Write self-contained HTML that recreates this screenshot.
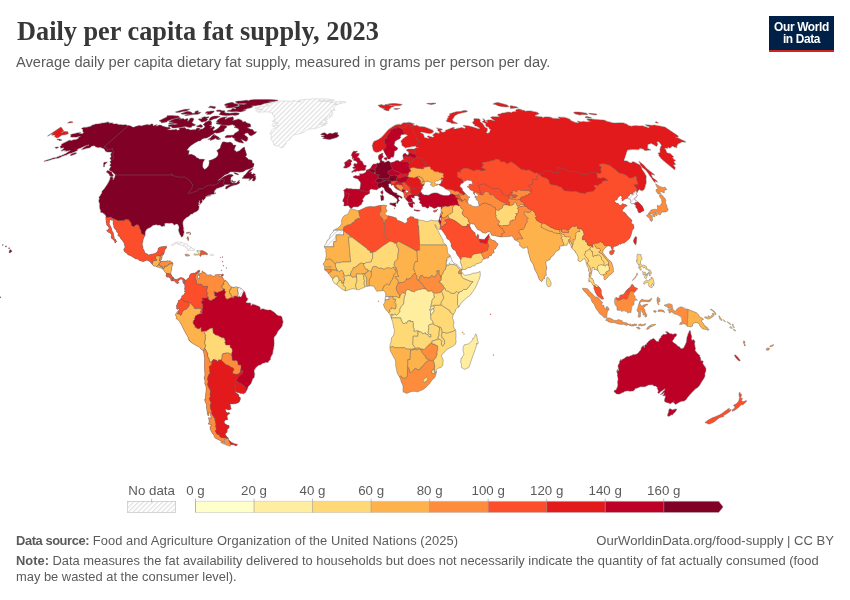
<!DOCTYPE html>
<html lang="en">
<head>
<meta charset="utf-8">
<title>Daily per capita fat supply, 2023</title>
<style>
html,body{margin:0;padding:0;background:#fff;}
body{width:850px;height:600px;position:relative;overflow:hidden;font-family:"Liberation Sans",sans-serif;color:#5b5b5b;}
.abs{position:absolute;white-space:nowrap;}
#title{left:16.5px;top:14px;font-family:"Liberation Serif",serif;font-weight:bold;font-size:27.6px;line-height:34px;color:#373737;transform-origin:0 50%;transform:scaleX(0.953);}
#subtitle{left:16px;top:52.6px;font-size:14.67px;line-height:18px;color:#5b5b5b;transform-origin:0 50%;}
#logo{left:769px;top:16px;width:65px;height:35.8px;background:#002147;border-bottom:2.8px solid #ce261e;box-sizing:border-box;color:#fff;font-weight:bold;font-size:11.9px;line-height:12px;text-align:center;padding-top:5.3px;letter-spacing:-0.35px;white-space:normal;}
.foot{font-size:12.9px;line-height:16px;color:#5b5b5b;transform-origin:0 50%;}
.foot b{font-weight:bold;}
#src{left:16px;top:533px;}
#url{right:16px;top:533px;font-size:13.07px;}
#note1{left:16px;top:553px;}
#note2{left:16px;top:569px;}
svg{position:absolute;left:0;top:0;}
.lg{font-family:"Liberation Sans",sans-serif;font-size:13.3px;fill:#5b5b5b;}
</style>
</head>
<body>
<div id="title" class="abs">Daily per capita fat supply, 2023</div>
<div id="subtitle" class="abs">Average daily per capita dietary fat supply, measured in grams per person per day.</div>
<div id="logo" class="abs">Our World<br>in Data</div>
<svg width="850" height="600" viewBox="0 0 850 600">
<defs>
<pattern id="hatch" width="3.4" height="3.4" patternUnits="userSpaceOnUse" patternTransform="rotate(45)"><rect width="3.4" height="3.4" fill="#fff"/><line x1="0.6" y1="0" x2="0.6" y2="3.4" stroke="#dedede" stroke-width="1.1"/></pattern>
<clipPath id="c_africa"><path d="M350.2,209.0L351.5,208.7L356.5,210.3L358.2,210.8L361.7,209.3L365.8,207.2L369.7,206.4L374.4,206.7L378.7,205.6L384.3,205.1L386.9,205.6L385.9,207.4L386.0,209.0L387.1,210.6L386.5,211.9L384.8,213.7L385.1,214.0L387.3,215.8L388.4,215.8L391.9,216.6L396.4,217.9L396.9,220.0L401.4,221.5L405.0,223.4L407.4,221.8L407.0,218.9L410.4,216.6L413.7,217.1L414.2,218.4L418.0,219.2L418.5,220.0L423.0,220.5L427.0,221.8L429.0,221.0L431.3,220.0L434.2,220.8L438.4,220.8L440.4,225.5L440.1,229.1L439.5,229.9L437.8,228.6L436.8,227.8L435.2,224.4L434.9,225.5L436.4,228.3L437.9,230.4L440.0,234.6L441.6,237.5L443.1,240.1L443.0,242.4L446.3,245.0L447.2,247.7L447.4,251.3L447.9,253.4L450.3,255.5L452.5,261.8L454.8,263.6L457.2,264.6L460.1,268.0L461.7,269.3L462.2,270.1L460.9,272.2L462.1,272.5L464.7,275.3L469.7,274.6L473.1,273.2L475.4,273.0L477.9,272.5L480.1,271.4L480.3,275.1L479.7,278.0L478.2,281.3L476.9,284.7L474.9,288.4L472.9,291.5L470.5,294.9L467.5,297.3L464.7,299.6L462.4,301.7L459.9,304.9L459.0,306.9L457.3,308.0L455.7,309.3L455.4,311.1L454.5,312.9L453.3,314.8L452.3,318.2L453.5,320.3L453.9,323.1L453.3,325.7L454.4,328.6L455.7,329.9L455.9,332.5L456.0,336.2L455.8,339.6L456.2,341.4L455.4,344.3L453.0,346.1L450.7,347.4L447.1,349.2L445.4,351.3L442.8,353.7L441.9,354.5L441.5,356.3L442.6,358.1L443.2,360.2L443.0,362.6L442.9,365.2L441.2,367.3L437.0,368.6L436.0,370.1L436.6,371.2L436.3,372.8L435.6,375.6L434.6,377.7L431.7,380.6L429.7,383.5L427.7,385.6L424.9,388.2L423.2,389.5L420.7,390.5L419.1,391.3L416.9,391.8L414.5,391.3L411.5,391.6L406.5,393.4L404.4,392.3L403.1,392.1L403.2,391.0L402.9,388.4L403.2,386.9L402.5,384.5L401.3,382.2L400.5,379.0L399.7,377.2L398.0,374.8L397.0,372.2L396.4,369.1L395.6,365.2L395.7,362.3L395.3,360.0L393.3,356.6L392.0,354.0L390.3,350.8L389.9,347.7L389.9,345.6L390.9,342.2L391.6,337.8L393.7,335.1L394.4,331.2L394.7,330.4L393.8,328.1L393.3,325.5L392.7,322.1L391.3,318.4L391.1,317.6L390.6,315.6L388.6,312.7L386.1,310.1L384.7,308.0L383.3,304.3L384.5,303.3L384.9,301.5L384.9,299.9L385.6,296.5L385.8,294.7L385.4,292.3L383.5,290.7L382.6,290.5L380.3,291.0L379.1,291.0L376.8,291.3L375.4,289.2L373.4,286.0L369.2,286.0L367.4,286.3L365.8,286.6L364.2,287.4L361.8,288.4L360.7,288.9L358.4,290.0L356.1,289.2L353.8,288.7L351.5,288.9L349.2,289.7L345.7,291.0L342.3,289.4L338.1,286.0L336.5,284.5L334.2,283.2L332.6,280.6L332.4,278.2L331.5,277.7L329.5,274.8L328.6,273.8L327.0,271.4L324.7,270.1L324.5,268.3L324.8,267.0L323.0,264.1L324.2,262.3L325.4,260.5L325.9,257.6L326.4,255.2L326.0,252.6L325.6,251.3L326.1,249.7L324.5,247.7L324.6,245.3L326.2,243.2L327.0,240.6L329.3,238.5L329.8,236.4L330.8,234.1L333.1,232.0L333.6,230.2L337.4,228.3L338.8,227.3L340.4,225.7L341.8,223.1L341.4,221.0L342.6,217.6L344.4,215.5L346.4,214.7L348.2,213.7L349.5,210.8Z"/></clipPath>
<clipPath id="c_namerica"><path d="M183.8,283.6L183.1,282.9L182.7,281.5L183.2,280.8L182.7,280.6L182.3,279.8L181.2,279.0L180.0,279.3L179.5,280.0L178.6,280.8L178.1,280.8L177.9,281.3L178.9,282.9L178.2,283.2L176.8,283.7L176.4,282.1L175.5,282.4L175.1,281.3L173.5,280.8L172.6,280.8L172.2,281.1L171.0,280.6L170.6,279.8L170.9,278.9L170.2,278.2L169.3,277.7L168.7,277.4L168.5,276.6L167.8,276.1L168.0,276.9L167.5,277.4L167.1,276.9L166.2,276.6L166.0,275.3L166.3,274.4L165.9,274.0L166.4,273.5L164.7,271.7L164.3,270.9L163.2,269.9L162.2,268.8L162.5,268.4L162.9,268.8L163.1,268.5L162.7,267.8L162.1,267.5L161.8,268.2L160.4,268.0L159.7,267.9L158.7,267.2L157.5,267.2L156.9,266.7L155.8,266.2L154.4,266.2L153.3,265.7L152.3,264.6L149.9,261.8L148.8,261.0L147.1,260.2L145.8,260.5L143.8,261.4L142.6,261.6L141.0,261.0L139.5,260.5L137.6,259.1L135.8,258.9L133.5,257.6L131.6,256.4L131.3,255.8L129.9,255.5L127.8,254.7L127.1,253.5L124.8,252.1L123.9,250.4L123.6,249.2L124.4,249.0L124.3,248.2L124.8,247.4L125.0,246.6L124.5,245.4L124.4,244.3L124.0,243.0L122.4,240.4L120.5,238.4L119.8,236.8L118.1,235.7L117.8,235.1L118.5,233.4L117.5,232.8L116.5,231.6L116.4,229.7L115.3,229.5L114.3,228.1L113.6,226.9L113.8,226.1L113.2,224.1L113.0,222.1L113.4,221.1L112.1,220.0L111.3,220.2L110.3,219.4L109.6,220.5L109.6,221.8L109.2,223.7L109.6,224.8L110.7,226.6L110.9,227.2L111.2,227.4L111.2,228.3L111.6,228.2L111.6,229.9L112.1,230.6L112.4,231.5L113.4,232.9L113.6,235.3L114.0,236.5L114.4,237.7L114.2,239.0L115.3,239.1L116.0,240.3L116.6,241.5L116.4,241.9L115.3,242.9L114.9,242.9L114.6,241.3L113.4,239.8L112.0,238.6L111.0,237.9L111.5,236.0L111.5,234.6L110.6,233.8L109.4,232.6L109.0,232.9L108.6,232.2L107.4,231.6L106.5,230.1L106.7,229.9L107.6,230.1L108.7,229.1L109.1,227.9L107.9,226.0L106.8,225.3L106.5,223.7L106.2,222.0L105.9,219.9L105.8,217.5L105.9,216.2L105.1,214.7L104.2,214.4L104.2,213.6L103.1,213.5L102.6,212.8L100.6,212.5L100.3,212.1L100.6,210.7L99.6,208.1L99.4,204.4L99.7,203.8L99.2,203.0L98.6,200.8L99.3,198.7L98.9,197.3L100.5,195.1L101.7,192.9L102.1,190.9L104.4,188.5L107.6,183.8L109.3,180.4L110.1,178.2L110.2,177.0L110.8,176.5L113.2,177.4L112.8,179.8L113.7,179.1L114.7,177.0L115.3,175.0L115.1,174.2L112.9,172.5L112.2,171.4L109.3,170.3L109.9,168.1L111.4,166.6L109.7,165.5L111.0,163.5L110.1,161.7L111.1,160.4L110.8,159.5L109.8,158.7L111.2,156.6L110.5,154.6L111.6,152.3L110.0,152.1L107.1,152.1L105.5,151.4L104.2,148.9L102.9,148.4L100.5,147.6L97.8,147.8L95.3,146.7L94.2,145.7L91.6,146.2L90.2,147.8L89.0,148.0L86.4,148.5L83.9,149.3L81.3,149.8L82.5,148.4L86.0,146.0L88.7,145.3L88.9,144.7L85.1,146.0L82.0,147.6L77.5,149.3L77.6,150.5L73.9,152.2L70.8,153.2L68.1,154.0L66.5,155.1L62.2,156.3L60.3,157.5L57.0,158.5L55.9,158.4L53.4,159.0L50.5,159.9L48.1,160.7L44.0,161.4L44.1,161.0L47.5,159.8L50.2,159.1L53.6,157.7L56.3,157.4L58.3,156.4L62.6,155.0L63.5,154.5L65.8,153.6L68.2,151.8L70.7,150.4L67.8,151.1L67.6,150.7L65.6,151.6L65.8,150.3L64.3,151.2L65.0,150.0L62.0,151.0L60.9,151.0L62.4,149.5L63.7,148.7L63.5,147.8L60.6,148.3L60.4,147.1L59.8,146.6L61.5,145.2L61.3,144.2L63.7,142.9L66.8,141.5L69.0,140.3L70.7,140.2L71.4,140.5L74.3,139.4L75.3,139.6L77.6,138.9L78.6,137.8L78.1,137.4L80.6,136.5L79.5,136.6L77.0,137.1L75.8,137.6L75.0,137.1L72.2,137.3L70.4,136.8L70.8,135.8L70.4,134.5L74.2,133.6L79.5,132.4L81.0,132.4L79.2,133.6L83.0,133.5L83.4,132.1L82.5,131.2L82.8,130.1L82.5,129.2L81.2,128.4L83.8,127.3L86.9,127.2L90.5,126.2L92.4,125.1L95.6,124.1L97.6,123.9L102.2,122.9L103.5,123.1L107.7,121.9L109.5,122.4L109.3,123.3L110.6,122.9L113.2,123.0L112.4,123.5L114.4,123.9L116.4,123.7L118.9,124.4L121.8,124.6L122.7,124.9L125.4,124.5L127.0,125.2L128.4,125.5L130.9,126.0L132.2,127.1L133.8,127.3L136.3,126.3L139.2,125.6L141.3,125.9L145.0,125.0L148.3,124.4L148.4,125.3L150.2,124.8L151.8,123.8L152.7,124.0L153.2,126.0L157.1,124.5L155.5,126.2L157.9,125.8L159.3,125.1L161.1,125.3L162.7,126.2L165.7,127.0L167.7,127.4L169.5,127.2L170.6,128.4L167.1,129.5L169.8,129.9L174.6,129.7L176.4,129.3L177.0,130.6L179.9,129.5L179.0,128.6L180.8,127.8L183.0,127.7L184.5,127.5L185.4,128.0L186.0,129.2L188.1,129.0L190.2,130.0L193.1,129.7L195.6,129.7L196.5,128.4L198.4,128.0L200.3,128.7L198.6,130.8L201.1,129.1L202.4,129.1L205.1,126.9L204.4,125.5L203.2,124.6L205.5,122.3L208.9,120.7L210.7,121.0L211.5,122.0L211.6,124.4L209.2,125.5L212.0,125.9L210.2,128.2L213.8,126.5L214.7,127.9L212.9,129.5L213.5,131.0L216.4,129.4L219.1,127.5L221.0,125.1L223.3,125.3L225.5,125.6L226.9,126.7L226.2,127.8L224.1,129.0L224.5,130.1L223.5,131.2L219.1,132.8L216.5,133.2L215.1,132.5L213.8,133.6L210.8,135.6L209.6,136.6L206.5,138.1L203.8,138.3L201.7,139.3L200.5,140.8L198.3,141.1L194.7,143.0L190.9,145.6L188.8,147.5L186.8,150.3L189.3,150.7L188.7,153.0L188.4,154.8L191.3,154.3L194.2,155.4L195.5,156.3L196.2,157.5L198.2,158.2L199.6,159.2L202.7,159.3L204.7,159.6L203.2,161.7L202.6,164.2L202.6,167.0L204.4,169.4L206.3,168.6L208.6,166.0L209.5,162.1L208.8,160.7L212.5,159.6L215.5,157.9L217.5,156.2L218.2,154.5L218.0,152.5L216.7,150.7L220.3,148.1L220.7,146.0L222.3,142.3L223.9,141.7L226.6,142.4L228.3,142.6L230.1,142.0L231.4,142.8L232.9,144.1L232.9,145.1L236.1,145.3L235.0,147.3L234.1,150.3L235.6,150.7L236.3,152.1L239.6,150.7L242.6,148.1L244.4,147.0L244.8,149.1L245.9,152.2L246.7,155.1L245.3,156.6L247.3,158.0L248.4,159.4L251.3,160.1L252.2,160.8L252.2,162.9L253.6,163.3L254.1,164.2L253.3,167.0L251.5,168.0L249.8,168.8L246.2,169.8L243.0,171.8L239.5,172.2L235.4,171.7L232.4,171.7L230.3,171.8L227.9,173.7L224.9,174.8L220.8,178.2L217.6,180.5L219.5,180.1L223.9,176.7L228.9,174.6L232.0,174.4L233.4,175.6L230.9,177.3L230.6,180.1L230.7,182.0L233.0,183.3L236.5,182.9L239.4,180.0L239.0,181.9L240.0,182.8L237.0,184.5L232.0,186.0L229.6,187.0L226.7,188.9L225.2,188.7L225.8,186.5L230.0,184.4L226.7,184.5L224.3,184.8L224.4,185.7L221.8,186.9L219.3,187.8L216.9,188.6L215.3,190.1L214.8,190.6L214.3,192.0L214.5,193.4L215.4,193.5L215.5,192.5L215.9,193.1L215.5,193.8L214.0,194.2L213.0,194.2L211.3,194.7L209.0,194.9L207.0,195.7L210.3,195.2L210.8,195.7L207.5,196.4L206.2,196.4L205.5,196.9L206.1,197.0L205.0,198.8L202.9,200.8L202.9,200.2L202.0,199.4L202.0,200.8L202.4,201.2L202.2,202.2L201.2,203.2L199.4,205.3L199.2,205.2L200.4,203.4L199.6,202.4L200.0,200.3L199.2,201.4L199.2,203.1L197.9,202.6L199.1,203.5L198.5,206.0L199.1,206.1L199.1,207.0L198.7,209.7L196.8,211.6L194.3,212.4L192.5,213.9L191.4,214.1L190.0,215.0L189.5,215.9L186.7,217.6L185.1,218.8L183.7,220.4L182.9,222.2L182.9,224.0L183.2,226.3L183.8,228.1L183.6,229.3L184.1,232.3L183.7,234.0L183.5,235.1L182.7,236.7L181.9,237.0L180.9,236.7L180.7,235.5L180.0,234.9L179.2,232.7L178.5,230.7L178.3,229.7L179.1,227.9L178.8,226.5L177.6,224.3L176.8,223.9L174.3,225.1L173.9,225.0L173.1,223.8L171.9,223.1L169.3,223.4L167.4,223.2L165.7,223.3L164.7,223.7L164.9,224.4L164.6,225.5L165.0,226.0L164.5,226.3L163.7,226.0L162.8,226.4L161.2,226.4L159.9,225.0L157.8,225.3L156.4,224.7L155.0,224.9L152.9,225.5L150.5,227.4L148.0,228.6L146.5,229.8L145.7,231.0L145.3,232.8L145.1,234.0L145.4,234.9L144.1,237.2L143.3,239.1L142.6,242.6L142.2,243.9L142.3,245.3L142.9,246.6L143.0,248.6L144.2,250.6L144.6,252.0L145.3,253.3L147.6,254.0L148.3,255.1L150.4,254.4L152.2,254.1L154.0,253.7L155.5,253.2L157.1,252.1L157.8,250.6L158.3,248.4L158.8,247.7L160.4,247.0L162.9,246.4L164.9,246.5L166.3,246.2L166.7,246.8L166.5,248.0L165.1,249.6L164.3,251.2L164.7,251.7L164.2,252.8L163.4,254.8L162.9,254.1L162.4,254.2L162.8,254.6L162.7,255.3L162.1,256.4L162.3,256.8L162.0,257.8L162.1,258.0L161.6,259.3L161.1,260.0L160.7,260.1L160.1,261.0L160.8,261.5L161.1,261.1L161.7,261.4L162.5,261.1L163.1,261.0L163.7,261.1L164.7,261.3L165.8,261.3L166.5,261.0L166.9,260.7L167.6,260.8L168.1,261.0L168.7,260.9L169.2,260.7L170.2,261.1L170.5,261.1L171.2,261.6L171.8,262.2L172.6,262.6L173.1,263.3L172.9,263.6L172.7,264.2L172.8,265.1L172.2,266.0L171.9,267.1L171.7,268.2L171.8,268.9L171.8,270.1L171.4,270.3L171.1,271.4L171.2,272.1L170.7,272.8L170.7,273.5L171.0,273.9L171.5,275.3L172.3,276.4L173.4,277.5L174.1,278.4L174.1,279.0L175.0,279.1L175.2,278.9L175.8,279.5L176.9,279.4L178.0,278.7L179.4,278.2L180.2,277.4L181.5,277.6L181.4,277.8L182.6,277.9L183.6,278.3L184.3,279.1L185.2,279.9L184.9,280.2L185.3,281.8L184.9,282.5L184.1,282.4Z"/></clipPath>
<clipPath id="c_hispaniola"><path d="M197.1,250.5L198.5,250.6L200.4,251.0L200.7,250.6L202.5,250.6L203.8,251.3L204.4,251.2L204.7,252.1L206.0,252.1L205.8,252.8L206.8,252.9L207.8,253.9L206.9,254.9L205.9,254.4L204.8,254.5L204.1,254.4L203.6,254.8L202.7,255.0L202.4,254.4L201.6,254.8L200.6,256.5L200.0,256.1L200.0,255.4L198.5,254.9L197.4,255.1L196.1,254.9L194.9,255.4L193.8,254.6L194.1,253.8L196.1,254.1L197.8,254.3L198.7,253.7L197.8,252.6L197.9,251.6L196.5,251.2Z"/></clipPath>
<clipPath id="c_samerica"><path d="M185.2,279.9L186.3,279.9L188.2,278.1L189.1,277.8L189.2,277.0L189.8,274.8L191.1,273.6L192.6,273.5L192.8,273.0L194.6,273.2L196.5,271.9L197.4,271.3L198.6,270.0L199.4,270.2L200.0,270.9L199.5,271.7L199.4,272.4L198.0,272.7L198.7,273.8L198.6,275.2L197.5,276.7L198.2,278.8L199.2,278.6L199.8,276.7L199.2,275.8L199.2,273.8L202.1,272.8L201.9,271.6L202.7,270.7L203.4,272.6L205.0,272.6L206.4,274.1L206.5,274.9L208.5,274.9L211.0,274.7L212.2,275.9L214.0,276.2L215.3,275.4L215.4,274.7L218.2,274.6L221.0,274.5L219.0,275.3L219.7,276.5L221.5,276.7L223.2,278.0L223.5,280.1L224.7,280.0L225.6,280.6L227.1,281.6L228.4,283.3L228.5,284.7L229.3,284.7L230.5,286.0L231.4,286.9L234.1,287.4L234.4,287.0L236.3,286.8L238.7,287.5L239.5,287.7L241.2,288.4L243.6,290.6L243.9,291.6L244.7,291.5L245.3,293.0L246.5,297.5L247.7,298.0L247.8,299.8L246.0,301.9L246.7,302.7L250.8,303.1L250.9,305.7L252.7,304.0L255.6,305.0L259.4,306.5L260.6,308.1L260.2,309.5L262.9,308.7L267.4,310.1L270.8,310.0L274.3,312.2L277.2,315.1L279.0,315.8L281.0,316.0L281.8,316.8L282.7,320.1L283.1,321.7L282.3,326.0L281.1,327.7L278.0,331.3L276.6,334.3L275.0,336.6L274.5,336.6L273.9,338.5L274.3,343.4L273.8,347.4L273.7,349.2L273.0,350.2L272.8,353.7L270.8,357.1L270.5,359.8L268.8,360.9L268.3,362.5L265.9,362.5L262.4,363.5L260.9,364.7L258.5,365.4L256.0,367.5L254.4,370.1L254.2,372.0L254.8,373.5L254.6,376.1L254.3,377.4L252.9,378.8L251.1,383.4L249.4,385.5L248.1,386.7L247.5,389.2L246.4,390.7L245.7,392.3L243.5,393.8L241.8,393.3L240.7,393.5L238.4,392.4L237.0,392.5L235.4,391.1L235.5,392.4L238.7,394.7L238.8,396.5L240.3,397.6L240.5,398.9L239.1,402.2L236.3,403.6L232.1,404.1L229.7,403.9L230.5,405.4L230.6,407.4L231.3,408.7L230.3,409.6L228.2,410.0L225.9,409.0L225.3,409.7L226.3,412.3L228.0,413.0L228.9,412.2L229.9,413.6L228.2,414.4L227.0,416.0L227.5,418.6L227.5,419.9L225.5,419.9L224.3,421.2L224.4,423.2L227.0,425.0L229.1,425.6L229.2,427.8L227.3,429.3L227.1,432.3L225.6,433.2L225.3,434.4L227.0,437.0L228.9,438.5L228.0,438.4L226.7,438.9L224.2,439.9L224.9,442.2L224.1,442.2L221.5,441.4L218.5,439.7L215.4,438.3L214.1,436.7L214.0,435.2L212.3,433.5L210.2,429.2L210.1,426.8L211.5,424.8L208.2,424.1L209.3,421.8L208.5,417.5L211.1,418.4L210.3,413.1L208.7,412.4L209.1,415.6L207.7,415.3L207.1,411.6L206.3,406.8L206.7,405.0L205.4,402.5L204.4,399.5L205.3,399.4L205.5,395.2L206.0,391.1L206.1,387.2L204.7,383.3L205.0,381.1L204.1,377.9L204.9,374.7L204.5,369.6L204.5,364.2L204.6,358.4L204.0,354.1L203.1,350.4L200.6,348.9L200.4,347.8L195.6,345.2L191.2,342.4L189.3,340.8L188.2,338.6L188.5,337.9L186.3,334.4L183.7,329.6L181.3,324.4L180.3,323.2L179.5,321.3L177.6,319.6L175.9,318.5L176.6,317.4L175.4,314.9L176.1,313.1L177.9,311.4L179.1,309.4L178.5,308.3L177.7,309.5L176.3,308.4L176.7,307.6L176.3,305.3L177.1,304.9L177.5,303.2L178.4,301.6L178.2,300.5L179.5,299.9L181.1,298.9L180.8,298.1L181.7,297.9L181.6,296.6L182.1,295.6L183.3,295.4L184.3,293.8L185.2,292.4L184.4,291.8L184.9,290.3L184.4,287.9L184.9,287.2L184.7,285.0L183.8,283.6L184.1,282.4L184.9,282.5L185.3,281.8L184.9,280.2Z"/></clipPath>
<clipPath id="c_tdf"><path d="M228.3,439.2L229.5,440.4L231.3,442.2L234.4,443.7L237.4,444.3L237.0,445.6L235.3,445.7L233.9,444.8L232.7,444.7L230.6,444.7L230.2,446.3L227.4,445.6L223.2,443.8L220.6,442.5L222.0,441.9L225.0,442.8L225.5,441.7L225.3,439.9L226.4,439.4Z"/></clipPath>
<clipPath id="c_eurasia"><path d="M438.4,220.8L439.0,220.0L439.5,218.7L439.8,216.8L439.9,216.0L440.5,214.0L441.2,212.1L440.9,210.0L441.0,208.7L441.2,206.9L439.9,206.9L437.9,206.4L436.5,207.7L434.0,208.5L432.2,207.2L429.2,206.1L428.8,207.7L427.3,208.2L425.0,206.7L422.6,206.7L421.9,205.9L421.7,204.3L419.4,202.8L420.3,200.9L418.8,199.4L418.7,198.1L419.7,197.0L418.1,196.5L418.1,196.0L416.8,195.7L414.6,195.7L413.7,197.3L414.9,197.8L412.5,198.1L411.6,196.8L411.1,198.1L412.7,200.2L412.0,200.9L414.5,202.8L414.6,204.1L413.3,203.5L412.7,204.6L413.1,207.2L411.6,207.4L409.8,206.4L408.3,203.8L408.7,202.5L411.9,203.0L412.1,202.5L408.6,202.1L407.3,200.9L406.1,199.6L405.6,198.9L404.2,197.3L403.9,194.4L403.8,193.2L402.7,192.1L401.8,191.6L399.8,190.6L396.4,189.0L394.6,187.2L393.8,185.2L392.5,184.4L391.8,185.7L391.0,183.9L390.0,183.4L388.4,184.1L388.7,185.4L388.8,187.2L391.1,188.8L392.3,191.1L393.9,192.6L397.1,193.2L396.5,194.2L399.0,195.5L401.2,196.5L402.3,197.8L401.9,198.6L399.1,196.8L398.3,197.8L398.4,199.1L399.5,200.7L398.3,201.4L397.6,203.5L396.7,203.3L396.8,201.4L397.6,200.2L396.2,198.1L394.9,197.6L394.4,196.5L393.1,196.0L391.7,195.0L389.6,194.2L388.7,193.4L386.3,191.9L385.0,190.6L384.5,189.0L383.8,187.7L381.5,186.7L379.9,188.0L378.6,188.2L376.8,189.8L374.3,189.5L372.6,189.3L371.1,189.0L369.5,190.1L369.5,191.9L369.7,193.2L367.6,194.4L364.9,195.5L364.5,196.5L362.4,199.4L363.4,201.2L361.9,202.5L361.5,204.3L358.9,206.1L358.2,206.7L355.4,206.7L353.5,206.7L351.5,208.2L350.9,208.5L349.4,206.9L349.2,206.1L347.9,205.4L347.1,205.4L345.7,205.9L343.8,205.9L344.1,203.5L344.1,202.2L342.7,201.2L343.2,199.6L344.1,197.6L344.6,195.0L344.3,193.2L344.3,191.6L343.5,190.3L345.7,189.0L346.5,188.2L348.4,188.8L351.1,188.8L353.6,189.3L355.1,189.0L356.7,189.3L359.2,189.3L359.9,189.0L360.5,185.9L360.7,183.6L360.5,182.1L358.9,180.6L358.5,179.5L357.3,178.8L354.7,178.0L353.5,177.5L353.3,176.5L355.7,175.5L357.5,176.0L359.2,175.7L359.8,175.7L359.8,173.4L360.6,173.9L363.2,173.7L365.0,172.7L366.2,171.7L366.2,170.2L368.0,169.6L369.7,168.9L370.9,167.6L371.8,166.1L372.4,164.9L373.7,164.1L376.5,163.9L377.0,163.1L378.8,163.4L379.7,162.7L380.3,162.2L379.8,160.2L379.0,159.7L378.5,158.5L378.4,156.0L379.3,154.8L381.6,153.6L382.9,153.3L382.7,154.5L382.6,156.0L383.7,156.5L382.5,157.7L381.6,158.7L381.5,159.9L382.1,160.4L382.3,161.2L384.1,161.4L384.0,162.4L386.5,161.9L387.2,161.2L388.9,160.9L389.8,162.2L390.8,162.7L394.4,161.7L395.8,160.7L398.3,160.4L399.2,161.4L400.9,161.4L401.4,160.2L403.6,159.4L403.2,158.0L402.8,155.5L403.7,153.8L405.5,153.3L406.9,155.0L408.6,154.8L408.8,152.8L408.6,151.6L406.8,150.9L406.6,149.7L408.9,149.0L412.8,149.0L414.8,149.0L414.9,148.3L416.6,147.8L418.7,148.0L416.3,147.3L415.3,146.1L414.0,146.6L411.3,146.8L409.0,147.3L405.4,148.0L403.9,146.8L401.9,145.4L401.8,143.7L400.9,141.6L401.4,140.2L402.8,138.8L406.3,136.3L407.5,135.8L407.1,134.9L404.9,134.2L401.6,134.4L400.2,136.3L400.7,137.4L399.6,138.8L397.4,139.7L394.9,141.4L394.5,143.3L394.1,144.7L394.7,146.1L397.2,147.5L397.8,148.7L396.3,150.4L394.4,151.1L394.1,155.0L393.3,157.2L391.0,157.0L390.1,158.9L387.8,158.9L387.0,156.7L385.3,154.1L383.5,150.4L382.3,149.0L382.3,150.2L379.8,151.6L378.7,151.9L376.1,152.4L373.6,151.1L372.8,148.5L372.1,145.4L373.6,141.6L378.3,139.5L381.5,137.2L384.5,134.0L388.2,129.7L390.6,127.9L394.9,125.3L398.3,124.2L401.0,124.4L403.1,122.7L406.2,122.7L409.1,122.2L414.6,123.9L412.6,124.4L414.8,125.7L416.3,125.1L419.5,126.4L424.2,126.8L431.5,129.5L433.1,130.4L433.7,131.9L432.1,133.1L429.6,133.8L421.3,131.9L420.2,132.4L423.4,134.0L424.6,137.4L427.0,138.1L428.6,138.7L428.5,137.7L427.1,136.5L428.1,135.8L432.8,137.2L434.0,136.5L432.4,134.9L435.6,132.6L437.3,132.9L439.0,133.5L439.5,131.9L437.6,130.6L438.0,129.3L436.3,127.9L441.3,128.7L442.7,129.9L440.6,130.1L441.2,131.5L442.7,132.2L445.3,131.7L445.1,130.4L448.2,129.3L453.2,127.3L454.6,127.5L453.6,128.8L455.7,129.0L456.6,128.4L459.7,128.1L461.8,127.3L464.3,128.6L465.6,127.3L463.1,125.9L463.6,125.2L468.9,125.9L471.6,126.6L479.1,129.0L479.6,127.9L477.3,126.8L476.7,126.2L474.6,125.9L474.7,125.1L472.6,123.3L472.2,122.7L473.9,120.7L473.8,118.8L474.6,118.4L479.2,118.8L480.4,120.1L480.0,121.8L481.6,122.5L483.1,124.0L484.8,127.0L487.5,128.4L487.6,129.9L486.3,133.1L488.3,133.3L488.6,132.6L490.1,131.9L489.9,130.8L490.6,129.7L489.0,128.6L488.6,127.0L486.7,126.8L485.6,125.7L485.5,123.5L482.1,121.8L484.0,120.3L482.6,118.8L483.2,118.6L485.0,119.9L485.9,122.0L487.8,122.2L485.9,120.7L488.0,119.9L491.4,119.9L495.2,121.1L492.4,119.3L490.5,117.2L492.8,116.6L496.8,116.7L499.9,116.5L497.5,115.3L498.2,114.1L499.9,114.1L502.0,113.1L505.6,112.7L505.5,112.2L509.5,112.1L511.2,112.5L513.4,111.5L516.3,111.5L515.4,110.5L515.9,109.7L518.4,108.9L521.7,109.5L520.4,110.1L524.2,110.3L525.7,111.3L526.7,110.9L531.1,110.9L535.8,111.9L538.0,112.6L539.1,113.7L538.2,114.3L535.4,115.3L534.8,115.9L537.2,116.3L540.1,116.7L541.0,116.4L543.5,117.8L543.5,117.2L545.7,116.8L551.2,117.2L552.7,118.2L559.8,118.5L558.0,117.0L561.7,117.2L564.2,117.2L568.3,118.4L570.7,119.7L570.8,120.5L574.9,122.2L578.6,123.1L577.4,121.0L581.2,121.8L583.3,121.3L587.2,121.9L587.7,121.4L590.7,121.6L586.8,119.7L587.8,118.7L604.2,120.1L607.5,121.4L614.1,123.1L620.1,122.7L623.7,122.9L626.5,123.9L628.7,125.5L631.7,126.2L633.4,125.7L635.9,125.5L639.7,125.9L642.5,125.7L648.5,127.7L649.5,127.0L646.0,125.6L645.2,124.6L651.5,125.3L654.6,125.1L661.2,126.2L665.1,127.1L678.5,136.1L677.8,137.2L675.2,137.0L678.5,138.1L682.3,140.1L684.1,140.7L685.6,141.7L685.9,142.3L682.0,141.9L679.2,143.5L678.0,143.9L677.3,145.5L676.6,147.1L677.1,148.0L672.4,146.3L670.0,148.3L667.9,147.3L667.7,148.5L664.5,148.0L665.9,149.7L666.5,152.1L667.7,153.1L670.4,153.6L673.9,157.0L672.4,157.2L673.7,159.2L675.7,160.3L673.8,161.7L675.8,164.4L673.3,164.9L675.4,167.6L674.7,169.9L672.3,168.1L668.0,164.5L661.4,158.9L658.7,155.5L658.8,154.1L657.8,153.1L660.1,152.4L660.0,149.5L660.4,147.1L661.5,145.2L658.7,141.7L656.7,141.9L658.1,144.0L656.6,146.6L651.5,143.6L647.9,144.4L647.7,148.4L651.1,149.9L647.4,150.4L644.9,150.7L643.1,149.0L639.9,148.6L638.8,149.8L632.8,149.5L627.4,150.1L625.9,154.8L623.9,160.7L627.2,160.9L629.5,162.5L631.9,163.0L632.0,161.8L634.3,161.9L639.5,164.7L641.4,166.8L642.0,169.3L644.2,172.3L646.4,176.3L646.0,180.0L646.5,181.8L645.7,184.8L644.8,187.8L644.5,189.3L642.6,190.8L641.3,190.8L639.3,189.6L637.6,191.5L637.8,192.3L636.9,192.2L636.5,193.0L636.4,193.9L637.5,195.8L636.8,196.4L636.6,196.8L636.2,197.6L635.1,198.1L634.4,198.7L635.0,199.9L636.0,200.5L637.8,201.7L641.1,204.8L642.5,206.4L643.8,209.4L643.7,210.9L641.9,211.4L640.7,212.4L638.8,212.7L637.9,211.3L637.5,209.3L635.3,206.6L636.7,206.2L634.2,203.9L632.9,203.4L632.4,204.1L631.4,203.4L630.6,203.0L630.6,201.8L631.0,201.5L630.6,201.1L630.4,199.7L630.1,199.2L628.7,199.0L627.3,198.3L624.7,199.0L623.7,200.2L621.8,200.9L622.3,199.7L621.4,198.7L622.2,197.0L620.4,195.6L619.0,196.5L617.5,198.3L617.0,200.0L615.0,200.2L614.4,201.3L616.4,203.1L618.3,203.5L618.9,204.7L621.0,205.5L622.5,203.6L624.9,204.6L626.3,204.7L627.3,206.1L624.6,206.8L624.2,208.2L622.6,209.5L622.2,211.3L625.2,212.8L627.0,215.3L629.3,217.7L631.5,219.7L632.1,221.7L631.0,222.4L632.0,223.8L633.5,224.6L633.9,226.7L633.9,228.8L632.8,229.0L631.9,231.9L631.0,235.3L629.6,238.4L627.0,240.8L624.3,243.0L621.8,243.3L620.7,244.5L619.7,243.6L618.7,244.9L615.8,246.2L613.4,246.6L613.1,249.4L611.9,249.5L611.0,247.6L611.3,246.6L608.2,245.8L607.2,246.2L604.5,248.4L603.0,250.9L602.8,252.7L605.0,255.5L607.6,258.9L609.9,260.5L611.6,262.6L613.2,267.4L613.4,272.0L611.6,273.7L609.1,275.4L607.5,277.6L604.8,280.0L603.8,278.4L604.3,276.6L602.5,275.1L600.5,274.7L599.5,273.4L598.1,270.7L595.9,269.5L594.0,269.5L594.1,267.5L592.1,267.5L592.2,270.4L591.3,274.2L590.7,276.5L591.0,278.4L592.5,278.4L593.6,280.8L594.1,283.1L595.5,284.6L596.9,284.9L598.2,286.3L598.7,286.5L600.1,288.1L601.2,289.8L601.4,291.6L601.2,292.8L601.4,293.7L601.7,295.2L602.5,295.9L603.5,298.2L603.4,299.1L601.8,299.3L599.6,297.4L596.8,295.3L596.5,294.0L595.1,292.2L594.7,290.0L593.8,288.6L594.0,286.7L593.4,285.6L592.4,284.6L592.0,283.3L590.7,281.8L589.5,280.6L589.2,282.2L588.7,280.7L588.8,279.1L589.3,276.6L589.0,274.6L589.5,272.6L588.6,271.1L588.5,268.2L587.4,266.9L586.4,263.7L585.6,260.5L584.3,258.3L583.0,259.6L580.6,261.5L579.3,261.2L577.8,260.6L578.2,257.4L577.4,254.9L575.2,251.9L575.3,251.0L574.0,250.6L572.1,248.5L571.2,247.2L570.9,245.8L570.3,244.6L569.2,243.0L567.1,243.0L567.4,244.0L566.9,245.5L565.9,244.9L565.6,245.4L564.9,245.1L564.0,244.9L563.8,245.9L562.3,245.8L559.6,246.3L560.0,248.3L559.0,249.9L555.9,251.6L553.8,254.7L552.3,256.4L550.2,258.0L550.3,259.3L549.2,259.9L547.3,260.8L546.2,261.0L545.8,263.0L546.5,266.4L546.8,268.5L546.0,271.0L546.3,275.4L545.2,275.6L544.2,277.6L545.0,278.4L542.9,279.2L542.2,281.0L541.3,281.7L539.0,279.3L537.8,275.6L536.7,273.0L535.9,271.7L534.5,269.2L533.7,266.0L533.1,264.3L530.7,260.7L529.3,255.7L528.2,252.3L527.9,249.2L527.2,246.7L524.1,248.3L522.4,248.0L519.1,244.8L520.1,243.9L519.4,242.8L516.5,240.6L514.7,240.0L513.9,238.1L511.8,236.1L507.8,236.6L504.1,236.6L501.0,237.0L496.7,236.2L494.2,235.6L491.6,235.3L490.3,232.1L489.1,231.6L487.5,232.1L485.4,233.3L482.5,232.5L480.1,230.5L477.8,229.7L476.0,227.3L474.0,223.8L472.8,224.2L471.3,223.3L470.6,224.3L469.2,224.2L469.9,225.4L469.7,226.0L470.7,227.9L471.8,230.2L473.0,230.8L473.5,231.7L475.1,232.8L475.4,233.9L475.2,234.8L475.6,235.6L476.3,236.3L476.7,237.2L477.1,237.9L476.8,236.0L477.2,234.6L477.8,234.3L478.6,235.1L478.8,236.6L478.5,238.2L479.0,239.2L479.4,239.1L481.2,239.3L483.1,239.4L484.5,239.5L485.8,237.7L487.3,236.1L488.6,234.4L489.2,233.6L489.1,235.4L489.6,237.4L490.8,239.2L492.2,240.1L493.9,240.5L495.2,240.9L496.4,242.5L497.1,243.3L497.9,243.7L498.0,244.2L497.3,245.8L497.0,246.5L496.1,247.4L495.4,249.1L494.4,249.0L494.0,249.6L493.7,250.9L494.2,252.7L494.0,253.0L492.9,253.0L491.6,254.0L491.5,255.3L491.0,255.8L489.6,255.8L488.7,256.5L488.8,257.5L487.8,258.2L486.5,258.0L485.1,258.9L484.0,259.0L482.4,259.7L482.0,260.9L482.1,261.8L479.8,262.9L476.3,264.1L474.3,265.9L473.3,266.1L472.6,265.9L471.3,267.0L469.9,267.5L468.0,267.6L467.4,267.8L467.0,268.5L466.4,268.7L466.0,269.3L464.9,269.3L464.2,269.6L462.6,269.5L461.9,268.0L461.9,266.5L461.5,265.8L461.0,263.8L460.3,262.8L460.7,262.6L460.4,261.4L460.7,260.9L460.5,259.8L460.2,258.7L459.4,257.9L459.2,256.9L458.0,255.9L456.6,253.7L455.9,251.6L454.2,249.8L453.1,249.4L451.5,246.9L451.1,245.1L451.1,243.5L449.6,240.6L448.5,239.6L447.3,239.1L446.4,237.6L446.5,237.0L445.8,235.6L445.1,235.0L444.1,233.1L442.5,231.0L441.3,229.2L440.1,229.2L440.4,227.8L440.4,226.9L440.6,225.8L440.5,225.5L438.6,221.0Z"/></clipPath>
<clipPath id="c_Ireland"><path d="M350.9,162.7L351.2,164.5L349.6,166.7L346.1,168.2L343.3,167.8L345.0,165.2L344.2,162.7L346.9,160.8L348.4,159.6L350.1,159.5L352.1,161.0Z"/></clipPath>
<clipPath id="c_Borneo"><path d="M634.7,291.7L633.5,294.1L635.3,296.5L634.9,297.7L637.5,300.1L634.8,300.5L634.0,302.2L634.1,304.6L631.9,306.4L631.7,309.0L630.7,313.0L630.4,312.1L627.7,313.2L626.9,311.6L625.3,311.5L624.1,310.6L621.4,311.6L620.6,310.3L619.0,310.5L617.1,310.2L616.9,306.7L615.8,305.9L614.7,303.7L614.4,301.4L614.6,299.0L615.9,297.3L617.7,298.2L619.4,297.7L619.8,295.4L620.8,295.0L623.5,294.4L625.1,292.3L626.2,290.7L627.0,289.7L628.9,288.3L630.6,286.5L631.7,284.4L632.6,284.4L633.8,285.7L634.0,286.9L635.6,287.6L637.5,288.4L637.4,289.4L635.9,289.5L636.3,290.8Z"/></clipPath>
<clipPath id="c_NewGuinea"><path d="M672.4,305.5L673.0,309.7L675.3,311.3L677.3,308.5L680.0,306.9L682.1,306.9L684.0,307.9L685.7,308.8L688.2,309.3L692.1,311.1L696.3,312.6L697.8,313.9L699.0,315.2L699.2,316.8L703.0,318.4L703.4,319.8L701.3,320.1L701.7,321.8L703.6,323.5L704.8,326.3L706.1,326.2L705.9,327.3L707.7,327.8L706.9,328.3L709.2,329.4L708.9,330.1L707.3,330.3L706.8,329.6L704.9,329.3L702.6,329.0L701.0,327.3L699.9,325.8L698.9,323.6L696.0,322.4L694.0,323.2L692.5,324.0L692.6,326.0L690.7,326.9L689.5,326.4L687.1,326.3L685.3,324.2L683.0,323.7L682.3,324.4L679.4,324.5L680.6,322.3L682.1,321.6L681.7,318.8L680.7,316.6L676.4,314.4L674.5,314.1L671.1,311.7L670.4,313.0L669.5,313.2L669.0,312.3L669.1,311.1L667.4,309.9L669.9,308.9L671.5,309.0L671.4,308.3L668.0,308.3L667.1,306.7L665.0,306.2L664.1,305.0L667.2,304.3L668.4,303.5L672.1,304.5Z"/></clipPath>
<clipPath id="c_Timor"><path d="M650.2,325.7L650.6,325.1L652.6,324.5L654.2,324.4L655.0,324.1L655.8,324.4L654.9,325.1L652.4,326.3L650.4,327.0L648.7,329.0L646.7,329.6L646.5,329.2L646.8,328.4L647.9,326.8Z"/></clipPath>
</defs>
<g id="map">
<g clip-path="url(#c_africa)">
<path d="M350.2,209.0L351.5,208.7L356.5,210.3L358.2,210.8L361.7,209.3L365.8,207.2L369.7,206.4L374.4,206.7L378.7,205.6L384.3,205.1L386.9,205.6L385.9,207.4L386.0,209.0L387.1,210.6L386.5,211.9L384.8,213.7L385.1,214.0L387.3,215.8L388.4,215.8L391.9,216.6L396.4,217.9L396.9,220.0L401.4,221.5L405.0,223.4L407.4,221.8L407.0,218.9L410.4,216.6L413.7,217.1L414.2,218.4L418.0,219.2L418.5,220.0L423.0,220.5L427.0,221.8L429.0,221.0L431.3,220.0L434.2,220.8L438.4,220.8L440.4,225.5L440.1,229.1L439.5,229.9L437.8,228.6L436.8,227.8L435.2,224.4L434.9,225.5L436.4,228.3L437.9,230.4L440.0,234.6L441.6,237.5L443.1,240.1L443.0,242.4L446.3,245.0L447.2,247.7L447.4,251.3L447.9,253.4L450.3,255.5L452.5,261.8L454.8,263.6L457.2,264.6L460.1,268.0L461.7,269.3L462.2,270.1L460.9,272.2L462.1,272.5L464.7,275.3L469.7,274.6L473.1,273.2L475.4,273.0L477.9,272.5L480.1,271.4L480.3,275.1L479.7,278.0L478.2,281.3L476.9,284.7L474.9,288.4L472.9,291.5L470.5,294.9L467.5,297.3L464.7,299.6L462.4,301.7L459.9,304.9L459.0,306.9L457.3,308.0L455.7,309.3L455.4,311.1L454.5,312.9L453.3,314.8L452.3,318.2L453.5,320.3L453.9,323.1L453.3,325.7L454.4,328.6L455.7,329.9L455.9,332.5L456.0,336.2L455.8,339.6L456.2,341.4L455.4,344.3L453.0,346.1L450.7,347.4L447.1,349.2L445.4,351.3L442.8,353.7L441.9,354.5L441.5,356.3L442.6,358.1L443.2,360.2L443.0,362.6L442.9,365.2L441.2,367.3L437.0,368.6L436.0,370.1L436.6,371.2L436.3,372.8L435.6,375.6L434.6,377.7L431.7,380.6L429.7,383.5L427.7,385.6L424.9,388.2L423.2,389.5L420.7,390.5L419.1,391.3L416.9,391.8L414.5,391.3L411.5,391.6L406.5,393.4L404.4,392.3L403.1,392.1L403.2,391.0L402.9,388.4L403.2,386.9L402.5,384.5L401.3,382.2L400.5,379.0L399.7,377.2L398.0,374.8L397.0,372.2L396.4,369.1L395.6,365.2L395.7,362.3L395.3,360.0L393.3,356.6L392.0,354.0L390.3,350.8L389.9,347.7L389.9,345.6L390.9,342.2L391.6,337.8L393.7,335.1L394.4,331.2L394.7,330.4L393.8,328.1L393.3,325.5L392.7,322.1L391.3,318.4L391.1,317.6L390.6,315.6L388.6,312.7L386.1,310.1L384.7,308.0L383.3,304.3L384.5,303.3L384.9,301.5L384.9,299.9L385.6,296.5L385.8,294.7L385.4,292.3L383.5,290.7L382.6,290.5L380.3,291.0L379.1,291.0L376.8,291.3L375.4,289.2L373.4,286.0L369.2,286.0L367.4,286.3L365.8,286.6L364.2,287.4L361.8,288.4L360.7,288.9L358.4,290.0L356.1,289.2L353.8,288.7L351.5,288.9L349.2,289.7L345.7,291.0L342.3,289.4L338.1,286.0L336.5,284.5L334.2,283.2L332.6,280.6L332.4,278.2L331.5,277.7L329.5,274.8L328.6,273.8L327.0,271.4L324.7,270.1L324.5,268.3L324.8,267.0L323.0,264.1L324.2,262.3L325.4,260.5L325.9,257.6L326.4,255.2L326.0,252.6L325.6,251.3L326.1,249.7L324.5,247.7L324.6,245.3L326.2,243.2L327.0,240.6L329.3,238.5L329.8,236.4L330.8,234.1L333.1,232.0L333.6,230.2L337.4,228.3L338.8,227.3L340.4,225.7L341.8,223.1L341.4,221.0L342.6,217.6L344.4,215.5L346.4,214.7L348.2,213.7L349.5,210.8Z" fill="#fed976"/>
<path d="M419.5,245.0L446.3,245.0L448.7,243.7L446.3,216.3L417.8,216.3L417.7,221.3L418.2,222.4L417.7,224.0L418.5,226.1Z" fill="#fed976" stroke="#6b6b6b" stroke-width="0.50" stroke-opacity="0.90"/>
<path d="M358.2,210.8L359.1,212.4L359.3,214.0L359.9,216.6L360.6,217.2L360.1,218.2L357.3,218.7L356.2,219.7L355.0,220.0L354.8,221.8L352.2,222.8L351.5,224.1L349.5,224.9L347.3,225.2L343.7,227.3L343.7,230.2L331.8,230.2L332.8,205.9L358.3,205.9Z" fill="#feb24c" stroke="#6b6b6b" stroke-width="0.50" stroke-opacity="0.90"/>
<path d="M343.7,230.2L343.6,234.9L336.1,234.9L336.2,241.4L333.9,241.6L333.5,243.0L333.8,246.8L322.3,246.8L322.9,230.2Z" fill="url(#hatch)" stroke="#6b6b6b" stroke-width="0.50" stroke-opacity="0.90"/>
<path d="M390.0,241.2L382.4,246.2L375.9,251.3L372.7,252.5L370.2,252.7L370.1,251.1L369.1,250.6L367.7,249.9L367.1,248.7L359.5,243.0L352.0,237.3L343.6,230.9L343.7,227.2L347.3,225.2L349.6,224.9L351.4,224.1L352.3,222.8L354.9,221.8L355.0,219.9L356.2,219.7L357.2,218.7L360.1,218.2L360.5,217.2L360.0,216.7L359.2,213.9L359.1,212.3L358.3,210.6L358.3,203.3L381.1,203.3L381.2,206.0L380.8,207.4L381.2,209.8L380.7,212.0L379.4,213.4L379.7,215.4L381.5,217.0L381.5,217.6L382.9,218.7L384.0,223.3L384.8,225.7L384.9,226.9L384.6,229.0L384.8,230.2L384.5,231.6L384.7,233.3L383.9,234.4L385.2,236.2L385.3,237.4L386.2,238.8L387.2,238.4L389.0,239.6Z" fill="#fc4e2a" stroke="#6b6b6b" stroke-width="0.50" stroke-opacity="0.90"/>
<path d="M384.0,223.3L382.9,218.7L381.5,217.6L381.5,217.0L379.7,215.4L379.4,213.4L380.7,212.0L381.2,209.8L380.8,207.4L381.2,206.0L381.1,203.3L388.8,203.3L389.3,215.8L388.2,215.9L388.1,218.0L387.1,218.7L386.4,219.6L384.9,220.5L385.2,221.6L385.0,222.7Z" fill="#fd8d3c" stroke="#6b6b6b" stroke-width="0.50" stroke-opacity="0.90"/>
<path d="M388.2,215.9L389.2,213.7L418.0,213.7L418.4,220.0L417.7,221.3L418.2,222.4L417.7,224.0L418.5,226.1L419.0,235.4L419.5,245.0L419.6,250.3L417.0,250.3L417.1,251.4L407.9,246.3L398.7,241.4L396.5,242.8L394.9,243.8L393.6,242.3L390.0,241.2L389.0,239.6L387.2,238.4L386.2,238.8L385.3,237.4L385.2,236.2L383.9,234.4L384.7,233.3L384.5,231.6L384.8,230.2L384.6,229.0L384.9,226.9L384.8,225.7L384.0,223.3L385.0,222.7L385.2,221.6L384.9,220.5L386.4,219.6L387.1,218.7L388.1,218.0Z" fill="#fc4e2a" stroke="#6b6b6b" stroke-width="0.50" stroke-opacity="0.90"/>
<path d="M322.3,246.8L333.8,246.8L333.5,243.0L333.9,241.6L336.2,241.4L336.1,234.9L343.6,234.9L343.7,230.9L352.0,237.3L348.5,237.3L349.5,248.6L350.5,259.9L350.9,260.2L350.4,262.0L341.2,262.0L340.9,262.6L339.9,262.5L338.7,263.0L337.1,262.3L336.4,262.3L336.0,263.8L335.2,264.3L333.7,262.5L332.3,260.6L330.9,259.9L329.7,259.1L328.6,259.1L327.4,259.7L326.3,259.4L325.4,260.5L322.0,260.5Z" fill="#feb24c" stroke="#6b6b6b" stroke-width="0.50" stroke-opacity="0.90"/>
<path d="M335.2,264.3L336.0,263.8L336.4,262.3L337.1,262.3L338.7,263.0L339.9,262.5L340.9,262.6L341.2,262.0L350.4,262.0L350.9,260.2L350.5,259.9L349.5,248.6L348.5,237.3L352.0,237.3L359.5,243.0L367.1,248.7L367.7,249.9L369.1,250.6L370.1,251.1L370.2,252.7L372.7,252.5L372.7,258.5L371.5,260.2L371.3,261.8L369.3,262.3L366.2,262.5L365.3,263.4L363.8,263.5L362.4,263.5L361.8,263.0L360.6,263.4L358.4,264.5L358.0,265.3L356.2,266.5L355.9,267.1L354.9,267.7L353.8,267.3L353.2,267.9L352.9,269.7L351.0,271.9L351.1,272.8L350.4,273.9L350.6,275.4L349.6,275.8L349.1,276.1L348.8,275.0L348.1,275.3L347.7,275.3L347.3,276.0L345.5,276.0L344.9,275.6L344.6,275.8L343.9,275.1L344.0,274.3L343.7,274.0L343.2,274.3L343.3,273.4L343.8,272.8L342.8,271.7L342.6,270.9L342.1,270.4L341.6,270.3L341.1,270.7L340.3,271.0L339.7,271.6L338.7,271.4L338.1,270.7L337.7,270.6L337.1,271.0L336.7,271.0L336.6,270.0L336.7,269.2L336.6,268.2L335.7,267.5L335.3,266.0Z" fill="#fed976" stroke="#6b6b6b" stroke-width="0.50" stroke-opacity="0.90"/>
<path d="M322.0,260.5L325.4,260.5L326.3,259.4L327.4,259.7L328.6,259.1L329.7,259.1L330.9,259.9L332.3,260.6L333.7,262.5L335.2,264.3L335.3,266.0L335.7,267.5L336.6,268.2L336.7,269.2L336.6,270.0L336.3,270.1L335.1,269.9L334.9,270.2L334.4,270.3L332.7,269.6L331.6,269.6L327.4,269.5L326.8,269.8L326.0,269.7L324.8,270.2L321.8,270.4Z" fill="#feb24c" stroke="#6b6b6b" stroke-width="0.50" stroke-opacity="0.90"/>
<path d="M324.4,268.2L326.5,268.2L327.1,267.8L327.5,267.8L328.4,267.2L329.3,267.8L330.3,267.8L331.3,267.2L330.9,266.5L330.1,266.9L329.4,266.9L328.5,266.2L327.8,266.3L327.3,266.9L324.8,267.0L323.0,267.0L322.9,268.2Z" fill="#fed976" stroke="#6b6b6b" stroke-width="0.50" stroke-opacity="0.90"/>
<path d="M324.8,270.2L326.0,269.7L326.8,269.8L327.4,269.5L331.6,269.6L331.6,270.5L331.3,270.8L331.5,271.7L331.1,272.0L330.6,272.0L330.0,272.4L329.3,272.4L328.3,273.7L327.1,274.0L324.0,274.0L324.0,270.4Z" fill="#fd8d3c" stroke="#6b6b6b" stroke-width="0.50" stroke-opacity="0.90"/>
<path d="M331.6,269.6L332.7,269.6L334.4,270.3L334.9,270.2L335.1,269.9L336.3,270.1L336.6,270.0L336.7,271.0L337.1,271.0L337.7,270.6L338.1,270.7L338.7,271.4L339.7,271.6L340.3,271.0L341.1,270.7L341.6,270.3L342.1,270.4L342.6,270.9L342.8,271.7L343.8,272.8L343.3,273.4L343.2,274.3L343.7,274.0L344.0,274.3L343.9,275.1L344.6,275.8L344.1,276.0L343.9,276.9L344.4,278.0L345.0,280.1L344.1,280.4L343.9,280.8L344.1,281.3L344.0,282.4L343.6,282.4L342.9,282.4L342.5,283.4L341.8,283.4L341.4,282.8L341.5,281.8L340.6,280.2L340.0,280.5L339.5,280.5L338.8,280.7L338.9,279.7L338.5,279.0L338.6,278.3L338.1,277.2L337.5,276.3L335.6,276.3L335.1,276.7L334.5,276.8L334.1,277.4L333.8,278.1L332.5,279.3L329.7,279.3L327.4,276.4L327.1,274.0L328.3,273.7L329.3,272.4L330.0,272.4L330.6,272.0L331.1,272.0L331.5,271.7L331.3,270.8L331.6,270.5Z" fill="#feb24c" stroke="#6b6b6b" stroke-width="0.50" stroke-opacity="0.90"/>
<path d="M332.5,279.3L333.8,278.1L334.1,277.4L334.5,276.8L335.1,276.7L335.6,276.3L337.5,276.3L338.1,277.2L338.6,278.3L338.5,279.0L338.9,279.7L338.8,280.7L339.5,280.5L338.4,281.8L337.3,283.2L337.2,283.9L336.7,284.8L335.4,286.8L330.8,284.2L330.8,279.3Z" fill="#ffeda0" stroke="#6b6b6b" stroke-width="0.50" stroke-opacity="0.90"/>
<path d="M336.7,284.8L337.2,283.9L337.3,283.2L338.4,281.8L339.5,280.5L340.0,280.5L340.6,280.2L341.5,281.8L341.4,282.8L341.8,283.4L342.5,283.4L342.9,282.4L343.6,282.4L343.5,283.2L343.7,284.5L343.2,285.6L343.9,286.3L344.6,286.5L345.6,287.6L345.6,288.6L345.4,288.9L345.2,291.1L345.2,293.4L335.4,288.1Z" fill="#fed976" stroke="#6b6b6b" stroke-width="0.50" stroke-opacity="0.90"/>
<path d="M345.2,291.1L345.4,288.9L345.6,288.6L345.6,287.6L344.6,286.5L343.9,286.3L343.2,285.6L343.7,284.5L343.5,283.2L343.6,282.4L344.0,282.4L344.1,281.3L343.9,280.8L344.1,280.4L345.0,280.1L344.4,278.0L343.9,276.9L344.1,276.0L344.6,275.8L344.9,275.6L345.5,276.0L347.3,276.0L347.7,275.3L348.1,275.3L348.8,275.0L349.1,276.1L349.6,275.8L350.6,275.4L351.6,276.0L352.0,276.9L353.1,277.4L353.9,276.7L354.9,276.6L356.5,277.3L357.1,281.0L356.1,283.2L355.5,286.2L356.5,288.4L356.4,289.5L356.4,292.1L345.2,293.4Z" fill="#fed976" stroke="#6b6b6b" stroke-width="0.50" stroke-opacity="0.90"/>
<path d="M356.4,289.5L356.5,288.4L355.5,286.2L356.1,283.2L357.1,281.0L356.5,277.3L356.2,275.3L356.3,273.9L360.2,273.7L361.3,273.9L362.0,273.5L363.0,273.7L362.9,274.5L363.8,275.9L363.9,277.8L364.1,279.8L364.6,280.8L364.1,283.1L364.3,284.5L364.9,286.1L365.4,287.0L365.8,289.4L356.4,292.1Z" fill="#fed976" stroke="#6b6b6b" stroke-width="0.50" stroke-opacity="0.90"/>
<path d="M356.5,277.3L354.9,276.6L353.9,276.7L353.1,277.4L352.0,276.9L351.6,276.0L350.6,275.4L350.4,273.9L351.1,272.8L351.0,271.9L352.9,269.7L353.2,267.9L353.8,267.3L354.9,267.7L355.9,267.1L356.2,266.5L358.0,265.3L358.4,264.5L360.6,263.4L361.8,263.0L362.4,263.5L363.8,263.5L363.7,264.8L364.0,266.0L365.3,267.7L365.3,268.9L368.0,269.5L367.9,271.3L367.4,272.1L366.3,272.3L365.8,273.5L365.1,273.8L363.0,273.7L362.0,273.5L361.3,273.9L360.2,273.7L356.3,273.9L356.2,275.3Z" fill="#feb24c" stroke="#6b6b6b" stroke-width="0.50" stroke-opacity="0.90"/>
<path d="M365.4,287.0L364.9,286.1L364.3,284.5L364.1,283.1L364.6,280.8L364.1,279.8L363.9,277.8L363.8,275.9L362.9,274.5L363.0,273.7L365.1,273.8L364.8,275.2L365.5,275.9L366.3,276.8L366.4,278.1L366.8,278.7L366.7,284.7L367.3,286.5L367.1,289.4L365.8,289.4Z" fill="#fed976" stroke="#6b6b6b" stroke-width="0.50" stroke-opacity="0.90"/>
<path d="M367.3,286.5L366.7,284.7L366.8,278.7L366.4,278.1L366.3,276.8L365.5,275.9L364.8,275.2L365.1,273.8L365.8,273.5L366.3,272.3L367.4,272.1L367.9,271.3L368.7,270.6L369.5,270.5L371.3,272.0L371.2,272.9L371.7,274.5L371.3,275.5L371.5,276.2L370.4,277.8L369.7,278.6L369.3,280.3L369.3,281.9L369.2,286.2L369.2,289.4L367.1,289.4Z" fill="#feb24c" stroke="#6b6b6b" stroke-width="0.50" stroke-opacity="0.90"/>
<path d="M369.2,286.2L369.3,281.9L369.3,280.3L369.7,278.6L370.4,277.8L371.5,276.2L371.3,275.5L371.7,274.5L371.2,272.9L371.3,272.0L371.4,269.7L372.1,268.7L372.4,267.2L373.0,266.6L375.4,266.3L377.8,267.3L378.6,268.2L379.8,268.3L380.9,267.7L383.6,269.0L384.8,268.9L386.1,267.8L387.5,267.9L388.2,267.5L389.4,267.7L391.2,268.4L392.9,267.0L393.5,267.1L395.1,270.0L395.5,269.9L396.4,270.9L396.2,271.4L396.1,272.3L394.1,274.3L393.6,276.0L393.3,277.3L392.8,277.9L392.3,279.7L391.1,280.8L390.7,282.1L390.2,283.2L390.0,284.3L388.5,285.2L387.2,284.1L386.3,284.1L384.9,285.7L384.2,285.7L383.2,288.2L382.6,290.0L382.6,293.4L369.2,293.4Z" fill="#feb24c" stroke="#6b6b6b" stroke-width="0.50" stroke-opacity="0.90"/>
<path d="M367.9,271.3L368.0,269.5L365.3,268.9L365.3,267.7L364.0,266.0L363.7,264.8L363.8,263.5L365.3,263.4L366.2,262.5L369.3,262.3L371.3,261.8L371.5,260.2L372.7,258.5L372.7,252.5L375.9,251.3L382.4,246.2L390.0,241.2L393.6,242.3L394.9,243.8L396.5,242.8L397.1,246.8L398.0,247.5L398.1,248.4L399.0,249.2L398.6,250.4L397.8,255.7L397.7,259.1L394.9,261.5L394.0,265.0L394.9,266.0L394.9,267.6L396.4,267.7L396.2,268.9L395.5,269.1L395.5,269.9L395.1,270.0L393.5,267.1L392.9,267.0L391.2,268.4L389.4,267.7L388.2,267.5L387.5,267.9L386.1,267.8L384.8,268.9L383.6,269.0L380.9,267.7L379.8,268.3L378.6,268.2L377.8,267.3L375.4,266.3L373.0,266.6L372.4,267.2L372.1,268.7L371.4,269.7L371.3,272.0L369.5,270.5L368.7,270.6Z" fill="#fed976" stroke="#6b6b6b" stroke-width="0.50" stroke-opacity="0.90"/>
<path d="M396.2,268.9L396.4,267.7L394.9,267.6L394.9,266.0L394.0,265.0L394.9,261.5L397.7,259.1L397.8,255.7L398.6,250.4L399.0,249.2L398.1,248.4L398.0,247.5L397.1,246.8L396.5,242.8L398.7,241.4L407.9,246.3L417.1,251.4L417.5,261.7L415.5,261.5L414.6,263.5L414.0,265.1L414.5,265.7L413.7,266.5L414.0,267.6L413.5,268.7L413.3,269.6L414.1,269.5L414.6,270.5L414.6,272.0L415.5,272.8L415.4,273.4L414.0,273.8L412.9,274.9L411.2,277.7L409.1,279.0L406.9,278.8L406.2,279.0L406.5,280.0L405.3,280.9L404.3,281.9L401.4,282.9L400.9,282.3L400.5,282.3L400.1,282.9L398.2,283.1L398.5,282.4L397.8,280.6L397.4,279.5L396.4,279.1L395.0,277.6L395.5,276.3L396.6,276.6L397.2,276.4L398.5,276.4L397.2,274.1L397.3,272.3L397.1,270.6Z" fill="#feb24c" stroke="#6b6b6b" stroke-width="0.50" stroke-opacity="0.90"/>
<path d="M382.6,290.0L383.2,288.2L384.2,285.7L384.9,285.7L386.3,284.1L387.2,284.1L388.5,285.2L390.0,284.3L390.2,283.2L390.7,282.1L391.1,280.8L392.3,279.7L392.8,277.9L393.3,277.3L393.6,276.0L394.1,274.3L396.1,272.3L396.2,271.4L396.4,270.9L395.5,269.9L395.5,269.1L396.2,268.9L397.1,270.6L397.3,272.3L397.2,274.1L398.5,276.4L397.2,276.4L396.6,276.6L395.5,276.3L395.0,277.6L396.4,279.1L397.4,279.5L397.8,280.6L398.5,282.4L398.2,283.1L397.0,285.8L396.5,286.2L396.3,288.3L396.5,289.4L396.4,290.1L397.5,291.5L397.7,292.4L398.5,293.8L399.6,294.6L399.7,295.8L399.9,296.6L399.8,298.0L397.9,297.4L396.1,296.7L393.2,296.6L392.9,296.4L391.5,296.8L390.1,296.4L389.0,296.6L385.3,296.5L382.6,296.5Z" fill="#feb24c" stroke="#6b6b6b" stroke-width="0.50" stroke-opacity="0.90"/>
<path d="M398.2,283.1L400.1,282.9L400.5,282.3L400.9,282.3L401.4,282.9L404.3,281.9L405.3,280.9L406.5,280.0L406.2,279.0L406.9,278.8L409.1,279.0L411.2,277.7L412.9,274.9L414.0,273.8L415.4,273.4L415.7,274.5L417.1,276.1L417.1,277.2L416.7,278.3L416.9,279.1L417.7,279.9L419.5,281.0L420.8,282.1L420.8,282.9L422.4,284.3L423.3,285.4L424.0,287.0L425.7,288.0L426.0,288.8L425.3,289.1L423.8,289.0L422.1,288.8L421.2,289.0L420.9,289.6L420.2,289.7L419.2,289.2L416.7,290.5L415.6,290.2L415.3,290.4L414.7,292.0L412.9,291.5L411.2,291.2L409.8,290.3L407.9,289.4L406.6,290.2L405.7,291.5L405.5,293.4L404.1,293.2L402.5,292.8L401.1,294.1L399.9,296.6L399.7,295.8L399.6,294.6L398.5,293.8L397.7,292.4L397.5,291.5L396.4,290.1L396.5,289.4L396.3,288.3L396.5,286.2L397.0,285.8Z" fill="#fd8d3c" stroke="#6b6b6b" stroke-width="0.50" stroke-opacity="0.90"/>
<path d="M385.3,296.5L389.0,296.6L389.0,299.7L385.7,299.7L384.2,299.7L384.2,296.5Z" fill="url(#hatch)" stroke="#6b6b6b" stroke-width="0.50" stroke-opacity="0.90"/>
<path d="M389.0,299.7L389.0,296.6L390.1,296.4L391.5,296.8L392.9,296.4L393.2,296.6L393.0,297.7L393.6,299.1L395.4,298.8L395.9,299.4L394.9,302.4L396.0,303.9L396.3,306.0L396.0,307.7L395.3,309.0L393.2,308.8L392.0,307.6L391.8,308.7L390.3,309.1L389.5,309.7L390.3,311.5L388.6,312.9L381.4,312.9L381.5,299.7L385.7,299.7Z" fill="#feb24c" stroke="#6b6b6b" stroke-width="0.50" stroke-opacity="0.90"/>
<path d="M388.6,312.9L390.3,311.5L389.5,309.7L390.3,309.1L391.8,308.7L392.0,307.6L393.2,308.8L395.3,309.0L396.0,307.7L396.3,306.0L396.0,303.9L394.9,302.4L395.9,299.4L395.4,298.8L393.6,299.1L393.0,297.7L393.2,296.6L396.1,296.7L397.9,297.4L399.8,298.0L399.9,296.6L401.1,294.1L402.5,292.8L404.1,293.2L405.5,293.4L405.4,294.9L404.7,296.3L404.3,298.0L404.0,300.3L404.1,301.7L403.7,302.7L403.7,303.6L403.4,304.4L401.9,305.7L400.9,307.0L399.8,309.6L399.9,311.7L399.3,312.6L398.0,313.8L396.6,315.5L395.7,315.0L395.6,314.3L394.3,314.3L393.6,315.2L392.9,315.0L392.1,314.1L391.4,314.5L390.4,315.7L388.3,316.9Z" fill="#fed976" stroke="#6b6b6b" stroke-width="0.50" stroke-opacity="0.90"/>
<path d="M391.4,314.5L392.1,314.1L392.9,315.0L393.6,315.2L394.3,314.3L395.6,314.3L395.7,315.0L396.6,315.5L398.0,313.8L399.3,312.6L399.9,311.7L399.8,309.6L400.9,307.0L401.9,305.7L403.4,304.4L403.7,303.6L403.7,302.7L404.1,301.7L404.0,300.3L404.3,298.0L404.7,296.3L405.4,294.9L405.5,293.4L405.7,291.5L406.6,290.2L407.9,289.4L409.8,290.3L411.2,291.2L412.9,291.5L414.7,292.0L415.3,290.4L415.6,290.2L416.7,290.5L419.2,289.2L420.2,289.7L420.9,289.6L421.2,289.0L422.1,288.8L423.8,289.0L425.3,289.1L426.0,288.8L427.5,291.0L428.5,291.3L429.1,290.9L430.2,291.0L431.5,290.5L432.0,291.6L434.1,293.3L434.0,296.4L434.9,296.8L434.2,297.7L433.3,298.4L432.4,299.7L431.9,300.9L431.8,303.0L431.3,304.0L431.2,306.0L430.6,306.7L430.5,308.3L430.2,308.5L429.9,309.9L430.5,311.1L430.6,314.3L431.0,316.7L430.7,318.0L431.2,319.5L432.5,321.0L433.7,324.3L432.8,324.0L429.7,324.5L429.1,324.8L428.4,326.4L428.9,327.6L428.4,330.7L428.0,333.3L428.6,333.8L430.2,334.8L430.9,334.3L431.0,337.1L429.2,337.1L428.3,335.7L427.5,334.5L425.8,334.2L425.3,332.8L423.9,333.6L422.0,333.3L421.3,332.1L419.8,331.9L418.8,331.9L418.7,331.1L417.9,331.0L416.8,330.9L415.4,331.3L414.4,331.2L413.8,331.4L414.0,328.3L413.3,327.4L413.1,325.8L413.5,324.2L413.0,323.2L413.0,321.5L410.2,321.6L410.4,320.6L409.2,320.6L409.1,321.1L407.7,321.2L407.1,322.7L406.7,323.4L405.5,323.0L404.7,323.4L403.2,323.6L402.3,322.2L401.8,321.4L401.1,319.8L400.6,317.9L393.8,317.8L393.0,318.1L392.3,318.1L391.4,318.4L389.5,318.4L389.5,317.6L391.1,317.6L391.7,317.3L391.7,316.2L392.1,315.5Z" fill="#ffeda0" stroke="#6b6b6b" stroke-width="0.50" stroke-opacity="0.90"/>
<path d="M391.4,318.4L392.3,318.1L393.0,318.1L393.8,317.8L400.6,317.9L401.1,319.8L401.8,321.4L402.3,322.2L403.2,323.6L404.7,323.4L405.5,323.0L406.7,323.4L407.1,322.7L407.7,321.2L409.1,321.1L409.2,320.6L410.4,320.6L410.2,321.6L413.0,321.5L413.0,323.2L413.5,324.2L413.1,325.8L413.3,327.4L414.0,328.3L413.8,331.4L414.4,331.2L415.4,331.3L416.8,330.9L417.9,331.0L418.1,331.9L417.8,333.1L418.2,334.3L417.8,335.3L418.0,336.2L413.2,336.2L412.9,344.5L414.4,346.6L415.8,348.3L411.6,349.3L406.1,349.0L404.6,347.7L395.3,347.8L395.0,348.0L393.7,346.8L392.2,346.7L390.8,347.2L389.7,347.7L385.8,347.7L386.0,318.4Z" fill="#fed976" stroke="#6b6b6b" stroke-width="0.50" stroke-opacity="0.90"/>
<path d="M392.1,315.5L391.7,316.2L391.7,317.3L391.1,317.6L389.5,317.6L389.5,315.0L390.4,315.7L391.4,314.5Z" fill="#fed976" stroke="#6b6b6b" stroke-width="0.50" stroke-opacity="0.90"/>
<path d="M389.7,347.7L390.8,347.2L392.2,346.7L393.7,346.8L395.0,348.0L395.3,347.8L404.6,347.7L406.1,349.0L411.6,349.3L415.8,348.3L417.7,347.7L419.2,347.8L420.1,348.4L420.1,348.6L418.8,349.2L418.1,349.2L416.6,350.2L415.8,349.2L412.2,350.1L410.5,350.2L410.2,359.5L407.9,359.6L407.7,367.2L407.3,376.8L405.2,378.2L404.0,378.4L402.6,377.9L401.7,377.7L401.3,376.6L400.5,375.8L399.3,377.1L396.3,378.2L385.2,378.2L385.8,347.7Z" fill="#feb24c" stroke="#6b6b6b" stroke-width="0.50" stroke-opacity="0.90"/>
<path d="M420.1,348.6L420.5,348.8L421.3,350.9L421.7,351.4L422.4,352.9L424.8,355.8L425.8,356.0L425.7,357.0L426.3,358.6L428.1,359.0L429.4,360.2L426.2,362.1L424.1,364.1L423.2,365.8L422.5,366.8L421.3,367.0L420.8,368.2L420.5,369.1L419.1,369.7L417.3,369.5L416.2,368.8L415.3,368.5L414.2,369.1L413.6,370.4L412.5,371.1L411.3,372.3L409.7,372.6L409.2,371.7L409.5,370.1L408.3,367.6L407.7,367.2L407.9,359.6L410.2,359.5L410.5,350.2L412.2,350.1L415.8,349.2L416.6,350.2L418.1,349.2L418.8,349.2Z" fill="#feb24c" stroke="#6b6b6b" stroke-width="0.50" stroke-opacity="0.90"/>
<path d="M420.5,348.8L421.3,350.9L421.7,351.4L422.4,352.9L424.8,355.8L425.8,356.0L425.7,357.0L426.3,358.6L428.1,359.0L429.4,360.2L431.4,360.7L432.2,360.3L433.4,360.6L435.9,357.7L436.6,355.8L437.0,355.5L437.3,354.0L437.0,353.2L437.2,351.3L437.7,349.5L437.8,346.1L436.7,345.3L435.6,345.1L435.2,344.5L434.1,343.9L432.2,344.0L432.1,343.0L430.4,343.3L429.0,344.4L428.7,345.3L427.9,345.5L425.8,347.7L424.5,349.4L423.7,349.4L423.0,349.1Z" fill="#fd8d3c" stroke="#6b6b6b" stroke-width="0.50" stroke-opacity="0.90"/>
<path d="M413.2,336.2L418.0,336.2L417.8,335.3L418.2,334.3L417.8,333.1L418.1,331.9L417.9,331.0L418.7,331.1L418.8,331.9L419.8,331.9L421.3,332.1L422.0,333.3L423.9,333.6L425.3,332.8L425.8,334.2L427.5,334.5L428.3,335.7L429.2,337.1L431.0,337.1L430.9,334.3L430.2,334.8L428.6,333.8L428.0,333.3L428.4,330.7L428.9,327.6L428.4,326.4L429.1,324.8L429.7,324.5L432.8,324.0L433.7,324.3L434.6,324.9L435.5,325.4L437.0,325.8L438.3,326.6L439.3,327.8L439.9,330.0L439.5,330.7L438.9,332.8L439.3,335.0L438.6,335.9L437.8,338.3L439.0,339.0L431.9,341.2L432.1,343.0L430.4,343.3L429.0,344.4L428.7,345.3L427.9,345.5L425.8,347.7L424.5,349.4L423.7,349.4L423.0,349.1L420.5,348.8L420.1,348.6L420.1,348.4L419.2,347.8L417.7,347.7L415.8,348.3L414.4,346.6L412.9,344.5Z" fill="#fed976" stroke="#6b6b6b" stroke-width="0.50" stroke-opacity="0.90"/>
<path d="M438.3,326.6L440.5,327.1L441.0,327.8L441.7,329.0L442.3,332.6L441.6,334.6L442.1,338.0L442.9,337.9L443.7,338.8L444.6,340.7L444.6,344.0L443.6,344.6L442.8,346.4L441.4,344.8L441.3,342.9L441.8,341.7L441.7,340.7L440.9,340.0L440.2,340.2L439.0,339.0L437.8,338.3L438.6,335.9L439.3,335.0L438.9,332.8L439.5,330.7L439.9,330.0L439.3,327.8Z" fill="#fed976" stroke="#6b6b6b" stroke-width="0.50" stroke-opacity="0.90"/>
<path d="M442.3,332.6L444.0,332.4L446.7,333.1L447.3,332.8L448.9,332.7L449.8,331.9L451.1,332.0L453.7,331.0L455.6,329.5L459.5,328.6L456.7,374.3L436.4,372.3L434.7,372.3L434.6,371.2L434.3,370.0L434.2,369.0L434.8,366.1L434.3,364.3L433.4,360.6L435.9,357.7L436.6,355.8L437.0,355.5L437.3,354.0L437.0,353.2L437.2,351.3L437.7,349.5L437.8,346.1L436.7,345.3L435.6,345.1L435.2,344.5L434.1,343.9L432.2,344.0L432.1,343.0L431.9,341.2L439.0,339.0L440.2,340.2L440.9,340.0L441.7,340.7L441.8,341.7L441.3,342.9L441.4,344.8L442.8,346.4L443.6,344.6L444.6,344.0L444.6,340.7L443.7,338.8L442.9,337.9L442.1,338.0L441.6,334.6Z" fill="#fed976" stroke="#6b6b6b" stroke-width="0.50" stroke-opacity="0.90"/>
<path d="M441.2,305.0L441.6,305.3L449.9,310.6L450.1,312.1L453.3,314.7L457.5,314.8L457.1,329.4L455.6,329.5L453.7,331.0L451.1,332.0L449.8,331.9L448.9,332.7L447.3,332.8L446.7,333.1L444.0,332.4L442.3,332.6L441.7,329.0L441.0,327.8L440.5,327.1L438.3,326.6L437.0,325.8L435.5,325.4L434.6,324.9L433.7,324.3L432.5,321.0L431.2,319.5L430.7,318.0L431.0,316.7L430.6,314.3L431.6,314.1L432.4,313.2L433.3,311.8L433.9,311.3L433.9,310.4L433.4,309.8L433.3,308.8L433.9,308.5L434.1,306.9L433.2,305.5L434.0,305.1L436.5,305.2Z" fill="#fed976" stroke="#6b6b6b" stroke-width="0.50" stroke-opacity="0.90"/>
<path d="M430.6,314.3L430.5,311.1L429.9,309.9L431.3,310.1L432.0,308.6L433.3,308.8L433.4,309.8L433.9,310.4L433.9,311.3L433.3,311.8L432.4,313.2L431.6,314.1Z" fill="#ffffcc" stroke="#6b6b6b" stroke-width="0.50" stroke-opacity="0.90"/>
<path d="M433.2,305.5L434.1,306.9L433.9,308.5L433.3,308.8L432.0,308.6L431.3,310.1L429.9,309.9L430.2,308.5L430.5,308.3L430.6,306.7L431.2,306.0L431.8,306.3Z" fill="#ffeda0" stroke="#6b6b6b" stroke-width="0.50" stroke-opacity="0.90"/>
<path d="M436.5,305.2L434.0,305.1L433.2,305.5L431.8,306.3L431.2,306.0L431.3,304.0L431.8,303.0L431.9,300.9L432.4,299.7L433.3,298.4L434.2,297.7L434.9,296.8L434.0,296.4L434.1,293.3L435.0,292.6L436.5,293.2L438.4,292.6L440.0,292.6L441.4,291.4L442.5,293.2L442.8,294.5L443.8,297.5L443.0,299.4L441.9,301.1L441.2,302.2L441.2,305.0Z" fill="#fed976" stroke="#6b6b6b" stroke-width="0.50" stroke-opacity="0.90"/>
<path d="M441.2,305.0L441.2,302.2L441.9,301.1L443.0,299.4L443.8,297.5L442.8,294.5L442.5,293.2L441.4,291.4L442.8,289.8L444.3,288.1L445.5,288.6L445.5,290.0L446.3,290.9L447.9,290.9L450.9,293.1L451.6,293.1L452.1,293.0L452.7,293.4L454.2,293.6L454.9,292.5L457.0,291.4L457.9,292.3L459.5,292.3L457.5,295.2L457.6,304.7L458.9,306.9L462.2,306.9L462.1,314.8L453.3,314.7L450.1,312.1L449.9,310.6L441.6,305.3Z" fill="#fed976" stroke="#6b6b6b" stroke-width="0.50" stroke-opacity="0.90"/>
<path d="M458.9,306.9L457.6,304.7L457.5,295.2L459.5,292.3L460.1,291.5L461.6,291.4L463.6,289.5L466.6,289.4L472.9,281.6L471.0,281.6L463.4,278.5L462.5,277.6L461.6,276.3L460.7,274.9L461.2,274.0L462.0,272.6L462.7,269.9L482.1,268.5L482.9,307.7L462.2,307.7Z" fill="#ffeda0" stroke="#6b6b6b" stroke-width="0.50" stroke-opacity="0.90"/>
<path d="M449.6,263.4L451.0,264.6L452.3,264.0L452.9,264.6L454.5,264.6L456.5,265.6L457.2,266.5L458.2,267.4L459.2,268.9L460.0,269.7L459.3,270.9L458.5,272.1L458.7,272.8L458.8,273.6L460.1,273.7L460.6,273.5L461.2,274.0L460.7,274.9L461.6,276.3L462.5,277.6L463.4,278.5L471.0,281.6L472.9,281.6L466.6,289.4L463.6,289.5L461.6,291.4L460.1,291.5L459.5,292.3L457.9,292.3L457.0,291.4L454.9,292.5L454.2,293.6L452.7,293.4L452.1,293.0L451.6,293.1L450.9,293.1L447.9,290.9L446.3,290.9L445.5,290.0L445.5,288.6L444.3,288.1L442.9,285.3L441.8,284.7L441.4,283.6L440.2,282.4L438.8,282.2L439.5,280.7L440.8,280.6L441.1,279.8L441.0,277.5L441.6,274.7L442.7,274.0L442.9,272.9L443.8,271.0L445.1,269.6L446.0,267.1L446.3,264.8L448.9,265.4Z" fill="#fed976" stroke="#6b6b6b" stroke-width="0.50" stroke-opacity="0.90"/>
<path d="M460.0,269.7L459.2,268.9L458.2,267.4L457.2,266.5L456.5,265.6L454.5,264.6L452.9,264.6L452.3,264.0L451.0,264.6L449.6,263.4L448.9,265.4L446.3,264.8L446.0,263.8L446.8,260.0L446.9,258.2L447.6,257.4L449.3,257.0L450.3,255.5L451.6,254.2L463.7,267.2L462.2,270.1L461.7,269.3L461.0,270.0Z" fill="url(#hatch)" stroke="#6b6b6b" stroke-width="0.50" stroke-opacity="0.90"/>
<path d="M461.7,269.3L461.0,270.0L460.0,269.7L459.3,270.9L458.5,272.1L458.7,272.8L458.8,273.6L460.1,273.7L460.6,273.5L461.2,274.0L462.0,272.6L463.0,272.5L462.9,269.9Z" fill="#fd8d3c" stroke="#6b6b6b" stroke-width="0.50" stroke-opacity="0.90"/>
<path d="M446.3,245.0L419.5,245.0L419.6,250.3L417.0,250.3L417.1,251.4L417.5,261.7L415.5,261.5L414.6,263.5L414.0,265.1L414.5,265.7L413.7,266.5L414.0,267.6L413.5,268.7L413.3,269.6L414.1,269.5L414.6,270.5L414.6,272.0L415.5,272.8L415.4,273.4L415.7,274.5L417.1,276.1L417.1,277.2L416.7,278.3L416.9,279.1L417.7,279.9L417.9,280.0L418.6,279.7L419.4,279.2L419.9,276.9L420.6,275.7L422.2,275.3L422.6,276.0L423.8,277.6L424.5,277.8L425.3,277.3L426.9,277.4L427.3,278.0L429.6,278.0L429.6,277.4L430.8,276.9L431.0,276.2L431.9,275.6L433.8,277.1L435.0,276.9L436.1,275.0L437.3,273.6L437.1,272.0L436.5,271.2L437.9,271.1L438.0,270.5L439.1,270.7L438.9,272.6L439.2,274.5L440.4,275.5L440.7,276.4L440.7,277.7L441.0,277.8L441.0,277.5L441.6,274.7L442.7,274.0L442.9,272.9L443.8,271.0L445.1,269.6L446.0,267.1L446.3,264.8L446.0,263.8L446.8,260.0L446.9,258.2L447.6,257.4L449.3,257.0L450.3,255.5L451.5,252.9L448.7,243.7Z" fill="#feb24c" stroke="#6b6b6b" stroke-width="0.50" stroke-opacity="0.90"/>
<path d="M417.9,280.0L418.6,279.7L419.4,279.2L419.9,276.9L420.6,275.7L422.2,275.3L422.6,276.0L423.8,277.6L424.5,277.8L425.3,277.3L426.9,277.4L427.3,278.0L429.6,278.0L429.6,277.4L430.8,276.9L431.0,276.2L431.9,275.6L433.8,277.1L435.0,276.9L436.1,275.0L437.3,273.6L437.1,272.0L436.5,271.2L437.9,271.1L438.0,270.5L439.1,270.7L438.9,272.6L439.2,274.5L440.4,275.5L440.7,276.4L440.7,277.7L441.0,277.8L441.1,279.8L440.8,280.6L439.5,280.7L438.8,282.2L440.2,282.4L441.4,283.6L441.8,284.7L442.9,285.3L444.3,288.1L442.8,289.8L441.4,291.4L440.0,292.6L438.4,292.6L436.5,293.2L435.0,292.6L434.1,293.3L432.0,291.6L431.5,290.5L430.2,291.0L429.1,290.9L428.5,291.3L427.5,291.0L426.0,288.8L425.7,288.0L424.0,287.0L423.3,285.4L422.4,284.3L420.8,282.9L420.8,282.1L419.5,281.0Z" fill="#fd8d3c" stroke="#6b6b6b" stroke-width="0.50" stroke-opacity="0.90"/>
<path d="M399.3,377.1L400.5,375.8L401.3,376.6L401.7,377.7L402.6,377.9L404.0,378.4L405.2,378.2L407.3,376.8L407.7,367.2L408.3,367.6L409.5,370.1L409.2,371.7L409.7,372.6L411.3,372.3L412.5,371.1L413.6,370.4L414.2,369.1L415.3,368.5L416.2,368.8L417.3,369.5L419.1,369.7L420.5,369.1L420.8,368.2L421.3,367.0L422.5,366.8L423.2,365.8L424.1,364.1L426.2,362.1L429.4,360.2L430.4,360.2L431.4,360.7L432.2,360.3L433.4,360.6L434.3,364.3L434.8,366.1L434.2,369.0L434.3,370.0L433.2,369.5L432.6,369.7L432.3,370.5L431.6,371.4L431.6,372.3L432.8,373.8L434.2,373.5L434.7,372.3L436.4,372.3L439.0,373.0L436.6,396.5L395.5,396.5L396.3,378.2Z" fill="#fd8d3c" stroke="#6b6b6b" stroke-width="0.50" stroke-opacity="0.90"/>
<path d="M427.4,378.1L428.1,378.9L427.3,380.2L426.9,381.0L425.6,381.5L425.1,382.3L424.3,382.5L422.8,380.5L424.1,378.9L425.4,377.8L426.5,377.3Z" fill="#fed976" stroke="#6b6b6b" stroke-width="0.50" stroke-opacity="0.90"/>
<path d="M434.7,372.3L434.2,373.5L432.8,373.8L431.6,372.3L431.6,371.4L432.3,370.5L432.6,369.7L433.2,369.5L434.3,370.0L434.6,371.2Z" fill="#fed976" stroke="#6b6b6b" stroke-width="0.50" stroke-opacity="0.90"/>
</g>
<path d="M350.2,209.0L351.5,208.7L356.5,210.3L358.2,210.8L361.7,209.3L365.8,207.2L369.7,206.4L374.4,206.7L378.7,205.6L384.3,205.1L386.9,205.6L385.9,207.4L386.0,209.0L387.1,210.6L386.5,211.9L384.8,213.7L385.1,214.0L387.3,215.8L388.4,215.8L391.9,216.6L396.4,217.9L396.9,220.0L401.4,221.5L405.0,223.4L407.4,221.8L407.0,218.9L410.4,216.6L413.7,217.1L414.2,218.4L418.0,219.2L418.5,220.0L423.0,220.5L427.0,221.8L429.0,221.0L431.3,220.0L434.2,220.8L438.4,220.8L440.4,225.5L440.1,229.1L439.5,229.9L437.8,228.6L436.8,227.8L435.2,224.4L434.9,225.5L436.4,228.3L437.9,230.4L440.0,234.6L441.6,237.5L443.1,240.1L443.0,242.4L446.3,245.0L447.2,247.7L447.4,251.3L447.9,253.4L450.3,255.5L452.5,261.8L454.8,263.6L457.2,264.6L460.1,268.0L461.7,269.3L462.2,270.1L460.9,272.2L462.1,272.5L464.7,275.3L469.7,274.6L473.1,273.2L475.4,273.0L477.9,272.5L480.1,271.4L480.3,275.1L479.7,278.0L478.2,281.3L476.9,284.7L474.9,288.4L472.9,291.5L470.5,294.9L467.5,297.3L464.7,299.6L462.4,301.7L459.9,304.9L459.0,306.9L457.3,308.0L455.7,309.3L455.4,311.1L454.5,312.9L453.3,314.8L452.3,318.2L453.5,320.3L453.9,323.1L453.3,325.7L454.4,328.6L455.7,329.9L455.9,332.5L456.0,336.2L455.8,339.6L456.2,341.4L455.4,344.3L453.0,346.1L450.7,347.4L447.1,349.2L445.4,351.3L442.8,353.7L441.9,354.5L441.5,356.3L442.6,358.1L443.2,360.2L443.0,362.6L442.9,365.2L441.2,367.3L437.0,368.6L436.0,370.1L436.6,371.2L436.3,372.8L435.6,375.6L434.6,377.7L431.7,380.6L429.7,383.5L427.7,385.6L424.9,388.2L423.2,389.5L420.7,390.5L419.1,391.3L416.9,391.8L414.5,391.3L411.5,391.6L406.5,393.4L404.4,392.3L403.1,392.1L403.2,391.0L402.9,388.4L403.2,386.9L402.5,384.5L401.3,382.2L400.5,379.0L399.7,377.2L398.0,374.8L397.0,372.2L396.4,369.1L395.6,365.2L395.7,362.3L395.3,360.0L393.3,356.6L392.0,354.0L390.3,350.8L389.9,347.7L389.9,345.6L390.9,342.2L391.6,337.8L393.7,335.1L394.4,331.2L394.7,330.4L393.8,328.1L393.3,325.5L392.7,322.1L391.3,318.4L391.1,317.6L390.6,315.6L388.6,312.7L386.1,310.1L384.7,308.0L383.3,304.3L384.5,303.3L384.9,301.5L384.9,299.9L385.6,296.5L385.8,294.7L385.4,292.3L383.5,290.7L382.6,290.5L380.3,291.0L379.1,291.0L376.8,291.3L375.4,289.2L373.4,286.0L369.2,286.0L367.4,286.3L365.8,286.6L364.2,287.4L361.8,288.4L360.7,288.9L358.4,290.0L356.1,289.2L353.8,288.7L351.5,288.9L349.2,289.7L345.7,291.0L342.3,289.4L338.1,286.0L336.5,284.5L334.2,283.2L332.6,280.6L332.4,278.2L331.5,277.7L329.5,274.8L328.6,273.8L327.0,271.4L324.7,270.1L324.5,268.3L324.8,267.0L323.0,264.1L324.2,262.3L325.4,260.5L325.9,257.6L326.4,255.2L326.0,252.6L325.6,251.3L326.1,249.7L324.5,247.7L324.6,245.3L326.2,243.2L327.0,240.6L329.3,238.5L329.8,236.4L330.8,234.1L333.1,232.0L333.6,230.2L337.4,228.3L338.8,227.3L340.4,225.7L341.8,223.1L341.4,221.0L342.6,217.6L344.4,215.5L346.4,214.7L348.2,213.7L349.5,210.8Z" fill="none" stroke="#6b6b6b" stroke-width="0.50" stroke-opacity="0.90"/>
<path d="M476.4,335.1L477.2,338.0L477.7,341.2L478.3,342.7L477.5,344.3L476.7,343.0L476.2,346.6L475.3,349.2L474.2,352.4L472.8,356.0L471.1,361.0L469.9,364.7L468.8,367.5L466.9,368.3L464.8,369.4L463.5,368.6L461.8,367.8L461.4,366.5L461.4,364.1L460.6,362.0L461.1,358.1L462.3,357.9L462.3,356.8L463.6,355.0L463.9,353.2L463.3,352.1L463.0,350.3L463.1,347.9L464.2,344.8L466.8,344.3L468.6,343.8L470.3,342.5L472.0,340.6L472.8,339.3L472.6,338.3L473.5,338.5L474.7,336.7L475.0,335.1L475.8,333.8Z" fill="#ffeda0" stroke="#6b6b6b" stroke-width="0.50" stroke-opacity="0.90"/>
<g clip-path="url(#c_namerica)">
<path d="M183.8,283.6L183.1,282.9L182.7,281.5L183.2,280.8L182.7,280.6L182.3,279.8L181.2,279.0L180.0,279.3L179.5,280.0L178.6,280.8L178.1,280.8L177.9,281.3L178.9,282.9L178.2,283.2L176.8,283.7L176.4,282.1L175.5,282.4L175.1,281.3L173.5,280.8L172.6,280.8L172.2,281.1L171.0,280.6L170.6,279.8L170.9,278.9L170.2,278.2L169.3,277.7L168.7,277.4L168.5,276.6L167.8,276.1L168.0,276.9L167.5,277.4L167.1,276.9L166.2,276.6L166.0,275.3L166.3,274.4L165.9,274.0L166.4,273.5L164.7,271.7L164.3,270.9L163.2,269.9L162.2,268.8L162.5,268.4L162.9,268.8L163.1,268.5L162.7,267.8L162.1,267.5L161.8,268.2L160.4,268.0L159.7,267.9L158.7,267.2L157.5,267.2L156.9,266.7L155.8,266.2L154.4,266.2L153.3,265.7L152.3,264.6L149.9,261.8L148.8,261.0L147.1,260.2L145.8,260.5L143.8,261.4L142.6,261.6L141.0,261.0L139.5,260.5L137.6,259.1L135.8,258.9L133.5,257.6L131.6,256.4L131.3,255.8L129.9,255.5L127.8,254.7L127.1,253.5L124.8,252.1L123.9,250.4L123.6,249.2L124.4,249.0L124.3,248.2L124.8,247.4L125.0,246.6L124.5,245.4L124.4,244.3L124.0,243.0L122.4,240.4L120.5,238.4L119.8,236.8L118.1,235.7L117.8,235.1L118.5,233.4L117.5,232.8L116.5,231.6L116.4,229.7L115.3,229.5L114.3,228.1L113.6,226.9L113.8,226.1L113.2,224.1L113.0,222.1L113.4,221.1L112.1,220.0L111.3,220.2L110.3,219.4L109.6,220.5L109.6,221.8L109.2,223.7L109.6,224.8L110.7,226.6L110.9,227.2L111.2,227.4L111.2,228.3L111.6,228.2L111.6,229.9L112.1,230.6L112.4,231.5L113.4,232.9L113.6,235.3L114.0,236.5L114.4,237.7L114.2,239.0L115.3,239.1L116.0,240.3L116.6,241.5L116.4,241.9L115.3,242.9L114.9,242.9L114.6,241.3L113.4,239.8L112.0,238.6L111.0,237.9L111.5,236.0L111.5,234.6L110.6,233.8L109.4,232.6L109.0,232.9L108.6,232.2L107.4,231.6L106.5,230.1L106.7,229.9L107.6,230.1L108.7,229.1L109.1,227.9L107.9,226.0L106.8,225.3L106.5,223.7L106.2,222.0L105.9,219.9L105.8,217.5L105.9,216.2L105.1,214.7L104.2,214.4L104.2,213.6L103.1,213.5L102.6,212.8L100.6,212.5L100.3,212.1L100.6,210.7L99.6,208.1L99.4,204.4L99.7,203.8L99.2,203.0L98.6,200.8L99.3,198.7L98.9,197.3L100.5,195.1L101.7,192.9L102.1,190.9L104.4,188.5L107.6,183.8L109.3,180.4L110.1,178.2L110.2,177.0L110.8,176.5L113.2,177.4L112.8,179.8L113.7,179.1L114.7,177.0L115.3,175.0L115.1,174.2L112.9,172.5L112.2,171.4L109.3,170.3L109.9,168.1L111.4,166.6L109.7,165.5L111.0,163.5L110.1,161.7L111.1,160.4L110.8,159.5L109.8,158.7L111.2,156.6L110.5,154.6L111.6,152.3L110.0,152.1L107.1,152.1L105.5,151.4L104.2,148.9L102.9,148.4L100.5,147.6L97.8,147.8L95.3,146.7L94.2,145.7L91.6,146.2L90.2,147.8L89.0,148.0L86.4,148.5L83.9,149.3L81.3,149.8L82.5,148.4L86.0,146.0L88.7,145.3L88.9,144.7L85.1,146.0L82.0,147.6L77.5,149.3L77.6,150.5L73.9,152.2L70.8,153.2L68.1,154.0L66.5,155.1L62.2,156.3L60.3,157.5L57.0,158.5L55.9,158.4L53.4,159.0L50.5,159.9L48.1,160.7L44.0,161.4L44.1,161.0L47.5,159.8L50.2,159.1L53.6,157.7L56.3,157.4L58.3,156.4L62.6,155.0L63.5,154.5L65.8,153.6L68.2,151.8L70.7,150.4L67.8,151.1L67.6,150.7L65.6,151.6L65.8,150.3L64.3,151.2L65.0,150.0L62.0,151.0L60.9,151.0L62.4,149.5L63.7,148.7L63.5,147.8L60.6,148.3L60.4,147.1L59.8,146.6L61.5,145.2L61.3,144.2L63.7,142.9L66.8,141.5L69.0,140.3L70.7,140.2L71.4,140.5L74.3,139.4L75.3,139.6L77.6,138.9L78.6,137.8L78.1,137.4L80.6,136.5L79.5,136.6L77.0,137.1L75.8,137.6L75.0,137.1L72.2,137.3L70.4,136.8L70.8,135.8L70.4,134.5L74.2,133.6L79.5,132.4L81.0,132.4L79.2,133.6L83.0,133.5L83.4,132.1L82.5,131.2L82.8,130.1L82.5,129.2L81.2,128.4L83.8,127.3L86.9,127.2L90.5,126.2L92.4,125.1L95.6,124.1L97.6,123.9L102.2,122.9L103.5,123.1L107.7,121.9L109.5,122.4L109.3,123.3L110.6,122.9L113.2,123.0L112.4,123.5L114.4,123.9L116.4,123.7L118.9,124.4L121.8,124.6L122.7,124.9L125.4,124.5L127.0,125.2L128.4,125.5L130.9,126.0L132.2,127.1L133.8,127.3L136.3,126.3L139.2,125.6L141.3,125.9L145.0,125.0L148.3,124.4L148.4,125.3L150.2,124.8L151.8,123.8L152.7,124.0L153.2,126.0L157.1,124.5L155.5,126.2L157.9,125.8L159.3,125.1L161.1,125.3L162.7,126.2L165.7,127.0L167.7,127.4L169.5,127.2L170.6,128.4L167.1,129.5L169.8,129.9L174.6,129.7L176.4,129.3L177.0,130.6L179.9,129.5L179.0,128.6L180.8,127.8L183.0,127.7L184.5,127.5L185.4,128.0L186.0,129.2L188.1,129.0L190.2,130.0L193.1,129.7L195.6,129.7L196.5,128.4L198.4,128.0L200.3,128.7L198.6,130.8L201.1,129.1L202.4,129.1L205.1,126.9L204.4,125.5L203.2,124.6L205.5,122.3L208.9,120.7L210.7,121.0L211.5,122.0L211.6,124.4L209.2,125.5L212.0,125.9L210.2,128.2L213.8,126.5L214.7,127.9L212.9,129.5L213.5,131.0L216.4,129.4L219.1,127.5L221.0,125.1L223.3,125.3L225.5,125.6L226.9,126.7L226.2,127.8L224.1,129.0L224.5,130.1L223.5,131.2L219.1,132.8L216.5,133.2L215.1,132.5L213.8,133.6L210.8,135.6L209.6,136.6L206.5,138.1L203.8,138.3L201.7,139.3L200.5,140.8L198.3,141.1L194.7,143.0L190.9,145.6L188.8,147.5L186.8,150.3L189.3,150.7L188.7,153.0L188.4,154.8L191.3,154.3L194.2,155.4L195.5,156.3L196.2,157.5L198.2,158.2L199.6,159.2L202.7,159.3L204.7,159.6L203.2,161.7L202.6,164.2L202.6,167.0L204.4,169.4L206.3,168.6L208.6,166.0L209.5,162.1L208.8,160.7L212.5,159.6L215.5,157.9L217.5,156.2L218.2,154.5L218.0,152.5L216.7,150.7L220.3,148.1L220.7,146.0L222.3,142.3L223.9,141.7L226.6,142.4L228.3,142.6L230.1,142.0L231.4,142.8L232.9,144.1L232.9,145.1L236.1,145.3L235.0,147.3L234.1,150.3L235.6,150.7L236.3,152.1L239.6,150.7L242.6,148.1L244.4,147.0L244.8,149.1L245.9,152.2L246.7,155.1L245.3,156.6L247.3,158.0L248.4,159.4L251.3,160.1L252.2,160.8L252.2,162.9L253.6,163.3L254.1,164.2L253.3,167.0L251.5,168.0L249.8,168.8L246.2,169.8L243.0,171.8L239.5,172.2L235.4,171.7L232.4,171.7L230.3,171.8L227.9,173.7L224.9,174.8L220.8,178.2L217.6,180.5L219.5,180.1L223.9,176.7L228.9,174.6L232.0,174.4L233.4,175.6L230.9,177.3L230.6,180.1L230.7,182.0L233.0,183.3L236.5,182.9L239.4,180.0L239.0,181.9L240.0,182.8L237.0,184.5L232.0,186.0L229.6,187.0L226.7,188.9L225.2,188.7L225.8,186.5L230.0,184.4L226.7,184.5L224.3,184.8L224.4,185.7L221.8,186.9L219.3,187.8L216.9,188.6L215.3,190.1L214.8,190.6L214.3,192.0L214.5,193.4L215.4,193.5L215.5,192.5L215.9,193.1L215.5,193.8L214.0,194.2L213.0,194.2L211.3,194.7L209.0,194.9L207.0,195.7L210.3,195.2L210.8,195.7L207.5,196.4L206.2,196.4L205.5,196.9L206.1,197.0L205.0,198.8L202.9,200.8L202.9,200.2L202.0,199.4L202.0,200.8L202.4,201.2L202.2,202.2L201.2,203.2L199.4,205.3L199.2,205.2L200.4,203.4L199.6,202.4L200.0,200.3L199.2,201.4L199.2,203.1L197.9,202.6L199.1,203.5L198.5,206.0L199.1,206.1L199.1,207.0L198.7,209.7L196.8,211.6L194.3,212.4L192.5,213.9L191.4,214.1L190.0,215.0L189.5,215.9L186.7,217.6L185.1,218.8L183.7,220.4L182.9,222.2L182.9,224.0L183.2,226.3L183.8,228.1L183.6,229.3L184.1,232.3L183.7,234.0L183.5,235.1L182.7,236.7L181.9,237.0L180.9,236.7L180.7,235.5L180.0,234.9L179.2,232.7L178.5,230.7L178.3,229.7L179.1,227.9L178.8,226.5L177.6,224.3L176.8,223.9L174.3,225.1L173.9,225.0L173.1,223.8L171.9,223.1L169.3,223.4L167.4,223.2L165.7,223.3L164.7,223.7L164.9,224.4L164.6,225.5L165.0,226.0L164.5,226.3L163.7,226.0L162.8,226.4L161.2,226.4L159.9,225.0L157.8,225.3L156.4,224.7L155.0,224.9L152.9,225.5L150.5,227.4L148.0,228.6L146.5,229.8L145.7,231.0L145.3,232.8L145.1,234.0L145.4,234.9L144.1,237.2L143.3,239.1L142.6,242.6L142.2,243.9L142.3,245.3L142.9,246.6L143.0,248.6L144.2,250.6L144.6,252.0L145.3,253.3L147.6,254.0L148.3,255.1L150.4,254.4L152.2,254.1L154.0,253.7L155.5,253.2L157.1,252.1L157.8,250.6L158.3,248.4L158.8,247.7L160.4,247.0L162.9,246.4L164.9,246.5L166.3,246.2L166.7,246.8L166.5,248.0L165.1,249.6L164.3,251.2L164.7,251.7L164.2,252.8L163.4,254.8L162.9,254.1L162.4,254.2L162.8,254.6L162.7,255.3L162.1,256.4L162.3,256.8L162.0,257.8L162.1,258.0L161.6,259.3L161.1,260.0L160.7,260.1L160.1,261.0L160.8,261.5L161.1,261.1L161.7,261.4L162.5,261.1L163.1,261.0L163.7,261.1L164.7,261.3L165.8,261.3L166.5,261.0L166.9,260.7L167.6,260.8L168.1,261.0L168.7,260.9L169.2,260.7L170.2,261.1L170.5,261.1L171.2,261.6L171.8,262.2L172.6,262.6L173.1,263.3L172.9,263.6L172.7,264.2L172.8,265.1L172.2,266.0L171.9,267.1L171.7,268.2L171.8,268.9L171.8,270.1L171.4,270.3L171.1,271.4L171.2,272.1L170.7,272.8L170.7,273.5L171.0,273.9L171.5,275.3L172.3,276.4L173.4,277.5L174.1,278.4L174.1,279.0L175.0,279.1L175.2,278.9L175.8,279.5L176.9,279.4L178.0,278.7L179.4,278.2L180.2,277.4L181.5,277.6L181.4,277.8L182.6,277.9L183.6,278.3L184.3,279.1L185.2,279.9L184.9,280.2L185.3,281.8L184.9,282.5L184.1,282.4Z" fill="#800026"/>
<path d="M115.3,175.0L171.1,175.0L171.6,174.0L172.3,174.0L172.0,175.4L173.7,175.9L175.6,176.3L177.2,177.1L179.0,176.8L181.2,177.5L181.8,177.4L184.0,176.7L185.5,177.6L189.5,180.3L189.5,181.0L189.8,181.2L190.1,181.6L190.6,181.3L190.5,181.9L190.7,182.3L191.3,182.3L191.4,182.6L191.0,183.1L192.7,184.3L192.2,186.6L191.7,188.8L190.5,190.4L189.0,191.8L188.2,192.7L188.2,193.3L188.7,193.7L189.3,193.7L192.2,192.4L194.5,191.9L197.7,190.7L197.9,190.4L198.0,189.6L197.8,189.1L198.9,188.7L202.9,188.7L203.9,187.7L207.1,185.6L208.2,185.2L215.2,185.1L215.6,184.5L216.3,184.4L217.3,184.0L218.4,182.8L219.8,180.8L222.0,178.9L222.4,179.6L223.9,179.1L224.6,179.9L223.4,183.4L224.3,184.8L259.6,185.2L297.0,96.9L176.9,96.9L128.4,125.5L128.4,125.5L104.0,147.0L105.7,147.1L106.8,147.8L107.1,148.8L107.2,150.4L110.3,149.1L112.9,148.3L112.7,149.5L113.0,150.5L113.6,151.6L113.2,153.3L112.6,156.1L114.5,157.7L111.1,160.4L92.7,172.4L109.3,177.5Z" fill="#800026" stroke="#6b6b6b" stroke-width="0.50" stroke-opacity="0.90"/>
<path d="M105.8,217.5L108.4,217.3L111.3,217.0L110.9,217.6L113.8,218.8L118.2,220.7L122.6,220.6L124.3,220.6L124.7,219.6L128.5,219.6L129.0,220.5L129.9,221.3L130.8,222.5L131.2,223.8L131.3,225.3L132.3,226.1L133.9,226.8L135.9,224.8L137.7,224.7L139.0,225.8L139.6,227.5L140.0,229.1L141.0,230.6L141.1,232.4L141.4,233.6L143.0,234.4L144.5,235.0L145.4,234.9L150.2,234.6L171.8,239.8L167.6,254.2L162.4,254.2L162.0,254.2L160.9,255.8L160.6,255.5L160.3,255.6L160.3,256.0L160.3,256.0L158.1,256.0L156.0,256.0L155.8,257.4L154.8,257.4L155.6,258.3L156.3,258.9L156.5,259.5L156.8,259.6L156.7,260.5L153.8,260.5L152.4,262.7L152.7,263.2L152.4,263.8L152.2,264.5L150.1,268.5L91.1,250.3L99.5,217.6Z" fill="#fc4e2a" stroke="#6b6b6b" stroke-width="0.50" stroke-opacity="0.90"/>
<path d="M152.2,264.5L152.4,263.8L152.7,263.2L152.4,262.7L153.8,260.5L156.7,260.5L156.8,259.6L156.5,259.5L156.3,258.9L155.6,258.3L154.8,257.4L155.8,257.4L156.0,256.0L158.1,256.0L160.3,256.0L160.3,256.0L160.0,258.0L159.5,261.0L160.1,261.0L160.9,261.0L161.6,261.1L161.7,261.4L159.4,263.1L159.2,263.7L159.3,264.2L158.8,264.8L158.8,264.8L158.2,265.0L158.3,265.3L157.9,265.6L157.0,266.2L156.9,266.6L155.8,268.5L151.3,267.2Z" fill="#feb24c" stroke="#6b6b6b" stroke-width="0.50" stroke-opacity="0.90"/>
<path d="M160.3,256.0L160.3,255.6L160.6,255.5L160.9,255.8L162.0,254.2L162.4,254.2L164.2,254.2L163.4,261.2L160.1,261.0L159.5,261.0L160.0,258.0L160.3,256.0Z" fill="#fd8d3c" stroke="#6b6b6b" stroke-width="0.50" stroke-opacity="0.90"/>
<path d="M156.9,266.6L156.9,266.6L157.0,266.2L157.9,265.6L158.3,265.3L158.2,265.0L158.8,264.8L158.8,264.8L159.4,265.0L159.9,265.6L160.5,266.0L160.6,266.3L161.6,266.0L162.0,266.2L162.3,266.5L162.1,267.6L161.7,269.1L156.9,268.5Z" fill="#feb24c" stroke="#6b6b6b" stroke-width="0.50" stroke-opacity="0.90"/>
<path d="M161.7,261.4L159.4,263.1L159.2,263.7L159.3,264.2L158.8,264.8L158.8,264.8L159.4,265.0L159.9,265.6L160.5,266.0L160.6,266.3L161.6,266.0L162.0,266.2L162.3,266.5L162.1,267.6L162.5,268.0L162.9,268.8L163.1,268.6L163.8,268.5L164.1,267.9L164.5,267.9L164.5,266.6L165.1,266.5L165.6,266.5L166.1,265.8L166.7,266.4L167.0,266.0L167.5,265.7L168.3,265.0L168.4,264.5L168.6,264.5L169.0,263.9L169.2,263.8L169.6,264.2L170.0,264.3L170.6,264.0L171.1,264.0L172.0,263.6L172.3,263.3L173.1,263.3L173.6,262.0L172.7,259.4L161.9,259.9Z" fill="#fd8d3c" stroke="#6b6b6b" stroke-width="0.50" stroke-opacity="0.90"/>
<path d="M163.1,268.6L163.8,268.5L164.1,267.9L164.5,267.9L164.5,266.6L165.1,266.5L165.6,266.5L166.1,265.8L166.7,266.4L167.0,266.0L167.5,265.7L168.3,265.0L168.4,264.5L168.6,264.5L169.0,263.9L169.2,263.8L169.6,264.2L170.0,264.3L170.6,264.0L171.1,264.0L172.0,263.6L172.3,263.3L173.1,263.3L174.6,263.3L173.7,274.0L171.0,273.9L170.5,274.5L169.8,274.3L169.4,273.8L168.8,273.6L168.2,273.9L166.7,273.2L166.4,273.5L164.4,275.1L161.5,269.1Z" fill="#feb24c" stroke="#6b6b6b" stroke-width="0.50" stroke-opacity="0.90"/>
<path d="M166.4,273.5L166.7,273.2L168.2,273.9L168.8,273.6L169.4,273.8L169.8,274.3L170.5,274.5L171.0,273.9L173.7,274.0L174.6,277.4L173.4,277.5L172.5,277.7L172.4,278.8L172.9,279.2L172.5,279.5L172.6,280.0L172.4,280.5L172.2,281.0L172.0,282.9L164.4,276.4Z" fill="#fc4e2a" stroke="#6b6b6b" stroke-width="0.50" stroke-opacity="0.90"/>
<path d="M172.2,281.0L172.4,280.5L172.6,280.0L172.5,279.5L172.9,279.2L172.4,278.8L172.5,277.7L173.4,277.5L177.1,275.1L186.2,276.4L186.2,280.3L184.9,280.2L185.3,281.8L184.9,282.5L184.1,282.4L183.8,283.6L183.4,285.5L171.9,285.5Z" fill="#fc4e2a" stroke="#6b6b6b" stroke-width="0.50" stroke-opacity="0.90"/>
</g>
<path d="M183.8,283.6L183.1,282.9L182.7,281.5L183.2,280.8L182.7,280.6L182.3,279.8L181.2,279.0L180.0,279.3L179.5,280.0L178.6,280.8L178.1,280.8L177.9,281.3L178.9,282.9L178.2,283.2L176.8,283.7L176.4,282.1L175.5,282.4L175.1,281.3L173.5,280.8L172.6,280.8L172.2,281.1L171.0,280.6L170.6,279.8L170.9,278.9L170.2,278.2L169.3,277.7L168.7,277.4L168.5,276.6L167.8,276.1L168.0,276.9L167.5,277.4L167.1,276.9L166.2,276.6L166.0,275.3L166.3,274.4L165.9,274.0L166.4,273.5L164.7,271.7L164.3,270.9L163.2,269.9L162.2,268.8L162.5,268.4L162.9,268.8L163.1,268.5L162.7,267.8L162.1,267.5L161.8,268.2L160.4,268.0L159.7,267.9L158.7,267.2L157.5,267.2L156.9,266.7L155.8,266.2L154.4,266.2L153.3,265.7L152.3,264.6L149.9,261.8L148.8,261.0L147.1,260.2L145.8,260.5L143.8,261.4L142.6,261.6L141.0,261.0L139.5,260.5L137.6,259.1L135.8,258.9L133.5,257.6L131.6,256.4L131.3,255.8L129.9,255.5L127.8,254.7L127.1,253.5L124.8,252.1L123.9,250.4L123.6,249.2L124.4,249.0L124.3,248.2L124.8,247.4L125.0,246.6L124.5,245.4L124.4,244.3L124.0,243.0L122.4,240.4L120.5,238.4L119.8,236.8L118.1,235.7L117.8,235.1L118.5,233.4L117.5,232.8L116.5,231.6L116.4,229.7L115.3,229.5L114.3,228.1L113.6,226.9L113.8,226.1L113.2,224.1L113.0,222.1L113.4,221.1L112.1,220.0L111.3,220.2L110.3,219.4L109.6,220.5L109.6,221.8L109.2,223.7L109.6,224.8L110.7,226.6L110.9,227.2L111.2,227.4L111.2,228.3L111.6,228.2L111.6,229.9L112.1,230.6L112.4,231.5L113.4,232.9L113.6,235.3L114.0,236.5L114.4,237.7L114.2,239.0L115.3,239.1L116.0,240.3L116.6,241.5L116.4,241.9L115.3,242.9L114.9,242.9L114.6,241.3L113.4,239.8L112.0,238.6L111.0,237.9L111.5,236.0L111.5,234.6L110.6,233.8L109.4,232.6L109.0,232.9L108.6,232.2L107.4,231.6L106.5,230.1L106.7,229.9L107.6,230.1L108.7,229.1L109.1,227.9L107.9,226.0L106.8,225.3L106.5,223.7L106.2,222.0L105.9,219.9L105.8,217.5L105.9,216.2L105.1,214.7L104.2,214.4L104.2,213.6L103.1,213.5L102.6,212.8L100.6,212.5L100.3,212.1L100.6,210.7L99.6,208.1L99.4,204.4L99.7,203.8L99.2,203.0L98.6,200.8L99.3,198.7L98.9,197.3L100.5,195.1L101.7,192.9L102.1,190.9L104.4,188.5L107.6,183.8L109.3,180.4L110.1,178.2L110.2,177.0L110.8,176.5L113.2,177.4L112.8,179.8L113.7,179.1L114.7,177.0L115.3,175.0L115.1,174.2L112.9,172.5L112.2,171.4L109.3,170.3L109.9,168.1L111.4,166.6L109.7,165.5L111.0,163.5L110.1,161.7L111.1,160.4L110.8,159.5L109.8,158.7L111.2,156.6L110.5,154.6L111.6,152.3L110.0,152.1L107.1,152.1L105.5,151.4L104.2,148.9L102.9,148.4L100.5,147.6L97.8,147.8L95.3,146.7L94.2,145.7L91.6,146.2L90.2,147.8L89.0,148.0L86.4,148.5L83.9,149.3L81.3,149.8L82.5,148.4L86.0,146.0L88.7,145.3L88.9,144.7L85.1,146.0L82.0,147.6L77.5,149.3L77.6,150.5L73.9,152.2L70.8,153.2L68.1,154.0L66.5,155.1L62.2,156.3L60.3,157.5L57.0,158.5L55.9,158.4L53.4,159.0L50.5,159.9L48.1,160.7L44.0,161.4L44.1,161.0L47.5,159.8L50.2,159.1L53.6,157.7L56.3,157.4L58.3,156.4L62.6,155.0L63.5,154.5L65.8,153.6L68.2,151.8L70.7,150.4L67.8,151.1L67.6,150.7L65.6,151.6L65.8,150.3L64.3,151.2L65.0,150.0L62.0,151.0L60.9,151.0L62.4,149.5L63.7,148.7L63.5,147.8L60.6,148.3L60.4,147.1L59.8,146.6L61.5,145.2L61.3,144.2L63.7,142.9L66.8,141.5L69.0,140.3L70.7,140.2L71.4,140.5L74.3,139.4L75.3,139.6L77.6,138.9L78.6,137.8L78.1,137.4L80.6,136.5L79.5,136.6L77.0,137.1L75.8,137.6L75.0,137.1L72.2,137.3L70.4,136.8L70.8,135.8L70.4,134.5L74.2,133.6L79.5,132.4L81.0,132.4L79.2,133.6L83.0,133.5L83.4,132.1L82.5,131.2L82.8,130.1L82.5,129.2L81.2,128.4L83.8,127.3L86.9,127.2L90.5,126.2L92.4,125.1L95.6,124.1L97.6,123.9L102.2,122.9L103.5,123.1L107.7,121.9L109.5,122.4L109.3,123.3L110.6,122.9L113.2,123.0L112.4,123.5L114.4,123.9L116.4,123.7L118.9,124.4L121.8,124.6L122.7,124.9L125.4,124.5L127.0,125.2L128.4,125.5L130.9,126.0L132.2,127.1L133.8,127.3L136.3,126.3L139.2,125.6L141.3,125.9L145.0,125.0L148.3,124.4L148.4,125.3L150.2,124.8L151.8,123.8L152.7,124.0L153.2,126.0L157.1,124.5L155.5,126.2L157.9,125.8L159.3,125.1L161.1,125.3L162.7,126.2L165.7,127.0L167.7,127.4L169.5,127.2L170.6,128.4L167.1,129.5L169.8,129.9L174.6,129.7L176.4,129.3L177.0,130.6L179.9,129.5L179.0,128.6L180.8,127.8L183.0,127.7L184.5,127.5L185.4,128.0L186.0,129.2L188.1,129.0L190.2,130.0L193.1,129.7L195.6,129.7L196.5,128.4L198.4,128.0L200.3,128.7L198.6,130.8L201.1,129.1L202.4,129.1L205.1,126.9L204.4,125.5L203.2,124.6L205.5,122.3L208.9,120.7L210.7,121.0L211.5,122.0L211.6,124.4L209.2,125.5L212.0,125.9L210.2,128.2L213.8,126.5L214.7,127.9L212.9,129.5L213.5,131.0L216.4,129.4L219.1,127.5L221.0,125.1L223.3,125.3L225.5,125.6L226.9,126.7L226.2,127.8L224.1,129.0L224.5,130.1L223.5,131.2L219.1,132.8L216.5,133.2L215.1,132.5L213.8,133.6L210.8,135.6L209.6,136.6L206.5,138.1L203.8,138.3L201.7,139.3L200.5,140.8L198.3,141.1L194.7,143.0L190.9,145.6L188.8,147.5L186.8,150.3L189.3,150.7L188.7,153.0L188.4,154.8L191.3,154.3L194.2,155.4L195.5,156.3L196.2,157.5L198.2,158.2L199.6,159.2L202.7,159.3L204.7,159.6L203.2,161.7L202.6,164.2L202.6,167.0L204.4,169.4L206.3,168.6L208.6,166.0L209.5,162.1L208.8,160.7L212.5,159.6L215.5,157.9L217.5,156.2L218.2,154.5L218.0,152.5L216.7,150.7L220.3,148.1L220.7,146.0L222.3,142.3L223.9,141.7L226.6,142.4L228.3,142.6L230.1,142.0L231.4,142.8L232.9,144.1L232.9,145.1L236.1,145.3L235.0,147.3L234.1,150.3L235.6,150.7L236.3,152.1L239.6,150.7L242.6,148.1L244.4,147.0L244.8,149.1L245.9,152.2L246.7,155.1L245.3,156.6L247.3,158.0L248.4,159.4L251.3,160.1L252.2,160.8L252.2,162.9L253.6,163.3L254.1,164.2L253.3,167.0L251.5,168.0L249.8,168.8L246.2,169.8L243.0,171.8L239.5,172.2L235.4,171.7L232.4,171.7L230.3,171.8L227.9,173.7L224.9,174.8L220.8,178.2L217.6,180.5L219.5,180.1L223.9,176.7L228.9,174.6L232.0,174.4L233.4,175.6L230.9,177.3L230.6,180.1L230.7,182.0L233.0,183.3L236.5,182.9L239.4,180.0L239.0,181.9L240.0,182.8L237.0,184.5L232.0,186.0L229.6,187.0L226.7,188.9L225.2,188.7L225.8,186.5L230.0,184.4L226.7,184.5L224.3,184.8L224.4,185.7L221.8,186.9L219.3,187.8L216.9,188.6L215.3,190.1L214.8,190.6L214.3,192.0L214.5,193.4L215.4,193.5L215.5,192.5L215.9,193.1L215.5,193.8L214.0,194.2L213.0,194.2L211.3,194.7L209.0,194.9L207.0,195.7L210.3,195.2L210.8,195.7L207.5,196.4L206.2,196.4L205.5,196.9L206.1,197.0L205.0,198.8L202.9,200.8L202.9,200.2L202.0,199.4L202.0,200.8L202.4,201.2L202.2,202.2L201.2,203.2L199.4,205.3L199.2,205.2L200.4,203.4L199.6,202.4L200.0,200.3L199.2,201.4L199.2,203.1L197.9,202.6L199.1,203.5L198.5,206.0L199.1,206.1L199.1,207.0L198.7,209.7L196.8,211.6L194.3,212.4L192.5,213.9L191.4,214.1L190.0,215.0L189.5,215.9L186.7,217.6L185.1,218.8L183.7,220.4L182.9,222.2L182.9,224.0L183.2,226.3L183.8,228.1L183.6,229.3L184.1,232.3L183.7,234.0L183.5,235.1L182.7,236.7L181.9,237.0L180.9,236.7L180.7,235.5L180.0,234.9L179.2,232.7L178.5,230.7L178.3,229.7L179.1,227.9L178.8,226.5L177.6,224.3L176.8,223.9L174.3,225.1L173.9,225.0L173.1,223.8L171.9,223.1L169.3,223.4L167.4,223.2L165.7,223.3L164.7,223.7L164.9,224.4L164.6,225.5L165.0,226.0L164.5,226.3L163.7,226.0L162.8,226.4L161.2,226.4L159.9,225.0L157.8,225.3L156.4,224.7L155.0,224.9L152.9,225.5L150.5,227.4L148.0,228.6L146.5,229.8L145.7,231.0L145.3,232.8L145.1,234.0L145.4,234.9L144.1,237.2L143.3,239.1L142.6,242.6L142.2,243.9L142.3,245.3L142.9,246.6L143.0,248.6L144.2,250.6L144.6,252.0L145.3,253.3L147.6,254.0L148.3,255.1L150.4,254.4L152.2,254.1L154.0,253.7L155.5,253.2L157.1,252.1L157.8,250.6L158.3,248.4L158.8,247.7L160.4,247.0L162.9,246.4L164.9,246.5L166.3,246.2L166.7,246.8L166.5,248.0L165.1,249.6L164.3,251.2L164.7,251.7L164.2,252.8L163.4,254.8L162.9,254.1L162.4,254.2L162.8,254.6L162.7,255.3L162.1,256.4L162.3,256.8L162.0,257.8L162.1,258.0L161.6,259.3L161.1,260.0L160.7,260.1L160.1,261.0L160.8,261.5L161.1,261.1L161.7,261.4L162.5,261.1L163.1,261.0L163.7,261.1L164.7,261.3L165.8,261.3L166.5,261.0L166.9,260.7L167.6,260.8L168.1,261.0L168.7,260.9L169.2,260.7L170.2,261.1L170.5,261.1L171.2,261.6L171.8,262.2L172.6,262.6L173.1,263.3L172.9,263.6L172.7,264.2L172.8,265.1L172.2,266.0L171.9,267.1L171.7,268.2L171.8,268.9L171.8,270.1L171.4,270.3L171.1,271.4L171.2,272.1L170.7,272.8L170.7,273.5L171.0,273.9L171.5,275.3L172.3,276.4L173.4,277.5L174.1,278.4L174.1,279.0L175.0,279.1L175.2,278.9L175.8,279.5L176.9,279.4L178.0,278.7L179.4,278.2L180.2,277.4L181.5,277.6L181.4,277.8L182.6,277.9L183.6,278.3L184.3,279.1L185.2,279.9L184.9,280.2L185.3,281.8L184.9,282.5L184.1,282.4Z" fill="none" stroke="#6b6b6b" stroke-width="0.50" stroke-opacity="0.90"/>
<path d="M225.1,118.1L225.2,119.4L228.1,117.7L232.9,116.8L233.8,119.0L232.5,120.4L236.2,119.8L238.3,118.9L241.1,120.0L242.6,121.0L242.1,122.0L245.5,121.5L246.3,122.8L249.7,123.7L250.6,124.6L250.9,126.6L247.2,127.7L250.3,129.1L252.8,129.6L254.1,131.7L256.7,131.8L255.4,133.4L251.0,136.0L249.3,135.1L247.8,132.9L245.4,133.2L244.4,134.5L245.5,135.8L247.4,136.9L247.8,137.5L247.7,139.8L246.3,141.5L244.4,140.8L240.9,138.9L242.3,141.0L243.5,142.4L243.3,143.2L238.9,142.3L235.8,140.9L234.3,139.7L235.3,139.1L233.3,137.9L231.4,136.8L231.0,137.5L225.7,137.8L224.7,137.0L226.9,135.3L230.2,135.3L234.0,135.0L233.9,134.2L235.2,133.1L238.7,130.9L238.9,129.9L238.7,129.1L236.8,128.0L233.9,127.3L235.3,126.7L234.5,125.3L233.1,125.2L232.4,124.5L231.0,125.1L227.8,125.4L222.1,124.9L219.1,124.3L216.7,124.0L216.0,123.2L218.5,122.2L216.2,122.2L217.5,120.0L220.4,118.1L222.9,117.3L227.4,116.7Z" fill="#800026" stroke="#6b6b6b" stroke-width="0.50" stroke-opacity="0.90"/>
<path d="M181.0,118.2L179.1,119.2L183.4,118.5L184.4,119.6L187.4,118.5L188.1,119.2L187.2,121.3L189.0,120.4L190.1,118.2L191.9,117.9L193.1,118.2L194.0,119.1L192.9,121.2L191.9,122.7L193.6,123.8L195.6,124.8L194.6,125.8L191.7,125.9L192.0,126.8L190.7,127.6L188.0,127.2L185.6,126.6L183.6,126.8L179.7,127.5L175.1,127.9L171.9,128.0L172.0,127.0L170.3,126.4L168.6,126.7L168.4,124.9L169.7,124.7L172.7,124.3L174.9,124.4L177.5,124.0L174.8,123.5L171.1,123.7L168.8,123.7L168.8,122.9L173.6,122.0L171.0,122.0L168.8,121.5L172.0,119.9L174.1,119.0L179.8,117.8Z" fill="#800026" stroke="#6b6b6b" stroke-width="0.50" stroke-opacity="0.90"/>
<path d="M172.7,115.4L174.4,115.8L178.3,115.9L179.1,116.5L179.8,117.4L177.1,118.0L171.5,119.4L167.7,120.9L166.6,121.9L161.2,122.9L161.4,121.9L159.0,120.8L160.8,119.9L163.8,118.4L166.9,117.0L167.0,115.7Z" fill="#800026" stroke="#6b6b6b" stroke-width="0.50" stroke-opacity="0.90"/>
<path d="M269.8,99.6L273.3,99.7L276.0,99.9L278.1,100.3L277.7,100.7L273.7,101.4L270.0,101.7L268.4,102.1L271.5,102.1L267.2,103.1L264.4,103.6L260.6,105.0L257.4,105.3L256.1,105.7L251.5,105.9L253.3,106.1L252.0,106.4L252.3,107.3L250.2,108.0L247.4,108.5L246.0,109.3L243.3,109.9L243.1,110.3L245.7,110.2L245.3,110.7L240.1,111.9L236.6,111.4L231.9,111.7L229.8,111.4L227.1,111.3L227.9,110.4L231.2,109.9L232.0,108.5L233.1,108.4L236.1,109.2L235.5,108.0L233.5,107.6L235.5,106.9L238.6,106.4L239.7,105.8L238.5,105.1L238.9,104.2L242.7,104.3L243.6,104.5L246.6,103.8L243.6,103.6L238.5,103.7L236.7,103.2L236.4,102.5L235.3,102.0L235.8,101.5L238.3,101.1L239.9,101.1L243.0,100.8L245.7,100.3L247.3,100.3L248.3,100.8L250.4,99.9L252.4,99.7L255.1,99.5L259.3,99.5L259.9,99.6L264.1,99.4L266.9,99.5Z" fill="#800026" stroke="#6b6b6b" stroke-width="0.50" stroke-opacity="0.90"/>
<path d="M238.9,114.5L237.4,114.9L234.7,115.5L233.0,115.1L228.1,115.5L224.9,115.5L222.6,115.3L219.1,114.6L219.7,113.5L220.6,112.5L220.1,111.6L217.2,111.4L216.1,110.8L217.7,110.0L220.6,110.1L221.6,110.7L224.5,110.7L225.1,111.4L224.0,112.1L225.3,112.6L225.7,113.1L227.7,113.1L229.8,113.3L232.7,112.9L236.0,112.7L238.3,112.9L239.3,113.6Z" fill="#800026" stroke="#6b6b6b" stroke-width="0.50" stroke-opacity="0.90"/>
<path d="M214.8,134.5L214.4,135.5L215.5,135.2L216.2,135.8L217.5,136.6L219.1,137.3L218.5,138.4L220.0,138.2L220.7,139.0L218.7,139.7L216.3,139.2L216.0,138.1L213.4,139.4L210.1,140.6L210.4,139.2L207.8,139.4L210.1,138.3L211.6,136.5L213.7,134.4Z" fill="#800026" stroke="#6b6b6b" stroke-width="0.50" stroke-opacity="0.90"/>
<path d="M204.6,116.7L206.0,117.1L209.1,116.8L208.9,117.4L206.4,118.4L208.0,119.3L205.9,121.3L202.4,122.1L201.1,121.9L200.7,121.1L198.3,119.4L199.0,118.8L202.0,119.0L201.7,117.7Z" fill="#800026" stroke="#6b6b6b" stroke-width="0.50" stroke-opacity="0.90"/>
<path d="M213.7,118.9L210.6,120.5L208.8,120.4L209.6,118.5L210.6,117.5L212.3,116.6L214.4,116.1L217.6,116.1L220.2,116.6L216.1,118.5Z" fill="#800026" stroke="#6b6b6b" stroke-width="0.50" stroke-opacity="0.90"/>
<path d="M197.9,111.9L197.7,112.6L199.4,112.3L200.9,112.3L200.0,113.3L197.9,114.3L192.3,114.6L187.3,115.5L184.8,115.5L185.4,114.9L189.8,114.0L182.5,114.2L180.8,113.8L185.5,111.9L187.8,111.3L191.1,112.0L192.3,113.2L194.8,113.3L195.1,111.4L197.4,110.7L198.7,110.9Z" fill="#800026" stroke="#6b6b6b" stroke-width="0.50" stroke-opacity="0.90"/>
<path d="M214.0,110.8L214.1,111.7L212.9,112.8L210.5,114.3L207.8,114.5L206.5,114.2L207.8,113.0L205.1,113.2L206.9,111.6L208.5,111.6L211.6,111.0L213.6,111.1Z" fill="#800026" stroke="#6b6b6b" stroke-width="0.50" stroke-opacity="0.90"/>
<path d="M237.6,105.2L238.7,105.8L236.0,106.4L231.7,107.8L229.0,107.9L226.2,107.7L225.5,106.9L226.4,106.2L228.1,105.7L225.5,105.8L224.6,105.2L224.7,104.4L226.7,103.6L228.4,103.1L230.0,103.0L229.9,102.6L233.3,102.5L233.9,103.4L235.9,103.8L237.8,104.1Z" fill="#800026" stroke="#6b6b6b" stroke-width="0.50" stroke-opacity="0.90"/>
<path d="M189.8,109.0L187.5,110.5L185.3,111.2L183.7,111.3L179.7,112.2L176.8,112.5L175.4,112.0L180.1,110.6L185.1,109.3L187.4,109.3Z" fill="#800026" stroke="#6b6b6b" stroke-width="0.50" stroke-opacity="0.90"/>
<path d="M210.0,105.9L215.6,106.8L215.0,108.5L213.0,108.3L211.2,107.7L208.2,107.6L210.4,107.0L209.2,106.6Z" fill="#800026" stroke="#6b6b6b" stroke-width="0.50" stroke-opacity="0.90"/>
<path d="M201.7,125.1L202.3,125.5L202.4,126.0L202.7,126.8L201.1,127.6L199.4,126.9L197.8,127.1L196.4,126.2L198.4,125.5L200.4,124.5Z" fill="#800026" stroke="#6b6b6b" stroke-width="0.50" stroke-opacity="0.90"/>
<path d="M251.2,170.7L249.1,172.9L250.7,172.0L251.9,172.6L250.9,173.5L252.5,174.2L253.6,173.5L255.4,174.3L254.2,176.2L255.7,175.7L255.6,177.1L255.8,178.7L254.4,180.9L253.4,181.0L252.2,180.5L253.2,178.4L252.7,178.1L249.8,180.3L248.6,180.2L250.3,179.0L248.6,178.4L246.3,178.6L242.4,178.5L242.3,177.7L243.9,176.9L243.2,176.2L245.4,174.6L248.7,170.6L250.4,169.2L252.5,168.3L253.3,168.4L252.7,169.1Z" fill="#800026" stroke="#6b6b6b" stroke-width="0.50" stroke-opacity="0.90"/>
<path d="M107.4,170.5L109.1,171.0L110.0,171.4L111.7,171.7L111.8,172.5L112.0,173.7L113.3,174.8L113.2,176.2L111.9,176.5L109.4,175.4L109.4,174.5L108.2,173.6L108.3,172.9L106.6,172.4L106.8,171.1Z" fill="#800026" stroke="#6b6b6b" stroke-width="0.50" stroke-opacity="0.90"/>
<path d="M104.7,162.0L105.3,162.3L107.4,162.1L104.4,164.9L104.5,166.9L103.7,166.9L103.5,165.8L103.7,164.6L103.4,163.9L103.9,162.8Z" fill="#800026" stroke="#6b6b6b" stroke-width="0.50" stroke-opacity="0.90"/>
<path d="M233.7,172.7L234.5,172.5L236.9,173.2L238.6,174.2L238.5,174.7L237.5,174.7L235.1,173.9L233.7,172.7Z" fill="#800026" stroke="#6b6b6b" stroke-width="0.50" stroke-opacity="0.90"/>
<path d="M232.3,179.9L232.6,181.2L234.0,181.5L235.9,181.5L234.6,182.5L233.8,182.7L231.5,181.6L231.3,180.7Z" fill="#800026" stroke="#6b6b6b" stroke-width="0.50" stroke-opacity="0.90"/>
<path d="M75.3,152.7L76.4,152.8L76.4,153.6L73.6,154.7L70.7,155.7L70.4,155.0L71.3,153.9L74.0,153.0Z" fill="#800026" stroke="#6b6b6b" stroke-width="0.50" stroke-opacity="0.90"/>
<path d="M58.2,138.9L58.7,139.3L60.1,139.1L60.7,139.7L62.1,140.0L61.6,140.2L59.6,140.7L58.9,140.2L58.8,139.8L57.1,139.9L56.9,139.7Z" fill="#800026" stroke="#6b6b6b" stroke-width="0.50" stroke-opacity="0.90"/>
<path d="M57.4,146.9L58.6,147.1L57.7,148.0L56.1,148.4L55.4,147.9L55.1,147.3Z" fill="#800026" stroke="#6b6b6b" stroke-width="0.50" stroke-opacity="0.90"/>
<path d="M10.0,252.7L9.6,253.1L9.1,252.7L9.3,252.0L9.2,251.0L9.8,250.3L9.8,249.8L10.0,249.6L11.3,250.3L11.5,250.6L11.9,251.5L10.8,252.3Z" fill="#800026" stroke="#6b6b6b" stroke-width="0.50" stroke-opacity="0.90"/>
<path d="M8.5,247.9L9.4,247.8L10.0,248.2L8.9,248.8Z" fill="#800026" stroke="#6b6b6b" stroke-width="0.50" stroke-opacity="0.90"/>
<path d="M5.4,246.2L6.1,245.8L6.6,246.9L5.5,246.9Z" fill="#800026" stroke="#6b6b6b" stroke-width="0.50" stroke-opacity="0.90"/>
<path d="M2.2,244.9L3.1,244.4L3.3,245.0L2.5,245.4Z" fill="#800026" stroke="#6b6b6b" stroke-width="0.50" stroke-opacity="0.90"/>
<path d="M298.8,100.3L304.0,99.4L308.8,99.4L310.8,98.9L315.7,98.8L326.4,98.9L334.4,100.1L331.7,100.7L326.4,100.8L318.9,101.0L319.5,101.3L324.5,101.1L328.4,101.6L331.3,101.1L332.3,101.7L330.4,102.7L334.2,102.1L341.1,101.4L345.2,101.7L345.9,102.4L339.9,103.6L339.0,104.0L334.3,104.3L337.6,104.4L335.6,105.7L334.2,106.9L333.7,109.0L335.2,110.3L332.8,110.4L330.2,111.0L332.7,112.1L332.7,113.8L331.0,114.0L332.6,115.7L329.1,115.9L330.7,116.7L330.1,117.5L327.7,117.8L325.5,117.8L327.2,119.2L327.0,120.1L324.0,119.3L323.1,119.8L325.1,120.4L327.0,121.7L327.2,123.4L324.2,123.8L323.1,123.0L321.4,121.7L321.6,123.2L319.4,124.3L323.7,124.5L326.0,124.6L321.1,126.5L316.2,128.2L311.0,129.0L309.2,129.0L307.2,129.8L304.1,132.2L299.9,133.8L298.7,133.9L296.2,134.5L293.6,135.0L291.6,136.4L291.1,138.0L289.7,139.6L286.1,141.4L286.3,143.3L284.8,145.2L283.2,147.5L280.5,147.7L278.5,145.8L274.8,145.7L273.5,144.4L273.2,142.1L271.2,139.2L270.9,137.7L271.5,135.6L270.0,133.5L271.4,131.9L270.6,131.1L273.5,128.4L276.4,127.6L277.5,126.7L278.6,125.0L276.3,125.8L275.3,126.1L273.6,126.4L271.9,125.7L272.5,124.2L273.8,123.1L275.3,123.0L278.4,123.6L276.2,122.2L275.2,121.5L273.4,121.8L272.3,121.3L275.2,119.3L274.6,118.5L274.2,117.1L273.6,114.9L272.1,114.1L272.7,113.2L269.4,112.1L266.3,111.9L262.1,112.0L258.3,112.2L257.0,111.5L255.5,110.3L260.0,109.6L263.1,109.5L257.1,109.0L254.5,108.2L255.4,107.5L261.8,106.6L267.9,105.7L269.0,105.1L265.7,104.4L267.6,103.7L273.5,102.6L275.7,102.4L275.8,101.7L279.5,101.2L283.9,101.0L288.2,101.0L289.3,101.5L293.6,100.6L296.5,101.2L298.4,101.3L300.9,101.8L298.2,101.0Z" fill="url(#hatch)" stroke="#cfcfcf" stroke-width="0.6"/>
<path d="M338.0,132.7L337.4,134.2L339.2,135.7L336.7,137.5L331.4,139.1L329.8,139.5L327.5,139.2L322.7,138.4L324.6,137.4L321.0,136.3L324.2,135.9L324.2,135.2L320.6,134.7L322.1,133.2L324.8,132.8L327.2,134.4L330.0,133.1L332.1,133.8L335.1,132.6Z" fill="#800026" stroke="#6b6b6b" stroke-width="0.50" stroke-opacity="0.90"/>
<path d="M177.6,241.9L179.6,242.1L181.3,242.1L183.3,243.0L184.1,244.0L186.2,243.7L187.0,244.3L188.7,245.9L190.0,247.1L190.7,247.1L192.0,247.6L191.8,248.3L193.4,248.5L195.0,249.5L194.7,250.1L193.1,250.5L191.6,250.6L190.0,250.4L186.8,250.6L188.4,249.2L187.6,248.5L186.2,248.3L185.5,247.6L185.1,246.1L183.8,246.2L181.8,245.5L181.2,244.9L178.3,244.5L177.6,244.0L178.5,243.4L176.3,243.2L174.5,244.6L173.6,244.7L173.2,245.3L172.0,245.6L171.1,245.3L172.4,244.5L173.0,243.6L174.1,243.0L175.3,242.5L177.0,242.2Z" fill="url(#hatch)" stroke="#cfcfcf" stroke-width="0.6"/>
<path d="M186.8,254.2L188.3,254.4L189.4,255.1L189.7,255.8L188.1,255.8L187.4,256.3L186.1,255.9L184.9,254.9L185.3,254.3L186.3,254.1Z" fill="#fd8d3c" stroke="#6b6b6b" stroke-width="0.50" stroke-opacity="0.90"/>
<path d="M212.4,254.2L213.6,254.4L213.9,254.9L213.3,255.5L211.6,255.5L210.2,255.6L210.2,254.5L210.6,254.1Z" fill="url(#hatch)" stroke="#cfcfcf" stroke-width="0.6"/>
<path d="M221.5,274.4L222.8,274.1L223.3,274.1L223.1,276.1L221.1,276.4L220.7,276.1L221.4,275.4Z" fill="#e31a1c" stroke="#6b6b6b" stroke-width="0.50" stroke-opacity="0.90"/>
<path d="M187.6,236.7L188.2,236.8L188.7,238.9L188.5,240.4L187.9,240.6L187.6,239.1L186.8,238.3Z" fill="#fc4e2a" stroke="#6b6b6b" stroke-width="0.50" stroke-opacity="0.90"/>
<path d="M186.5,232.5L187.6,232.3L189.0,232.4L189.0,233.1L186.5,233.5Z" fill="#fc4e2a" stroke="#6b6b6b" stroke-width="0.50" stroke-opacity="0.90"/>
<path d="M189.2,231.9L190.8,233.1L190.1,234.9L189.8,234.6L190.0,233.2L189.2,232.2Z" fill="#fc4e2a" stroke="#6b6b6b" stroke-width="0.50" stroke-opacity="0.90"/>
<g clip-path="url(#c_hispaniola)">
<path d="M197.1,250.5L198.5,250.6L200.4,251.0L200.7,250.6L202.5,250.6L203.8,251.3L204.4,251.2L204.7,252.1L206.0,252.1L205.8,252.8L206.8,252.9L207.8,253.9L206.9,254.9L205.9,254.4L204.8,254.5L204.1,254.4L203.6,254.8L202.7,255.0L202.4,254.4L201.6,254.8L200.6,256.5L200.0,256.1L200.0,255.4L198.5,254.9L197.4,255.1L196.1,254.9L194.9,255.4L193.8,254.6L194.1,253.8L196.1,254.1L197.8,254.3L198.7,253.7L197.8,252.6L197.9,251.6L196.5,251.2Z" fill="#ffeda0"/>
<path d="M200.4,251.0L200.5,252.4L200.2,253.4L199.6,253.9L200.1,254.7L200.0,255.4L200.2,258.1L208.3,256.8L209.0,249.0L200.7,249.0Z" fill="#fc4e2a" stroke="#6b6b6b" stroke-width="0.50" stroke-opacity="0.90"/>
</g>
<path d="M197.1,250.5L198.5,250.6L200.4,251.0L200.7,250.6L202.5,250.6L203.8,251.3L204.4,251.2L204.7,252.1L206.0,252.1L205.8,252.8L206.8,252.9L207.8,253.9L206.9,254.9L205.9,254.4L204.8,254.5L204.1,254.4L203.6,254.8L202.7,255.0L202.4,254.4L201.6,254.8L200.6,256.5L200.0,256.1L200.0,255.4L198.5,254.9L197.4,255.1L196.1,254.9L194.9,255.4L193.8,254.6L194.1,253.8L196.1,254.1L197.8,254.3L198.7,253.7L197.8,252.6L197.9,251.6L196.5,251.2Z" fill="none" stroke="#6b6b6b" stroke-width="0.50" stroke-opacity="0.90"/>
<g clip-path="url(#c_samerica)">
<path d="M185.2,279.9L186.3,279.9L188.2,278.1L189.1,277.8L189.2,277.0L189.8,274.8L191.1,273.6L192.6,273.5L192.8,273.0L194.6,273.2L196.5,271.9L197.4,271.3L198.6,270.0L199.4,270.2L200.0,270.9L199.5,271.7L199.4,272.4L198.0,272.7L198.7,273.8L198.6,275.2L197.5,276.7L198.2,278.8L199.2,278.6L199.8,276.7L199.2,275.8L199.2,273.8L202.1,272.8L201.9,271.6L202.7,270.7L203.4,272.6L205.0,272.6L206.4,274.1L206.5,274.9L208.5,274.9L211.0,274.7L212.2,275.9L214.0,276.2L215.3,275.4L215.4,274.7L218.2,274.6L221.0,274.5L219.0,275.3L219.7,276.5L221.5,276.7L223.2,278.0L223.5,280.1L224.7,280.0L225.6,280.6L227.1,281.6L228.4,283.3L228.5,284.7L229.3,284.7L230.5,286.0L231.4,286.9L234.1,287.4L234.4,287.0L236.3,286.8L238.7,287.5L239.5,287.7L241.2,288.4L243.6,290.6L243.9,291.6L244.7,291.5L245.3,293.0L246.5,297.5L247.7,298.0L247.8,299.8L246.0,301.9L246.7,302.7L250.8,303.1L250.9,305.7L252.7,304.0L255.6,305.0L259.4,306.5L260.6,308.1L260.2,309.5L262.9,308.7L267.4,310.1L270.8,310.0L274.3,312.2L277.2,315.1L279.0,315.8L281.0,316.0L281.8,316.8L282.7,320.1L283.1,321.7L282.3,326.0L281.1,327.7L278.0,331.3L276.6,334.3L275.0,336.6L274.5,336.6L273.9,338.5L274.3,343.4L273.8,347.4L273.7,349.2L273.0,350.2L272.8,353.7L270.8,357.1L270.5,359.8L268.8,360.9L268.3,362.5L265.9,362.5L262.4,363.5L260.9,364.7L258.5,365.4L256.0,367.5L254.4,370.1L254.2,372.0L254.8,373.5L254.6,376.1L254.3,377.4L252.9,378.8L251.1,383.4L249.4,385.5L248.1,386.7L247.5,389.2L246.4,390.7L245.7,392.3L243.5,393.8L241.8,393.3L240.7,393.5L238.4,392.4L237.0,392.5L235.4,391.1L235.5,392.4L238.7,394.7L238.8,396.5L240.3,397.6L240.5,398.9L239.1,402.2L236.3,403.6L232.1,404.1L229.7,403.9L230.5,405.4L230.6,407.4L231.3,408.7L230.3,409.6L228.2,410.0L225.9,409.0L225.3,409.7L226.3,412.3L228.0,413.0L228.9,412.2L229.9,413.6L228.2,414.4L227.0,416.0L227.5,418.6L227.5,419.9L225.5,419.9L224.3,421.2L224.4,423.2L227.0,425.0L229.1,425.6L229.2,427.8L227.3,429.3L227.1,432.3L225.6,433.2L225.3,434.4L227.0,437.0L228.9,438.5L228.0,438.4L226.7,438.9L224.2,439.9L224.9,442.2L224.1,442.2L221.5,441.4L218.5,439.7L215.4,438.3L214.1,436.7L214.0,435.2L212.3,433.5L210.2,429.2L210.1,426.8L211.5,424.8L208.2,424.1L209.3,421.8L208.5,417.5L211.1,418.4L210.3,413.1L208.7,412.4L209.1,415.6L207.7,415.3L207.1,411.6L206.3,406.8L206.7,405.0L205.4,402.5L204.4,399.5L205.3,399.4L205.5,395.2L206.0,391.1L206.1,387.2L204.7,383.3L205.0,381.1L204.1,377.9L204.9,374.7L204.5,369.6L204.5,364.2L204.6,358.4L204.0,354.1L203.1,350.4L200.6,348.9L200.4,347.8L195.6,345.2L191.2,342.4L189.3,340.8L188.2,338.6L188.5,337.9L186.3,334.4L183.7,329.6L181.3,324.4L180.3,323.2L179.5,321.3L177.6,319.6L175.9,318.5L176.6,317.4L175.4,314.9L176.1,313.1L177.9,311.4L179.1,309.4L178.5,308.3L177.7,309.5L176.3,308.4L176.7,307.6L176.3,305.3L177.1,304.9L177.5,303.2L178.4,301.6L178.2,300.5L179.5,299.9L181.1,298.9L180.8,298.1L181.7,297.9L181.6,296.6L182.1,295.6L183.3,295.4L184.3,293.8L185.2,292.4L184.4,291.8L184.9,290.3L184.4,287.9L184.9,287.2L184.7,285.0L183.8,283.6L184.1,282.4L184.9,282.5L185.3,281.8L184.9,280.2Z" fill="#bd0026"/>
<path d="M199.5,271.7L198.0,272.2L197.3,273.5L196.4,274.2L195.6,275.2L195.3,277.1L194.6,278.6L195.7,278.8L196.0,280.0L196.4,280.5L196.6,281.6L196.3,282.6L196.3,283.1L196.9,283.3L197.4,284.2L200.4,284.0L201.7,284.3L203.2,286.6L204.2,286.3L205.8,286.4L207.1,286.1L207.9,286.6L207.5,288.0L207.0,288.9L206.7,290.7L207.1,292.5L207.8,293.3L207.8,293.8L206.6,295.1L207.5,295.7L208.1,296.6L208.7,299.2L208.7,299.2L208.3,299.5L207.9,298.0L207.2,297.2L206.5,298.1L202.0,298.0L202.0,299.7L203.3,299.9L203.2,300.9L202.8,300.6L201.5,301.1L201.5,303.0L202.5,303.9L202.9,305.4L202.8,306.6L201.9,313.7L201.9,313.7L200.7,312.3L200.1,312.3L201.5,309.6L199.7,308.4L198.3,308.6L197.5,308.2L196.2,308.8L194.5,308.5L193.1,305.8L192.0,305.1L191.3,303.9L189.7,302.7L189.1,302.9L189.1,302.9L188.1,302.3L187.0,301.4L186.3,301.8L184.4,301.5L183.8,300.3L183.4,300.4L181.1,298.9L178.5,297.3L181.2,284.2L183.8,283.6L184.1,282.4L184.9,282.5L185.3,281.8L184.9,280.2L185.2,279.9L186.2,276.4L193.6,268.5L202.8,267.2Z" fill="#fc4e2a" stroke="#6b6b6b" stroke-width="0.50" stroke-opacity="0.90"/>
<path d="M208.7,299.2L208.1,296.6L207.5,295.7L206.6,295.1L207.8,293.8L207.8,293.3L207.1,292.5L206.7,290.7L207.0,288.9L207.5,288.0L207.9,286.6L207.1,286.1L205.8,286.4L204.2,286.3L203.2,286.6L201.7,284.3L200.4,284.0L197.4,284.2L196.9,283.3L196.3,283.1L196.3,282.6L196.6,281.6L196.4,280.5L196.0,280.0L195.7,278.8L194.6,278.6L195.3,277.1L195.6,275.2L196.4,274.2L197.3,273.5L198.0,272.2L199.5,271.7L202.8,267.2L225.5,271.2L228.5,280.3L225.6,280.6L223.7,282.2L223.5,283.1L224.2,284.1L223.7,284.6L222.2,285.0L222.2,286.2L221.6,286.9L223.1,288.9L223.1,288.9L223.4,289.7L222.5,290.6L219.9,291.6L218.3,292.0L217.6,292.7L215.7,292.0L214.0,291.7L213.6,291.9L214.6,292.6L214.5,294.3L214.8,296.0L216.7,296.2L216.8,296.8L215.2,297.5L214.9,298.6L214.0,299.0L212.2,299.6L211.8,300.4L210.0,300.6L208.7,299.2Z" fill="#fd8d3c" stroke="#6b6b6b" stroke-width="0.50" stroke-opacity="0.90"/>
<path d="M223.1,288.9L221.6,286.9L222.2,286.2L222.2,285.0L223.7,284.6L224.2,284.1L223.5,283.1L223.7,282.2L225.6,280.6L229.7,279.0L232.9,285.5L231.4,286.9L231.0,289.3L229.6,289.9L229.7,290.5L229.2,291.9L230.2,293.8L230.9,293.8L231.2,295.3L232.6,297.5L232.6,297.5L232.0,297.6L230.7,297.4L230.0,298.1L229.0,298.6L228.2,298.7L228.0,299.2L226.8,299.1L225.4,297.8L225.3,296.6L224.7,295.3L225.1,293.1L225.8,292.2L225.3,291.0L224.5,290.6L224.8,289.4L224.3,288.8L223.1,288.9Z" fill="#feb24c" stroke="#6b6b6b" stroke-width="0.50" stroke-opacity="0.90"/>
<path d="M232.6,297.5L231.2,295.3L230.9,293.8L230.2,293.8L229.2,291.9L229.7,290.5L229.6,289.9L231.0,289.3L231.4,286.9L234.1,284.2L239.8,285.5L238.7,287.5L237.5,289.7L237.6,291.5L238.5,293.0L238.1,294.2L237.9,295.4L237.3,296.5L237.3,296.5L235.9,295.9L234.8,296.2L233.9,295.9L233.7,296.7L234.0,297.2L233.9,297.7L232.6,297.5Z" fill="#feb24c" stroke="#6b6b6b" stroke-width="0.50" stroke-opacity="0.90"/>
<path d="M237.3,296.5L237.9,295.4L238.1,294.2L238.5,293.0L237.6,291.5L237.5,289.7L238.7,287.5L241.0,284.2L246.7,289.4L243.9,291.6L242.5,294.0L241.8,296.0L240.9,297.0L239.8,297.1L239.5,296.4L239.0,296.3L238.2,297.0L237.3,296.5Z" fill="url(#hatch)" stroke="#6b6b6b" stroke-width="0.50" stroke-opacity="0.90"/>
<path d="M181.1,298.9L183.4,300.4L183.8,300.3L184.4,301.5L186.3,301.8L187.0,301.4L188.1,302.3L189.1,302.9L189.1,302.9L189.4,304.9L188.8,306.6L186.3,309.3L183.5,310.3L182.2,312.6L181.8,314.4L180.5,315.5L179.5,314.1L178.6,313.9L177.6,314.1L177.5,313.1L178.2,312.5L177.9,311.4L174.0,311.4L173.9,297.3L178.5,297.3Z" fill="#fc4e2a" stroke="#6b6b6b" stroke-width="0.50" stroke-opacity="0.90"/>
<path d="M189.1,302.9L189.7,302.7L191.3,303.9L192.0,305.1L193.1,305.8L194.5,308.5L196.2,308.8L197.5,308.2L198.3,308.6L199.7,308.4L201.5,309.6L200.1,312.3L200.7,312.3L201.9,313.7L201.9,313.7L199.9,313.6L199.5,314.0L197.7,314.5L195.1,316.3L195.0,317.5L194.4,318.4L194.7,319.8L193.3,320.6L193.4,321.7L192.8,322.1L193.8,324.5L195.2,326.1L194.8,327.2L196.3,327.4L197.2,328.7L199.3,328.8L201.1,327.3L201.1,331.3L202.2,331.5L203.5,331.1L203.5,331.1L205.7,335.3L205.3,336.2L205.3,338.0L205.4,340.2L204.6,341.5L205.1,342.5L204.7,343.4L205.8,345.6L204.7,348.4L204.7,348.4L204.2,349.7L203.1,350.4L199.6,352.1L169.6,318.2L174.0,311.4L177.9,311.4L178.2,312.5L177.5,313.1L177.6,314.1L178.6,313.9L179.5,314.1L180.5,315.5L181.8,314.4L182.2,312.6L183.5,310.3L186.3,309.3L188.8,306.6L189.4,304.9L189.1,302.9Z" fill="#feb24c" stroke="#6b6b6b" stroke-width="0.50" stroke-opacity="0.90"/>
<path d="M203.5,331.1L205.2,331.3L206.4,331.3L206.8,330.5L208.8,329.4L209.9,328.4L212.9,328.0L212.8,329.9L213.1,331.0L213.0,332.7L215.6,335.0L218.2,335.5L219.2,336.5L220.8,337.0L221.8,337.7L223.2,337.7L224.6,338.5L224.8,340.0L225.3,340.8L225.4,341.9L224.7,341.9L225.8,345.0L230.2,345.1L230.0,346.6L230.3,347.6L231.6,348.3L232.3,350.0L232.1,352.0L231.5,353.2L231.9,354.7L231.2,355.2L231.2,355.2L231.1,354.4L228.9,353.1L226.8,353.0L222.9,353.8L222.0,356.1L222.1,357.5L221.5,360.6L221.5,360.6L221.1,360.0L218.5,359.9L217.8,362.0L216.3,360.2L213.3,359.5L211.7,361.9L211.7,361.9L210.1,362.2L208.8,358.6L207.3,355.7L207.8,353.2L206.4,352.1L206.0,350.2L204.7,348.4L204.7,348.4L205.8,345.6L204.7,343.4L205.1,342.5L204.6,341.5L205.4,340.2L205.3,338.0L205.3,336.2L205.7,335.3L203.5,331.1Z" fill="#fed976" stroke="#6b6b6b" stroke-width="0.50" stroke-opacity="0.90"/>
<path d="M221.5,360.6L222.1,357.5L222.0,356.1L222.9,353.8L226.8,353.0L228.9,353.1L231.1,354.4L231.2,355.2L231.2,355.2L232.0,356.6L232.2,360.2L234.6,360.7L235.5,360.2L237.1,360.9L237.6,361.7L238.0,364.1L238.4,365.1L239.2,365.2L240.0,364.8L240.9,365.2L241.0,366.7L240.9,368.2L240.6,369.7L240.6,369.7L240.5,372.0L238.7,374.0L237.0,374.5L234.4,374.1L232.1,373.3L233.8,369.4L233.3,368.2L230.9,367.2L228.0,365.3L226.1,364.9L221.5,360.6Z" fill="#fd8d3c" stroke="#6b6b6b" stroke-width="0.50" stroke-opacity="0.90"/>
<path d="M203.1,350.4L204.2,349.7L204.7,348.4L204.7,348.4L206.0,350.2L206.4,352.1L207.8,353.2L207.3,355.7L208.8,358.6L210.1,362.2L211.7,361.9L211.7,361.9L212.0,362.5L211.5,365.3L209.2,366.5L209.9,370.9L209.6,371.7L210.4,372.8L209.1,374.4L208.0,376.8L207.6,379.2L208.3,381.7L207.5,384.4L209.5,388.9L210.1,389.4L210.7,391.8L210.0,394.4L210.6,396.5L209.4,398.2L210.0,400.6L211.4,403.2L210.4,404.1L210.4,406.4L210.7,409.1L212.1,412.2L211.4,412.8L212.9,415.7L214.2,416.7L213.9,417.8L215.0,418.3L215.6,419.3L214.8,419.8L215.6,421.3L216.0,424.7L215.7,426.8L216.4,428.1L216.4,429.7L215.3,430.9L216.6,433.5L217.6,434.4L218.9,434.3L219.7,436.2L221.1,437.6L226.0,438.0L228.0,438.4L229.9,440.1L234.2,450.0L215.3,450.0L190.2,380.9L199.6,352.1Z" fill="#fd8d3c" stroke="#6b6b6b" stroke-width="0.50" stroke-opacity="0.90"/>
<path d="M211.7,361.9L213.3,359.5L216.3,360.2L217.8,362.0L218.5,359.9L221.1,360.0L221.5,360.6L221.5,360.6L226.1,364.9L228.0,365.3L230.9,367.2L233.3,368.2L233.8,369.4L232.1,373.3L234.4,374.1L237.0,374.5L238.7,374.0L240.5,372.0L240.6,369.7L240.6,369.7L242.9,370.7L243.1,372.8L241.4,374.2L240.1,375.3L237.9,377.8L235.5,381.4L235.5,381.4L235.3,383.5L235.1,386.2L235.6,388.8L235.2,389.4L235.4,391.1L235.6,392.1L244.4,399.1L247.4,445.1L230.3,442.6L228.7,438.6L228.0,438.4L226.0,438.0L221.1,437.6L219.7,436.2L218.9,434.3L217.6,434.4L216.6,433.5L215.3,430.9L216.4,429.7L216.4,428.1L215.7,426.8L216.0,424.7L215.6,421.3L214.8,419.8L215.6,419.3L215.0,418.3L213.9,417.8L214.2,416.7L212.9,415.7L211.4,412.8L212.1,412.2L210.7,409.1L210.4,406.4L210.4,404.1L211.4,403.2L210.0,400.6L209.4,398.2L210.6,396.5L210.0,394.4L210.7,391.8L210.1,389.4L209.5,388.9L207.5,384.4L208.3,381.7L207.6,379.2L208.0,376.8L209.1,374.4L210.4,372.8L209.6,371.7L209.9,370.9L209.2,366.5L211.5,365.3L212.0,362.5L211.7,361.9Z" fill="#e31a1c" stroke="#6b6b6b" stroke-width="0.50" stroke-opacity="0.90"/>
<path d="M235.4,391.1L235.2,389.4L235.6,388.8L235.1,386.2L235.3,383.5L235.5,381.4L235.5,381.4L236.8,381.1L239.4,383.1L240.2,383.1L242.7,384.7L244.7,386.2L246.2,388.0L245.5,389.2L246.4,390.7L249.9,393.9L242.0,397.8L235.6,392.1Z" fill="#e31a1c" stroke="#6b6b6b" stroke-width="0.50" stroke-opacity="0.90"/>
</g>
<path d="M185.2,279.9L186.3,279.9L188.2,278.1L189.1,277.8L189.2,277.0L189.8,274.8L191.1,273.6L192.6,273.5L192.8,273.0L194.6,273.2L196.5,271.9L197.4,271.3L198.6,270.0L199.4,270.2L200.0,270.9L199.5,271.7L199.4,272.4L198.0,272.7L198.7,273.8L198.6,275.2L197.5,276.7L198.2,278.8L199.2,278.6L199.8,276.7L199.2,275.8L199.2,273.8L202.1,272.8L201.9,271.6L202.7,270.7L203.4,272.6L205.0,272.6L206.4,274.1L206.5,274.9L208.5,274.9L211.0,274.7L212.2,275.9L214.0,276.2L215.3,275.4L215.4,274.7L218.2,274.6L221.0,274.5L219.0,275.3L219.7,276.5L221.5,276.7L223.2,278.0L223.5,280.1L224.7,280.0L225.6,280.6L227.1,281.6L228.4,283.3L228.5,284.7L229.3,284.7L230.5,286.0L231.4,286.9L234.1,287.4L234.4,287.0L236.3,286.8L238.7,287.5L239.5,287.7L241.2,288.4L243.6,290.6L243.9,291.6L244.7,291.5L245.3,293.0L246.5,297.5L247.7,298.0L247.8,299.8L246.0,301.9L246.7,302.7L250.8,303.1L250.9,305.7L252.7,304.0L255.6,305.0L259.4,306.5L260.6,308.1L260.2,309.5L262.9,308.7L267.4,310.1L270.8,310.0L274.3,312.2L277.2,315.1L279.0,315.8L281.0,316.0L281.8,316.8L282.7,320.1L283.1,321.7L282.3,326.0L281.1,327.7L278.0,331.3L276.6,334.3L275.0,336.6L274.5,336.6L273.9,338.5L274.3,343.4L273.8,347.4L273.7,349.2L273.0,350.2L272.8,353.7L270.8,357.1L270.5,359.8L268.8,360.9L268.3,362.5L265.9,362.5L262.4,363.5L260.9,364.7L258.5,365.4L256.0,367.5L254.4,370.1L254.2,372.0L254.8,373.5L254.6,376.1L254.3,377.4L252.9,378.8L251.1,383.4L249.4,385.5L248.1,386.7L247.5,389.2L246.4,390.7L245.7,392.3L243.5,393.8L241.8,393.3L240.7,393.5L238.4,392.4L237.0,392.5L235.4,391.1L235.5,392.4L238.7,394.7L238.8,396.5L240.3,397.6L240.5,398.9L239.1,402.2L236.3,403.6L232.1,404.1L229.7,403.9L230.5,405.4L230.6,407.4L231.3,408.7L230.3,409.6L228.2,410.0L225.9,409.0L225.3,409.7L226.3,412.3L228.0,413.0L228.9,412.2L229.9,413.6L228.2,414.4L227.0,416.0L227.5,418.6L227.5,419.9L225.5,419.9L224.3,421.2L224.4,423.2L227.0,425.0L229.1,425.6L229.2,427.8L227.3,429.3L227.1,432.3L225.6,433.2L225.3,434.4L227.0,437.0L228.9,438.5L228.0,438.4L226.7,438.9L224.2,439.9L224.9,442.2L224.1,442.2L221.5,441.4L218.5,439.7L215.4,438.3L214.1,436.7L214.0,435.2L212.3,433.5L210.2,429.2L210.1,426.8L211.5,424.8L208.2,424.1L209.3,421.8L208.5,417.5L211.1,418.4L210.3,413.1L208.7,412.4L209.1,415.6L207.7,415.3L207.1,411.6L206.3,406.8L206.7,405.0L205.4,402.5L204.4,399.5L205.3,399.4L205.5,395.2L206.0,391.1L206.1,387.2L204.7,383.3L205.0,381.1L204.1,377.9L204.9,374.7L204.5,369.6L204.5,364.2L204.6,358.4L204.0,354.1L203.1,350.4L200.6,348.9L200.4,347.8L195.6,345.2L191.2,342.4L189.3,340.8L188.2,338.6L188.5,337.9L186.3,334.4L183.7,329.6L181.3,324.4L180.3,323.2L179.5,321.3L177.6,319.6L175.9,318.5L176.6,317.4L175.4,314.9L176.1,313.1L177.9,311.4L179.1,309.4L178.5,308.3L177.7,309.5L176.3,308.4L176.7,307.6L176.3,305.3L177.1,304.9L177.5,303.2L178.4,301.6L178.2,300.5L179.5,299.9L181.1,298.9L180.8,298.1L181.7,297.9L181.6,296.6L182.1,295.6L183.3,295.4L184.3,293.8L185.2,292.4L184.4,291.8L184.9,290.3L184.4,287.9L184.9,287.2L184.7,285.0L183.8,283.6L184.1,282.4L184.9,282.5L185.3,281.8L184.9,280.2Z" fill="none" stroke="#6b6b6b" stroke-width="0.50" stroke-opacity="0.90"/>
<g clip-path="url(#c_tdf)">
<path d="M228.3,439.2L229.5,440.4L231.3,442.2L234.4,443.7L237.4,444.3L237.0,445.6L235.3,445.7L233.9,444.8L232.7,444.7L230.6,444.7L230.2,446.3L227.4,445.6L223.2,443.8L220.6,442.5L222.0,441.9L225.0,442.8L225.5,441.7L225.3,439.9L226.4,439.4Z" fill="#fd8d3c"/>
<path d="M227.6,437.6L231.9,447.5L240.7,447.5L236.7,437.6Z" fill="#e31a1c" stroke="#6b6b6b" stroke-width="0.50" stroke-opacity="0.90"/>
</g>
<path d="M228.3,439.2L229.5,440.4L231.3,442.2L234.4,443.7L237.4,444.3L237.0,445.6L235.3,445.7L233.9,444.8L232.7,444.7L230.6,444.7L230.2,446.3L227.4,445.6L223.2,443.8L220.6,442.5L222.0,441.9L225.0,442.8L225.5,441.7L225.3,439.9L226.4,439.4Z" fill="none" stroke="#6b6b6b" stroke-width="0.50" stroke-opacity="0.90"/>
<g clip-path="url(#c_eurasia)">
<path d="M438.4,220.8L439.0,220.0L439.5,218.7L439.8,216.8L439.9,216.0L440.5,214.0L441.2,212.1L440.9,210.0L441.0,208.7L441.2,206.9L439.9,206.9L437.9,206.4L436.5,207.7L434.0,208.5L432.2,207.2L429.2,206.1L428.8,207.7L427.3,208.2L425.0,206.7L422.6,206.7L421.9,205.9L421.7,204.3L419.4,202.8L420.3,200.9L418.8,199.4L418.7,198.1L419.7,197.0L418.1,196.5L418.1,196.0L416.8,195.7L414.6,195.7L413.7,197.3L414.9,197.8L412.5,198.1L411.6,196.8L411.1,198.1L412.7,200.2L412.0,200.9L414.5,202.8L414.6,204.1L413.3,203.5L412.7,204.6L413.1,207.2L411.6,207.4L409.8,206.4L408.3,203.8L408.7,202.5L411.9,203.0L412.1,202.5L408.6,202.1L407.3,200.9L406.1,199.6L405.6,198.9L404.2,197.3L403.9,194.4L403.8,193.2L402.7,192.1L401.8,191.6L399.8,190.6L396.4,189.0L394.6,187.2L393.8,185.2L392.5,184.4L391.8,185.7L391.0,183.9L390.0,183.4L388.4,184.1L388.7,185.4L388.8,187.2L391.1,188.8L392.3,191.1L393.9,192.6L397.1,193.2L396.5,194.2L399.0,195.5L401.2,196.5L402.3,197.8L401.9,198.6L399.1,196.8L398.3,197.8L398.4,199.1L399.5,200.7L398.3,201.4L397.6,203.5L396.7,203.3L396.8,201.4L397.6,200.2L396.2,198.1L394.9,197.6L394.4,196.5L393.1,196.0L391.7,195.0L389.6,194.2L388.7,193.4L386.3,191.9L385.0,190.6L384.5,189.0L383.8,187.7L381.5,186.7L379.9,188.0L378.6,188.2L376.8,189.8L374.3,189.5L372.6,189.3L371.1,189.0L369.5,190.1L369.5,191.9L369.7,193.2L367.6,194.4L364.9,195.5L364.5,196.5L362.4,199.4L363.4,201.2L361.9,202.5L361.5,204.3L358.9,206.1L358.2,206.7L355.4,206.7L353.5,206.7L351.5,208.2L350.9,208.5L349.4,206.9L349.2,206.1L347.9,205.4L347.1,205.4L345.7,205.9L343.8,205.9L344.1,203.5L344.1,202.2L342.7,201.2L343.2,199.6L344.1,197.6L344.6,195.0L344.3,193.2L344.3,191.6L343.5,190.3L345.7,189.0L346.5,188.2L348.4,188.8L351.1,188.8L353.6,189.3L355.1,189.0L356.7,189.3L359.2,189.3L359.9,189.0L360.5,185.9L360.7,183.6L360.5,182.1L358.9,180.6L358.5,179.5L357.3,178.8L354.7,178.0L353.5,177.5L353.3,176.5L355.7,175.5L357.5,176.0L359.2,175.7L359.8,175.7L359.8,173.4L360.6,173.9L363.2,173.7L365.0,172.7L366.2,171.7L366.2,170.2L368.0,169.6L369.7,168.9L370.9,167.6L371.8,166.1L372.4,164.9L373.7,164.1L376.5,163.9L377.0,163.1L378.8,163.4L379.7,162.7L380.3,162.2L379.8,160.2L379.0,159.7L378.5,158.5L378.4,156.0L379.3,154.8L381.6,153.6L382.9,153.3L382.7,154.5L382.6,156.0L383.7,156.5L382.5,157.7L381.6,158.7L381.5,159.9L382.1,160.4L382.3,161.2L384.1,161.4L384.0,162.4L386.5,161.9L387.2,161.2L388.9,160.9L389.8,162.2L390.8,162.7L394.4,161.7L395.8,160.7L398.3,160.4L399.2,161.4L400.9,161.4L401.4,160.2L403.6,159.4L403.2,158.0L402.8,155.5L403.7,153.8L405.5,153.3L406.9,155.0L408.6,154.8L408.8,152.8L408.6,151.6L406.8,150.9L406.6,149.7L408.9,149.0L412.8,149.0L414.8,149.0L414.9,148.3L416.6,147.8L418.7,148.0L416.3,147.3L415.3,146.1L414.0,146.6L411.3,146.8L409.0,147.3L405.4,148.0L403.9,146.8L401.9,145.4L401.8,143.7L400.9,141.6L401.4,140.2L402.8,138.8L406.3,136.3L407.5,135.8L407.1,134.9L404.9,134.2L401.6,134.4L400.2,136.3L400.7,137.4L399.6,138.8L397.4,139.7L394.9,141.4L394.5,143.3L394.1,144.7L394.7,146.1L397.2,147.5L397.8,148.7L396.3,150.4L394.4,151.1L394.1,155.0L393.3,157.2L391.0,157.0L390.1,158.9L387.8,158.9L387.0,156.7L385.3,154.1L383.5,150.4L382.3,149.0L382.3,150.2L379.8,151.6L378.7,151.9L376.1,152.4L373.6,151.1L372.8,148.5L372.1,145.4L373.6,141.6L378.3,139.5L381.5,137.2L384.5,134.0L388.2,129.7L390.6,127.9L394.9,125.3L398.3,124.2L401.0,124.4L403.1,122.7L406.2,122.7L409.1,122.2L414.6,123.9L412.6,124.4L414.8,125.7L416.3,125.1L419.5,126.4L424.2,126.8L431.5,129.5L433.1,130.4L433.7,131.9L432.1,133.1L429.6,133.8L421.3,131.9L420.2,132.4L423.4,134.0L424.6,137.4L427.0,138.1L428.6,138.7L428.5,137.7L427.1,136.5L428.1,135.8L432.8,137.2L434.0,136.5L432.4,134.9L435.6,132.6L437.3,132.9L439.0,133.5L439.5,131.9L437.6,130.6L438.0,129.3L436.3,127.9L441.3,128.7L442.7,129.9L440.6,130.1L441.2,131.5L442.7,132.2L445.3,131.7L445.1,130.4L448.2,129.3L453.2,127.3L454.6,127.5L453.6,128.8L455.7,129.0L456.6,128.4L459.7,128.1L461.8,127.3L464.3,128.6L465.6,127.3L463.1,125.9L463.6,125.2L468.9,125.9L471.6,126.6L479.1,129.0L479.6,127.9L477.3,126.8L476.7,126.2L474.6,125.9L474.7,125.1L472.6,123.3L472.2,122.7L473.9,120.7L473.8,118.8L474.6,118.4L479.2,118.8L480.4,120.1L480.0,121.8L481.6,122.5L483.1,124.0L484.8,127.0L487.5,128.4L487.6,129.9L486.3,133.1L488.3,133.3L488.6,132.6L490.1,131.9L489.9,130.8L490.6,129.7L489.0,128.6L488.6,127.0L486.7,126.8L485.6,125.7L485.5,123.5L482.1,121.8L484.0,120.3L482.6,118.8L483.2,118.6L485.0,119.9L485.9,122.0L487.8,122.2L485.9,120.7L488.0,119.9L491.4,119.9L495.2,121.1L492.4,119.3L490.5,117.2L492.8,116.6L496.8,116.7L499.9,116.5L497.5,115.3L498.2,114.1L499.9,114.1L502.0,113.1L505.6,112.7L505.5,112.2L509.5,112.1L511.2,112.5L513.4,111.5L516.3,111.5L515.4,110.5L515.9,109.7L518.4,108.9L521.7,109.5L520.4,110.1L524.2,110.3L525.7,111.3L526.7,110.9L531.1,110.9L535.8,111.9L538.0,112.6L539.1,113.7L538.2,114.3L535.4,115.3L534.8,115.9L537.2,116.3L540.1,116.7L541.0,116.4L543.5,117.8L543.5,117.2L545.7,116.8L551.2,117.2L552.7,118.2L559.8,118.5L558.0,117.0L561.7,117.2L564.2,117.2L568.3,118.4L570.7,119.7L570.8,120.5L574.9,122.2L578.6,123.1L577.4,121.0L581.2,121.8L583.3,121.3L587.2,121.9L587.7,121.4L590.7,121.6L586.8,119.7L587.8,118.7L604.2,120.1L607.5,121.4L614.1,123.1L620.1,122.7L623.7,122.9L626.5,123.9L628.7,125.5L631.7,126.2L633.4,125.7L635.9,125.5L639.7,125.9L642.5,125.7L648.5,127.7L649.5,127.0L646.0,125.6L645.2,124.6L651.5,125.3L654.6,125.1L661.2,126.2L665.1,127.1L678.5,136.1L677.8,137.2L675.2,137.0L678.5,138.1L682.3,140.1L684.1,140.7L685.6,141.7L685.9,142.3L682.0,141.9L679.2,143.5L678.0,143.9L677.3,145.5L676.6,147.1L677.1,148.0L672.4,146.3L670.0,148.3L667.9,147.3L667.7,148.5L664.5,148.0L665.9,149.7L666.5,152.1L667.7,153.1L670.4,153.6L673.9,157.0L672.4,157.2L673.7,159.2L675.7,160.3L673.8,161.7L675.8,164.4L673.3,164.9L675.4,167.6L674.7,169.9L672.3,168.1L668.0,164.5L661.4,158.9L658.7,155.5L658.8,154.1L657.8,153.1L660.1,152.4L660.0,149.5L660.4,147.1L661.5,145.2L658.7,141.7L656.7,141.9L658.1,144.0L656.6,146.6L651.5,143.6L647.9,144.4L647.7,148.4L651.1,149.9L647.4,150.4L644.9,150.7L643.1,149.0L639.9,148.6L638.8,149.8L632.8,149.5L627.4,150.1L625.9,154.8L623.9,160.7L627.2,160.9L629.5,162.5L631.9,163.0L632.0,161.8L634.3,161.9L639.5,164.7L641.4,166.8L642.0,169.3L644.2,172.3L646.4,176.3L646.0,180.0L646.5,181.8L645.7,184.8L644.8,187.8L644.5,189.3L642.6,190.8L641.3,190.8L639.3,189.6L637.6,191.5L637.8,192.3L636.9,192.2L636.5,193.0L636.4,193.9L637.5,195.8L636.8,196.4L636.6,196.8L636.2,197.6L635.1,198.1L634.4,198.7L635.0,199.9L636.0,200.5L637.8,201.7L641.1,204.8L642.5,206.4L643.8,209.4L643.7,210.9L641.9,211.4L640.7,212.4L638.8,212.7L637.9,211.3L637.5,209.3L635.3,206.6L636.7,206.2L634.2,203.9L632.9,203.4L632.4,204.1L631.4,203.4L630.6,203.0L630.6,201.8L631.0,201.5L630.6,201.1L630.4,199.7L630.1,199.2L628.7,199.0L627.3,198.3L624.7,199.0L623.7,200.2L621.8,200.9L622.3,199.7L621.4,198.7L622.2,197.0L620.4,195.6L619.0,196.5L617.5,198.3L617.0,200.0L615.0,200.2L614.4,201.3L616.4,203.1L618.3,203.5L618.9,204.7L621.0,205.5L622.5,203.6L624.9,204.6L626.3,204.7L627.3,206.1L624.6,206.8L624.2,208.2L622.6,209.5L622.2,211.3L625.2,212.8L627.0,215.3L629.3,217.7L631.5,219.7L632.1,221.7L631.0,222.4L632.0,223.8L633.5,224.6L633.9,226.7L633.9,228.8L632.8,229.0L631.9,231.9L631.0,235.3L629.6,238.4L627.0,240.8L624.3,243.0L621.8,243.3L620.7,244.5L619.7,243.6L618.7,244.9L615.8,246.2L613.4,246.6L613.1,249.4L611.9,249.5L611.0,247.6L611.3,246.6L608.2,245.8L607.2,246.2L604.5,248.4L603.0,250.9L602.8,252.7L605.0,255.5L607.6,258.9L609.9,260.5L611.6,262.6L613.2,267.4L613.4,272.0L611.6,273.7L609.1,275.4L607.5,277.6L604.8,280.0L603.8,278.4L604.3,276.6L602.5,275.1L600.5,274.7L599.5,273.4L598.1,270.7L595.9,269.5L594.0,269.5L594.1,267.5L592.1,267.5L592.2,270.4L591.3,274.2L590.7,276.5L591.0,278.4L592.5,278.4L593.6,280.8L594.1,283.1L595.5,284.6L596.9,284.9L598.2,286.3L598.7,286.5L600.1,288.1L601.2,289.8L601.4,291.6L601.2,292.8L601.4,293.7L601.7,295.2L602.5,295.9L603.5,298.2L603.4,299.1L601.8,299.3L599.6,297.4L596.8,295.3L596.5,294.0L595.1,292.2L594.7,290.0L593.8,288.6L594.0,286.7L593.4,285.6L592.4,284.6L592.0,283.3L590.7,281.8L589.5,280.6L589.2,282.2L588.7,280.7L588.8,279.1L589.3,276.6L589.0,274.6L589.5,272.6L588.6,271.1L588.5,268.2L587.4,266.9L586.4,263.7L585.6,260.5L584.3,258.3L583.0,259.6L580.6,261.5L579.3,261.2L577.8,260.6L578.2,257.4L577.4,254.9L575.2,251.9L575.3,251.0L574.0,250.6L572.1,248.5L571.2,247.2L570.9,245.8L570.3,244.6L569.2,243.0L567.1,243.0L567.4,244.0L566.9,245.5L565.9,244.9L565.6,245.4L564.9,245.1L564.0,244.9L563.8,245.9L562.3,245.8L559.6,246.3L560.0,248.3L559.0,249.9L555.9,251.6L553.8,254.7L552.3,256.4L550.2,258.0L550.3,259.3L549.2,259.9L547.3,260.8L546.2,261.0L545.8,263.0L546.5,266.4L546.8,268.5L546.0,271.0L546.3,275.4L545.2,275.6L544.2,277.6L545.0,278.4L542.9,279.2L542.2,281.0L541.3,281.7L539.0,279.3L537.8,275.6L536.7,273.0L535.9,271.7L534.5,269.2L533.7,266.0L533.1,264.3L530.7,260.7L529.3,255.7L528.2,252.3L527.9,249.2L527.2,246.7L524.1,248.3L522.4,248.0L519.1,244.8L520.1,243.9L519.4,242.8L516.5,240.6L514.7,240.0L513.9,238.1L511.8,236.1L507.8,236.6L504.1,236.6L501.0,237.0L496.7,236.2L494.2,235.6L491.6,235.3L490.3,232.1L489.1,231.6L487.5,232.1L485.4,233.3L482.5,232.5L480.1,230.5L477.8,229.7L476.0,227.3L474.0,223.8L472.8,224.2L471.3,223.3L470.6,224.3L469.2,224.2L469.9,225.4L469.7,226.0L470.7,227.9L471.8,230.2L473.0,230.8L473.5,231.7L475.1,232.8L475.4,233.9L475.2,234.8L475.6,235.6L476.3,236.3L476.7,237.2L477.1,237.9L476.8,236.0L477.2,234.6L477.8,234.3L478.6,235.1L478.8,236.6L478.5,238.2L479.0,239.2L479.4,239.1L481.2,239.3L483.1,239.4L484.5,239.5L485.8,237.7L487.3,236.1L488.6,234.4L489.2,233.6L489.1,235.4L489.6,237.4L490.8,239.2L492.2,240.1L493.9,240.5L495.2,240.9L496.4,242.5L497.1,243.3L497.9,243.7L498.0,244.2L497.3,245.8L497.0,246.5L496.1,247.4L495.4,249.1L494.4,249.0L494.0,249.6L493.7,250.9L494.2,252.7L494.0,253.0L492.9,253.0L491.6,254.0L491.5,255.3L491.0,255.8L489.6,255.8L488.7,256.5L488.8,257.5L487.8,258.2L486.5,258.0L485.1,258.9L484.0,259.0L482.4,259.7L482.0,260.9L482.1,261.8L479.8,262.9L476.3,264.1L474.3,265.9L473.3,266.1L472.6,265.9L471.3,267.0L469.9,267.5L468.0,267.6L467.4,267.8L467.0,268.5L466.4,268.7L466.0,269.3L464.9,269.3L464.2,269.6L462.6,269.5L461.9,268.0L461.9,266.5L461.5,265.8L461.0,263.8L460.3,262.8L460.7,262.6L460.4,261.4L460.7,260.9L460.5,259.8L460.2,258.7L459.4,257.9L459.2,256.9L458.0,255.9L456.6,253.7L455.9,251.6L454.2,249.8L453.1,249.4L451.5,246.9L451.1,245.1L451.1,243.5L449.6,240.6L448.5,239.6L447.3,239.1L446.4,237.6L446.5,237.0L445.8,235.6L445.1,235.0L444.1,233.1L442.5,231.0L441.3,229.2L440.1,229.2L440.4,227.8L440.4,226.9L440.6,225.8L440.5,225.5L438.6,221.0Z" fill="#e31a1c"/>
<path d="M344.3,193.2L345.6,192.5L346.1,193.4L347.4,193.4L347.7,193.1L349.0,193.2L349.5,194.5L348.5,195.2L348.4,197.2L348.1,197.6L347.9,198.8L347.0,199.0L347.8,200.6L347.2,202.3L347.9,203.1L347.6,203.8L346.8,204.8L346.9,205.6L347.0,207.2L340.3,207.2L340.9,192.9Z" fill="#bd0026"/>
<path d="M344.3,193.2L340.9,192.9L341.2,186.4L358.9,186.4L359.2,189.3L359.9,190.2L361.6,190.6L363.7,191.4L364.5,190.8L366.8,192.0L369.3,191.7L369.5,191.8L369.9,191.9L372.5,195.5L366.2,204.6L358.7,208.5L350.8,209.8L347.0,207.2L346.9,205.6L346.8,204.8L347.6,203.8L347.9,203.1L347.2,202.3L347.8,200.6L347.0,199.0L347.9,198.8L348.1,197.6L348.4,197.2L348.5,195.2L349.5,194.5L349.0,193.2L347.7,193.1L347.4,193.4L346.1,193.4L345.6,192.5L344.3,193.2Z" fill="#bd0026"/>
<path d="M359.2,189.3L358.9,186.4L350.8,178.8L350.9,173.7L359.0,171.2L366.0,169.1L368.0,169.5L368.3,170.4L369.2,170.5L370.2,171.5L371.6,172.6L372.6,172.4L374.4,173.6L374.4,173.6L374.9,173.8L375.4,173.8L375.4,173.8L376.4,174.4L379.3,174.9L378.4,176.7L378.2,178.5L378.2,178.5L377.6,178.9L376.7,178.7L376.8,179.3L375.4,180.7L375.4,181.9L376.3,181.5L377.1,182.6L377.1,182.6L377.0,183.3L377.7,184.3L377.0,185.1L377.6,187.1L378.7,187.4L378.5,188.5L378.6,188.4L378.9,190.3L373.5,191.6L369.9,191.9L369.5,191.8L369.3,191.7L366.8,192.0L364.5,190.8L363.7,191.4L361.6,190.6L359.9,190.2L359.2,189.3Z" fill="#bd0026"/>
<path d="M368.0,169.5L368.5,168.4L369.7,169.0L371.0,169.2L372.8,168.7L374.1,169.8L375.3,170.4L375.3,170.4L375.1,172.1L375.1,172.1L374.6,172.2L374.4,173.6L374.4,173.6L372.6,172.4L371.6,172.6L370.2,171.5L369.2,170.5L368.3,170.4L368.0,169.5Z" fill="#800026"/>
<path d="M369.7,169.0L368.9,168.4L370.8,164.9L372.7,162.9L376.6,162.9L376.5,163.7L376.9,164.5L376.5,166.8L376.0,167.8L374.9,167.8L375.3,170.4L375.3,170.4L374.1,169.8L372.8,168.7L371.0,169.2L369.7,169.0Z" fill="#bd0026"/>
<path d="M375.1,172.1L375.5,172.7L375.4,173.8L375.4,173.8L374.9,173.8L374.4,173.6L374.4,173.6L374.6,172.2L375.1,172.1Z" fill="#fc4e2a"/>
<path d="M375.3,170.4L374.9,167.8L376.0,167.8L376.5,166.8L376.9,164.5L376.5,163.7L376.6,162.7L378.5,161.7L379.0,159.9L379.6,160.2L382.1,160.4L383.3,160.5L386.2,160.9L389.0,160.4L390.7,161.9L390.7,162.5L390.5,163.0L391.0,164.3L390.6,164.9L391.4,165.8L392.0,167.2L391.9,168.0L392.8,169.6L392.8,169.6L392.0,169.9L391.4,169.6L391.0,170.1L389.6,170.6L388.9,171.2L387.5,171.7L387.9,172.5L388.1,173.6L389.2,174.2L390.4,175.3L390.4,175.3L389.8,176.4L389.1,176.8L389.5,178.4L389.3,178.8L388.7,178.3L387.7,178.3L386.3,178.7L384.5,178.6L384.2,179.3L383.1,178.6L382.5,178.7L382.5,178.7L380.3,177.9L379.9,178.5L378.2,178.5L378.2,178.5L378.4,176.7L379.3,174.9L376.4,174.4L375.4,173.8L375.4,173.8L375.5,172.7L375.1,172.1L375.1,172.1L375.3,170.4Z" fill="#800026"/>
<path d="M379.6,160.2L377.4,159.9L377.1,153.8L383.3,152.6L383.9,156.2L382.8,159.9L382.1,160.4L379.6,160.2Z" fill="#bd0026"/>
<path d="M378.2,178.5L379.9,178.5L380.3,177.9L382.5,178.7L382.5,178.7L382.6,179.1L382.4,179.8L383.3,180.2L384.3,180.3L384.3,180.3L384.2,181.4L383.3,181.8L381.8,181.5L381.4,182.5L380.4,182.6L380.1,182.2L379.0,183.1L378.0,183.2L377.1,182.6L377.1,182.6L376.3,181.5L375.4,181.9L375.4,180.7L376.8,179.3L376.7,178.7L377.6,178.9L378.2,178.5Z" fill="#800026"/>
<path d="M382.5,178.7L383.1,178.6L384.2,179.3L384.5,178.6L386.3,178.7L387.7,178.3L388.7,178.3L389.3,178.8L389.5,178.4L389.1,176.8L389.8,176.4L390.4,175.3L390.4,175.3L392.0,176.1L393.0,175.1L393.7,174.8L395.4,175.6L396.3,175.5L397.3,176.0L397.3,176.0L397.2,176.3L397.4,177.2L397.4,177.2L397.4,178.2L396.2,178.2L396.7,178.8L396.1,180.4L396.1,180.4L395.8,180.9L394.0,180.9L393.0,181.5L391.3,181.3L391.3,181.3L388.3,180.6L387.8,179.7L385.8,180.2L385.6,180.7L384.3,180.3L384.3,180.3L383.3,180.2L382.4,179.8L382.6,179.1L382.5,178.7Z" fill="#800026"/>
<path d="M378.6,188.4L378.5,188.5L378.7,187.4L377.6,187.1L377.0,185.1L377.7,184.3L377.0,183.3L377.1,182.6L377.1,182.6L378.0,183.2L379.0,183.1L380.1,182.2L380.4,182.6L381.4,182.5L381.8,181.5L383.3,181.8L384.2,181.4L384.3,180.3L384.3,180.3L385.6,180.7L385.8,180.2L387.8,179.7L388.3,180.6L391.3,181.3L391.3,181.3L391.2,182.5L391.7,183.7L391.3,183.6L390.4,184.4L392.7,187.7L397.2,191.6L402.8,196.0L403.6,200.7L399.7,205.9L392.8,198.1L386.2,194.2L382.9,190.3L379.7,189.5L378.9,189.3Z" fill="#800026"/>
<path d="M391.3,181.3L393.0,181.5L394.0,180.9L395.8,180.9L396.1,180.4L396.1,180.4L396.5,180.5L396.9,181.3L396.9,181.3L395.4,182.0L395.2,183.0L394.5,183.3L394.6,184.0L393.8,184.0L393.1,183.5L392.7,184.0L391.3,184.0L391.0,183.9L390.6,183.8L391.3,183.6L391.7,183.7L391.2,182.5L391.3,181.3Z" fill="#fc4e2a"/>
<path d="M391.0,183.9L391.3,184.0L392.7,184.0L393.1,183.5L393.8,184.0L394.6,184.0L394.5,183.3L395.2,183.0L395.4,182.0L396.9,181.3L396.9,181.3L397.6,181.6L399.2,182.7L401.0,183.2L401.7,182.8L401.7,182.8L402.3,183.8L403.0,184.5L402.3,185.5L402.3,185.5L401.3,185.0L399.9,185.0L398.1,184.6L397.1,184.6L396.7,185.2L396.0,184.6L395.6,185.6L396.7,186.8L397.2,187.6L398.3,188.6L399.1,189.1L400.0,190.2L401.9,191.2L401.9,191.2L401.7,191.7L401.2,192.4L397.2,191.6L392.7,187.7L390.5,184.7Z" fill="#e31a1c"/>
<path d="M402.3,185.5L403.1,185.5L402.7,186.7L403.8,187.6L403.6,188.8L403.1,189.0L403.1,189.0L402.1,189.8L401.9,191.2L401.9,191.2L400.0,190.2L399.1,189.1L398.3,188.6L397.2,187.6L396.7,186.8L395.6,185.6L396.0,184.6L396.7,185.2L397.1,184.6L398.1,184.6L399.9,185.0L401.3,185.0L402.3,185.5Z" fill="#fd8d3c"/>
<path d="M401.7,191.7L401.9,191.2L401.9,191.2L402.1,189.8L403.1,189.0L403.1,189.0L403.7,189.4L404.0,189.8L404.7,190.0L405.6,190.6L405.4,190.8L405.4,190.8L405.1,191.4L405.1,191.4L404.5,191.6L404.4,191.1L403.6,192.4L403.8,193.2L403.1,193.9L401.2,192.4Z" fill="#bd0026"/>
<path d="M403.8,193.2L403.6,192.4L404.4,191.1L404.5,191.6L405.1,191.4L405.1,191.4L405.6,192.1L406.1,192.3L406.4,193.3L406.4,193.3L406.2,194.1L406.6,195.2L407.5,195.9L407.5,195.9L407.5,196.6L406.9,197.0L406.8,197.8L405.9,199.1L405.0,199.1L403.4,197.6L403.1,193.9Z" fill="#fc4e2a"/>
<path d="M405.4,190.8L405.9,190.6L406.1,189.7L406.5,189.6L406.8,190.0L407.2,190.1L407.5,190.5L407.9,190.7L408.3,191.1L408.6,191.1L408.5,191.8L408.2,192.1L408.3,192.2L408.3,192.2L407.9,192.4L406.7,192.8L406.6,193.3L406.4,193.3L406.4,193.3L406.1,192.3L405.6,192.1L405.1,191.4L405.1,191.4L405.4,190.8Z" fill="url(#hatch)"/>
<path d="M406.4,193.3L406.6,193.3L406.7,192.8L407.9,192.4L408.3,192.2L408.3,192.2L409.0,192.1L410.0,192.1L410.0,192.1L411.1,192.9L411.5,194.6L411.5,194.6L411.1,194.7L410.8,195.1L409.6,195.1L408.9,195.7L407.5,195.9L407.5,195.9L406.6,195.2L406.2,194.1L406.4,193.3Z" fill="#fc4e2a"/>
<path d="M401.7,182.8L403.2,182.2L404.5,182.3L404.5,182.3L405.7,183.3L406.0,184.1L407.4,184.7L407.6,185.8L408.9,186.5L409.5,185.9L410.1,186.2L409.6,186.7L410.1,187.1L410.1,187.1L409.6,187.7L409.9,188.7L411.0,189.8L410.3,190.6L410.1,191.4L410.3,191.7L410.0,192.1L410.0,192.1L409.0,192.1L408.3,192.2L408.3,192.2L408.2,192.1L408.5,191.8L408.6,191.1L408.3,191.1L407.9,190.7L407.5,190.5L407.2,190.1L406.8,190.0L406.5,189.6L406.1,189.7L405.9,190.6L405.4,190.8L405.4,190.8L405.6,190.6L404.7,190.0L404.0,189.8L403.7,189.4L403.1,189.0L403.1,189.0L403.6,188.8L403.8,187.6L402.7,186.7L403.1,185.5L402.3,185.5L402.3,185.5L403.0,184.5L402.3,183.8L401.7,182.8Z" fill="#fc4e2a"/>
<path d="M405.9,199.1L406.8,197.8L406.9,197.0L407.5,196.6L407.5,195.9L407.5,195.9L408.9,195.7L409.6,195.1L410.8,195.1L411.1,194.7L411.5,194.6L411.5,194.6L413.0,194.7L414.6,194.0L416.2,194.9L418.1,194.6L418.0,193.3L418.0,193.3L419.1,194.0L418.6,195.6L418.2,195.9L418.2,197.3L416.3,199.4L418.0,205.9L415.0,209.0L408.5,208.5L404.3,202.0L405.0,199.1Z" fill="#bd0026"/>
<path d="M410.1,187.1L410.8,188.2L411.6,188.0L413.2,188.4L416.3,188.5L417.2,187.9L419.6,187.3L421.2,188.2L422.5,188.5L423.7,190.3L423.0,192.9L421.9,192.9L420.1,192.5L418.0,193.3L418.0,193.3L418.1,194.6L416.2,194.9L414.6,194.0L413.0,194.7L411.5,194.6L411.5,194.6L411.1,192.9L410.0,192.1L410.0,192.1L410.3,191.7L410.1,191.4L410.3,190.6L411.0,189.8L409.9,188.7L409.6,187.7L410.1,187.1Z" fill="#e31a1c"/>
<path d="M404.5,182.3L406.1,181.8L407.2,180.1L407.9,178.3L409.1,177.8L409.1,177.8L409.9,177.2L411.2,177.5L412.5,177.5L413.6,178.2L414.2,177.8L415.7,177.5L416.1,176.9L416.9,176.9L416.9,176.9L417.6,177.2L418.3,177.9L419.1,179.0L420.5,180.5L420.7,181.7L420.7,182.8L421.2,183.9L421.2,183.9L422.2,184.4L423.1,184.0L424.1,184.4L424.2,185.1L426.2,186.4L424.5,189.0L422.5,188.5L421.2,188.2L419.6,187.3L417.2,187.9L416.3,188.5L413.2,188.4L411.6,188.0L410.8,188.2L410.1,187.1L410.1,187.1L409.6,186.7L410.1,186.2L409.5,185.9L408.9,186.5L407.6,185.8L407.4,184.7L406.0,184.1L405.7,183.3L404.5,182.3Z" fill="#e31a1c"/>
<path d="M396.1,180.4L396.7,178.8L396.2,178.2L397.4,178.2L397.4,177.2L397.4,177.2L398.5,177.8L399.3,178.1L401.0,177.8L401.1,177.3L401.9,177.2L402.8,176.8L403.1,177.0L404.0,176.7L404.4,176.1L405.0,175.9L407.3,176.7L407.7,176.4L407.7,176.4L408.9,177.1L409.1,177.8L409.1,177.8L407.9,178.3L407.2,180.1L406.1,181.8L404.5,182.3L404.5,182.3L403.2,182.2L401.7,182.8L401.7,182.8L401.0,183.2L399.2,182.7L397.6,181.6L396.9,181.3L396.9,181.3L396.5,180.5L396.1,180.4Z" fill="#bd0026"/>
<path d="M397.3,176.0L397.5,175.4L398.4,175.5L399.1,175.2L399.1,175.0L399.5,174.8L399.6,174.3L400.0,174.1L400.3,173.7L400.9,173.7L400.9,173.7L401.0,173.8L401.8,173.5L402.9,174.4L404.0,173.9L405.0,174.1L406.4,173.8L408.5,174.7L408.5,174.7L408.0,175.4L407.7,176.4L407.7,176.4L407.3,176.7L405.0,175.9L404.4,176.1L404.0,176.7L403.1,177.0L402.8,176.8L401.9,177.2L401.1,177.3L401.0,177.8L399.3,178.1L398.5,177.8L397.4,177.2L397.4,177.2L397.2,176.3L397.3,176.0Z" fill="#e31a1c"/>
<path d="M392.8,169.6L393.8,170.5L395.4,170.7L395.3,171.4L396.4,171.9L396.7,171.2L398.1,171.5L398.3,172.3L399.8,172.4L400.9,173.7L400.9,173.7L400.3,173.7L400.0,174.1L399.6,174.3L399.5,174.8L399.1,175.0L399.1,175.2L398.4,175.5L397.5,175.4L397.3,176.0L397.3,176.0L396.3,175.5L395.4,175.6L393.7,174.8L393.0,175.1L392.0,176.1L390.4,175.3L390.4,175.3L389.2,174.2L388.1,173.6L387.9,172.5L387.5,171.7L388.9,171.2L389.6,170.6L391.0,170.1L391.4,169.6L392.0,169.9L392.8,169.6Z" fill="#bd0026"/>
<path d="M390.7,162.5L390.7,161.2L395.7,159.4L400.6,160.4L401.1,161.3L403.5,161.6L407.0,161.6L407.0,161.6L408.1,161.9L408.6,162.6L408.6,162.6L408.9,163.7L409.6,164.7L409.7,165.7L408.6,166.2L409.4,167.3L409.6,168.4L409.6,168.4L410.9,170.6L410.8,171.4L409.8,171.6L408.3,173.7L408.9,174.9L408.5,174.7L408.5,174.7L406.4,173.8L405.0,174.1L404.0,173.9L402.9,174.4L401.8,173.5L401.0,173.8L400.9,173.7L400.9,173.7L399.8,172.4L398.3,172.3L398.1,171.5L396.7,171.2L396.4,171.9L395.3,171.4L395.4,170.7L393.8,170.5L392.8,169.6L392.8,169.6L391.9,168.0L392.0,167.2L391.4,165.8L390.6,164.9L391.0,164.3L390.5,163.0L390.7,162.5Z" fill="#bd0026"/>
<path d="M403.9,159.5L406.0,159.9L406.9,160.3L406.8,161.0L407.0,161.6L407.0,161.6L408.1,161.9L408.6,162.6L408.6,162.6L410.5,162.6L412.5,161.7L412.7,160.3L414.2,159.5L413.8,158.4L413.8,158.4L411.7,157.2L410.7,157.1L410.3,156.6L408.5,156.8L405.3,156.6L403.2,157.4L402.2,157.5L402.4,159.4Z" fill="#e31a1c"/>
<path d="M403.2,157.4L405.3,156.6L408.5,156.8L410.3,156.6L410.7,157.1L411.7,157.2L413.8,158.4L413.8,158.4L414.9,158.0L416.8,157.1L416.8,157.1L415.9,155.6L415.5,154.4L414.5,153.9L414.5,153.9L412.9,153.9L411.1,153.0L410.2,152.7L408.7,153.1L408.2,153.6L407.0,154.1L405.8,152.8L403.4,152.6L401.8,155.0L402.2,157.5Z" fill="#bd0026"/>
<path d="M408.7,153.1L410.2,152.7L411.1,153.0L412.9,153.9L414.5,153.9L414.5,153.9L415.1,153.1L414.1,150.9L415.2,149.5L414.8,149.0L413.7,148.0L405.5,148.5L405.5,150.7L406.7,152.1L408.1,152.8Z" fill="#e31a1c"/>
<path d="M408.5,174.7L408.9,174.9L408.3,173.7L409.8,171.6L410.8,171.4L410.9,170.6L409.6,168.4L409.6,168.4L410.5,168.3L411.5,167.7L413.0,167.6L415.0,167.8L417.3,168.4L418.9,168.5L419.7,168.8L420.4,168.4L421.0,169.0L422.8,168.8L423.6,169.1L423.5,167.8L424.0,167.3L425.7,167.1L425.7,167.1L426.4,167.2L426.8,166.7L427.4,166.8L429.4,166.5L431.0,168.0L430.6,168.5L430.9,169.2L432.5,169.4L433.5,170.5L433.5,171.0L436.2,171.8L437.7,171.5L439.2,172.6L440.3,172.6L443.5,173.4L443.6,174.2L443.1,175.5L443.9,176.9L443.7,177.7L441.8,177.9L440.9,178.6L441.0,179.8L440.9,181.3L439.2,183.4L438.5,184.4L438.9,186.4L431.6,187.7L427.0,184.4L424.7,185.4L424.2,185.1L424.1,184.4L423.1,184.0L422.2,184.4L421.2,183.9L421.2,183.9L421.7,183.6L421.9,182.8L422.4,181.9L422.2,181.5L422.6,181.3L422.8,181.6L424.0,181.7L424.5,181.5L424.1,181.2L424.2,180.9L423.4,180.2L423.0,179.1L422.1,178.7L422.2,177.9L421.1,177.2L420.3,177.1L418.7,176.3L417.4,176.5L416.9,176.9L416.9,176.9L416.1,176.9L415.7,177.5L414.2,177.8L413.6,178.2L412.5,177.5L411.2,177.5L409.9,177.2L409.1,177.8L409.1,177.8L408.9,177.1L407.7,176.4L407.7,176.4L408.0,175.4L408.5,174.7Z" fill="#feb24c"/>
<path d="M416.9,176.9L417.4,176.5L418.7,176.3L420.3,177.1L421.1,177.2L422.2,177.9L422.1,178.7L423.0,179.1L423.4,180.2L424.2,180.9L424.1,181.2L424.5,181.5L424.0,181.7L422.8,181.6L422.6,181.3L422.2,181.5L422.4,181.9L421.9,182.8L421.7,183.6L421.2,183.9L421.2,183.9L420.7,182.8L420.7,181.7L420.5,180.5L419.1,179.0L418.3,177.9L417.6,177.2L416.9,176.9Z" fill="#feb24c"/>
<path d="M404.9,134.2L404.4,133.7L403.7,132.9L403.0,129.4L400.0,127.9L397.6,126.8L397.6,126.8L396.6,126.9L396.6,128.3L393.3,128.0L393.1,129.2L391.5,129.2L390.5,130.8L389.2,133.3L386.8,136.5L387.5,137.3L387.0,138.2L385.3,138.2L384.3,140.4L384.7,143.5L386.0,144.7L385.6,147.5L384.2,149.1L383.5,150.5L383.2,151.4L384.1,153.8L386.3,157.0L387.2,158.7L388.0,159.9L390.9,159.9L393.7,158.5L397.4,157.5L400.3,153.8L399.7,149.0L397.7,146.6L398.1,144.2L400.1,140.0L403.4,136.7L404.8,134.9Z" fill="#bd0026"/>
<path d="M418.2,195.9L418.6,195.6L419.1,194.0L418.0,193.3L418.0,193.3L420.1,192.5L421.9,192.9L423.9,192.1L436.3,190.8L450.1,192.9L450.6,194.1L452.9,194.0L455.1,195.2L455.1,195.2L455.7,196.2L455.7,197.4L457.4,198.0L458.4,198.8L458.4,198.8L457.1,199.6L458.2,202.5L458.0,203.3L459.5,205.4L459.5,205.4L458.5,205.9L457.6,205.2L455.1,204.9L454.2,205.3L454.2,205.3L451.8,205.7L450.7,205.6L448.3,206.6L446.6,206.6L445.4,206.1L443.1,206.9L442.3,206.3L442.4,207.8L441.9,208.4L441.4,209.0L440.0,209.0L434.5,209.0L426.9,209.0L421.4,207.4L420.0,204.6L418.3,202.0L417.6,198.1Z" fill="#bd0026"/>
<path d="M446.6,188.9L448.4,189.3L451.6,189.7L454.7,191.0L455.1,191.5L456.3,191.1L458.4,191.6L459.3,192.7L460.7,193.3L460.7,193.3L460.2,193.6L461.6,195.0L461.3,195.3L460.2,195.2L458.4,194.4L458.4,194.4L458.0,194.8L455.1,195.2L455.1,195.2L452.9,194.0L450.6,194.1L449.4,193.4L447.8,190.8L446.3,189.5Z" fill="#fd8d3c"/>
<path d="M455.1,195.2L458.0,194.8L458.4,194.4L458.4,194.4L458.6,195.5L459.5,196.0L459.2,196.6L460.5,197.5L460.0,198.3L461.0,199.0L462.1,199.5L462.5,201.3L461.7,201.3L461.7,201.3L460.6,199.8L460.5,199.4L459.6,199.4L458.8,198.7L458.4,198.8L458.4,198.8L457.4,198.0L455.7,197.4L455.7,196.2L455.1,195.2Z" fill="#fc4e2a"/>
<path d="M460.7,193.3L461.3,193.3L463.1,194.9L464.1,195.1L464.3,194.4L465.3,193.4L468.5,194.2L471.4,198.1L469.1,202.5L467.8,202.4L467.3,202.6L465.7,201.2L466.2,199.9L465.4,199.2L464.6,199.3L462.5,201.3L462.5,201.3L462.1,199.5L461.0,199.0L460.0,198.3L460.5,197.5L459.2,196.6L459.5,196.0L458.6,195.5L458.4,194.4L458.4,194.4L460.2,195.2L461.3,195.3L461.6,195.0L460.2,193.6L460.7,193.3Z" fill="#fd8d3c"/>
<path d="M458.4,198.8L458.8,198.7L459.6,199.4L460.5,199.4L460.6,199.8L461.7,201.3L461.7,201.3L460.2,201.0L458.9,199.8L458.4,198.8Z" fill="#fd8d3c"/>
<path d="M441.4,209.0L441.9,208.4L442.4,207.8L442.3,206.3L443.1,206.9L445.4,206.1L446.6,206.6L448.3,206.6L450.7,205.6L451.8,205.7L454.2,205.3L454.2,205.3L453.4,206.9L452.3,207.5L452.8,209.4L452.4,212.6L447.9,215.3L447.9,215.3L443.9,218.1L441.4,217.1L441.4,217.1L441.3,217.0L441.6,216.7L441.4,215.6L441.4,215.6L441.8,214.2L442.9,213.2L442.4,212.2L441.4,212.0L440.5,211.9L440.0,209.0Z" fill="#feb24c"/>
<path d="M440.0,216.1L440.7,216.1L440.8,215.6L441.4,215.6L441.4,215.6L441.8,214.2L442.9,213.2L442.4,212.2L441.4,212.0L440.5,211.9L439.6,215.0L439.5,216.1Z" fill="#fd8d3c"/>
<path d="M440.0,216.1L439.5,216.1L438.5,218.9L438.0,220.8L438.6,221.0L440.5,225.5L440.5,225.5L441.2,221.3L441.0,220.3L441.3,219.5L441.1,217.9L441.4,217.1L441.4,217.1L441.3,217.0L441.6,216.7L441.4,215.6L441.4,215.6L440.8,215.6L440.7,216.1L440.0,216.1Z" fill="#bd0026"/>
<path d="M441.1,217.9L441.3,219.5L441.0,220.3L440.0,220.6L440.0,219.9L440.6,219.6L440.0,219.3L440.2,217.5Z" fill="url(#hatch)"/>
<path d="M441.4,217.1L443.9,218.1L447.9,215.3L447.9,215.3L449.2,218.5L449.2,218.5L448.8,218.9L444.5,220.2L447.0,222.8L446.3,223.3L446.1,224.1L444.4,224.5L444.0,225.4L443.1,226.2L440.6,225.8L440.5,225.5L440.5,225.5L441.2,221.3L441.0,220.3L441.3,219.5L441.1,217.9L441.4,217.1Z" fill="#fd8d3c"/>
<path d="M454.2,205.3L455.1,204.9L457.6,205.2L458.5,205.9L459.5,205.4L459.5,205.4L461.4,208.5L462.9,209.3L463.3,210.9L462.4,211.7L462.2,213.8L464.1,216.3L466.9,217.7L468.4,219.7L468.3,221.6L469.0,221.6L469.2,223.0L470.6,224.3L470.1,224.9L469.2,224.2L467.7,224.0L466.4,226.5L466.4,226.5L462.3,226.3L455.4,221.0L451.9,219.2L449.2,218.5L449.2,218.5L447.9,215.3L447.9,215.3L452.4,212.6L452.8,209.4L452.3,207.5L453.4,206.9L454.2,205.3Z" fill="#fed976"/>
<path d="M466.4,226.5L467.7,224.0L469.2,224.2L470.5,224.7L471.6,227.9L470.7,227.9L469.1,228.0L468.4,226.8L466.4,226.5Z" fill="#fc4e2a"/>
<path d="M458.4,198.8L458.9,199.8L460.2,201.0L461.7,201.3L462.5,201.3L462.5,201.3L464.6,199.3L465.4,199.2L466.2,199.9L465.7,201.2L467.3,202.6L467.8,202.4L469.3,203.3L472.7,204.3L479.0,204.6L479.2,205.4L481.0,204.9L482.2,203.4L483.6,203.4L484.5,203.0L486.1,203.2L488.7,204.5L490.5,204.8L493.5,207.1L495.1,207.2L495.8,209.4L495.8,209.4L495.6,212.7L495.3,214.5L496.4,214.9L495.7,216.4L496.8,218.5L497.3,220.1L499.0,220.5L499.5,222.2L497.9,224.6L497.9,224.6L499.2,226.0L500.3,227.5L502.7,228.7L503.1,231.0L504.2,231.4L504.5,232.6L501.5,234.0L501.0,237.0L501.2,238.5L491.0,237.7L489.6,233.3L486.2,234.6L479.2,232.5L473.0,226.8L471.2,225.2L470.6,224.3L469.2,223.0L469.0,221.6L468.3,221.6L468.4,219.7L466.9,217.7L464.1,216.3L462.2,213.8L462.4,211.7L463.3,210.9L462.9,209.3L461.4,208.5L459.5,205.4L459.5,205.4L458.0,203.3L458.2,202.5L457.1,199.6L458.4,198.8Z" fill="#fd8d3c"/>
<path d="M440.6,225.8L443.1,226.2L444.0,225.4L444.4,224.5L446.1,224.1L446.3,223.3L447.0,222.8L444.5,220.2L448.8,218.9L449.2,218.5L449.2,218.5L451.9,219.2L455.4,221.0L462.3,226.3L466.4,226.5L466.4,226.5L468.4,226.8L469.1,228.0L470.7,227.9L472.5,228.3L475.4,232.0L476.2,235.9L477.1,237.9L477.8,238.4L478.5,238.2L478.7,238.5L479.0,239.2L479.1,239.8L480.2,242.4L487.1,243.7L487.5,243.2L487.5,243.2L488.7,245.0L487.6,250.3L481.0,252.9L481.0,252.9L474.6,253.9L472.5,255.0L471.1,257.8L470.0,258.2L469.4,257.4L468.6,257.5L466.3,257.2L465.9,257.0L463.3,257.0L462.7,257.3L461.7,256.6L461.2,257.9L461.5,259.0L460.5,259.8L458.8,259.9L449.0,247.7L442.5,234.6L439.9,229.9L440.0,226.0Z" fill="#fc4e2a"/>
<path d="M477.1,237.9L477.8,238.4L478.5,238.2L479.6,238.0L479.3,233.3L476.2,233.3L476.6,237.2Z" fill="#fc4e2a"/>
<path d="M479.0,239.2L478.9,238.3L482.0,237.7L485.2,235.9L487.9,234.1L488.6,234.4L489.1,235.4L489.9,235.9L490.1,237.4L489.6,237.4L488.5,237.4L488.5,239.1L488.9,239.5L487.9,240.0L488.0,241.1L487.5,242.1L487.5,243.2L487.5,243.2L487.1,243.7L480.2,242.4L479.1,239.8L479.0,239.2Z" fill="#e31a1c"/>
<path d="M488.6,234.4L488.2,233.0L489.8,233.0L489.9,235.6L489.1,235.4Z" fill="#fd8d3c"/>
<path d="M489.6,237.4L491.1,238.3L495.7,239.8L499.5,243.7L496.8,251.6L490.5,258.1L484.3,260.2L484.0,259.0L481.0,252.9L481.0,252.9L487.6,250.3L488.7,245.0L487.5,243.2L487.5,243.2L487.5,242.1L488.0,241.1L487.9,240.0L488.9,239.5L488.5,239.1L488.5,237.4L489.6,237.4Z" fill="#fd8d3c"/>
<path d="M481.0,252.9L484.0,259.0L484.0,262.0L472.9,268.5L465.0,271.2L461.5,270.4L459.7,264.6L459.2,259.9L460.5,259.8L461.5,259.0L461.2,257.9L461.7,256.6L462.7,257.3L463.3,257.0L465.9,257.0L466.3,257.2L468.6,257.5L469.4,257.4L470.0,258.2L471.1,257.8L472.5,255.0L474.6,253.9L481.0,252.9Z" fill="#fed976"/>
<path d="M463.7,181.6L462.5,181.2L462.4,179.8L460.7,178.2L459.2,178.2L457.1,176.5L457.7,174.6L457.0,174.0L457.9,171.3L460.4,172.7L460.1,170.9L463.4,168.2L466.5,168.1L471.4,169.8L474.1,170.9L475.8,169.8L479.0,169.8L481.9,171.0L482.3,170.3L485.1,170.4L485.2,169.2L481.4,167.5L482.8,166.3L482.2,165.6L483.8,164.9L481.8,163.2L482.3,162.4L489.2,161.5L489.9,160.9L494.4,160.0L495.6,159.0L499.3,159.5L501.1,162.1L502.8,161.5L505.7,162.3L506.2,163.7L508.0,163.5L511.7,161.2L511.4,162.0L514.8,163.9L522.3,170.3L522.7,168.9L526.1,170.4L528.7,169.7L530.0,170.2L531.7,171.6L533.3,172.1L534.6,173.2L537.1,172.8L538.9,174.4L538.9,174.4L538.1,176.1L536.5,176.3L537.6,178.9L536.9,180.0L532.5,179.2L532.9,183.8L532.1,184.3L528.4,185.4L532.0,189.8L530.8,190.5L531.5,192.0L531.5,192.0L530.1,191.6L528.7,190.7L525.5,190.4L522.0,190.3L521.3,190.6L518.0,189.5L517.0,190.1L517.2,191.6L513.4,190.7L512.2,191.1L512.1,192.2L512.1,192.2L511.0,192.7L508.8,194.5L508.4,196.3L507.6,196.4L506.7,195.1L504.0,195.0L502.9,192.9L501.9,192.9L501.3,190.3L498.2,188.4L494.7,188.6L492.4,189.0L489.7,186.7L487.7,185.7L484.0,183.9L483.5,183.7L478.6,185.2L481.2,194.7L481.2,194.7L480.1,194.8L478.2,192.8L476.6,192.1L474.3,192.6L473.6,193.5L472.1,191.6L468.3,189.0L466.4,185.2L467.8,182.6L464.7,182.6Z" fill="#fc4e2a"/>
<path d="M481.2,194.7L478.6,185.2L483.5,183.7L484.0,183.9L487.7,185.7L489.7,186.7L492.4,189.0L494.7,188.6L498.2,188.4L501.3,190.3L501.9,192.9L502.9,192.9L504.0,195.0L506.7,195.1L507.6,196.4L508.4,196.3L508.8,194.5L511.0,192.7L512.1,192.2L512.1,192.2L512.8,192.5L511.5,194.1L513.4,195.1L514.7,194.5L517.6,195.8L515.5,197.7L513.8,197.5L513.8,197.5L512.9,197.5L512.4,196.8L512.5,195.6L509.9,196.2L509.7,197.8L509.1,199.3L507.2,199.2L507.0,200.3L508.8,200.9L509.7,202.9L509.2,205.5L509.2,205.5L507.4,204.9L506.2,204.9L506.2,204.9L505.9,203.3L502.8,202.2L500.2,201.0L498.5,199.7L495.6,197.9L493.8,195.3L493.0,194.8L490.8,194.9L489.8,194.4L489.0,192.3L485.8,191.0L484.5,192.5L482.9,193.3L483.6,194.7L481.2,194.7Z" fill="#fc4e2a"/>
<path d="M473.6,193.5L474.3,192.6L476.6,192.1L478.2,192.8L480.1,194.8L481.2,194.7L481.2,194.7L483.6,194.7L482.9,193.3L484.5,192.5L485.8,191.0L489.0,192.3L489.8,194.4L490.8,194.9L493.0,194.8L493.8,195.3L495.6,197.9L498.5,199.7L500.2,201.0L502.8,202.2L505.9,203.3L506.2,204.9L506.2,204.9L505.6,204.9L504.4,204.2L504.3,205.1L502.6,205.6L502.6,207.7L501.6,208.5L499.9,208.8L499.7,210.0L498.2,210.4L495.8,209.4L495.8,209.4L495.1,207.2L493.5,207.1L490.5,204.8L488.7,204.5L486.1,203.2L484.5,203.0L483.6,203.4L482.2,203.4L481.0,204.9L479.2,205.4L478.2,205.1L475.2,200.7L473.6,195.5Z" fill="#fd8d3c"/>
<path d="M512.1,192.2L512.2,191.1L513.4,190.7L517.2,191.6L517.0,190.1L518.0,189.5L521.3,190.6L522.0,190.3L525.5,190.4L528.7,190.7L530.1,191.6L531.5,192.0L531.5,192.0L531.4,192.6L528.6,194.0L528.2,195.0L525.6,195.3L525.4,197.0L523.0,196.6L521.7,197.1L520.0,198.4L520.5,199.0L520.1,199.6L520.1,199.6L516.2,199.9L513.3,199.1L511.0,199.3L510.8,197.8L513.3,198.2L513.8,197.5L513.8,197.5L515.5,197.7L517.6,195.8L514.7,194.5L513.4,195.1L511.5,194.1L512.8,192.5L512.1,192.2Z" fill="#fd8d3c"/>
<path d="M513.8,197.5L513.3,198.2L510.8,197.8L511.0,199.3L513.3,199.1L516.2,199.9L520.1,199.6L520.1,199.6L521.3,201.9L522.0,201.7L523.4,202.3L523.7,203.3L524.4,204.8L524.4,204.8L522.2,204.8L520.6,204.6L519.6,205.7L518.7,206.0L518.1,206.6L517.0,205.7L516.6,203.5L516.0,203.4L516.0,202.6L514.7,202.0L514.0,202.9L514.0,203.9L513.8,204.3L512.5,204.3L512.1,205.5L511.3,205.0L509.9,205.8L509.2,205.5L509.2,205.5L509.7,202.9L508.8,200.9L507.0,200.3L507.2,199.2L509.1,199.3L509.7,197.8L509.9,196.2L512.5,195.6L512.4,196.8L512.9,197.5L513.8,197.5Z" fill="#fd8d3c"/>
<path d="M495.8,209.4L498.2,210.4L499.7,210.0L499.9,208.8L501.6,208.5L502.6,207.7L502.6,205.6L504.3,205.1L504.4,204.2L505.6,204.9L506.2,204.9L506.2,204.9L507.4,204.9L509.2,205.5L509.2,205.5L509.9,205.8L511.3,205.0L512.1,205.5L512.5,204.3L513.8,204.3L514.0,203.9L514.0,202.9L514.7,202.0L516.0,202.6L516.0,203.4L516.6,203.5L517.0,205.7L518.1,206.6L518.7,206.0L519.6,205.7L520.6,204.6L522.2,204.8L524.4,204.8L524.4,204.8L525.0,205.5L523.8,205.8L523.8,205.8L522.8,206.3L520.4,206.6L518.3,207.2L517.3,208.3L518.1,209.4L518.6,210.7L517.8,211.8L518.2,212.8L517.8,213.7L515.7,213.6L516.9,215.4L515.7,216.0L515.1,217.6L515.6,219.2L514.8,219.9L514.0,219.7L512.4,220.0L512.3,220.8L510.6,220.8L509.7,222.2L510.0,224.4L507.3,225.5L505.7,225.3L505.4,225.9L504.0,225.5L501.8,225.9L497.9,224.6L497.9,224.6L499.5,222.2L499.0,220.5L497.3,220.1L496.8,218.5L495.7,216.4L496.4,214.9L495.3,214.5L495.6,212.7L495.8,209.4Z" fill="#fed976"/>
<path d="M497.9,224.6L501.8,225.9L504.0,225.5L505.4,225.9L505.7,225.3L507.3,225.5L510.0,224.4L509.7,222.2L510.6,220.8L512.3,220.8L512.4,220.0L514.0,219.7L514.8,219.9L515.6,219.2L515.1,217.6L515.7,216.0L516.9,215.4L515.7,213.6L517.8,213.7L518.2,212.8L517.8,211.8L518.6,210.7L518.1,209.4L517.3,208.3L518.3,207.2L520.4,206.6L522.8,206.3L523.8,205.8L523.8,205.8L526.9,206.7L528.1,208.7L532.0,209.8L532.0,209.8L530.4,212.0L528.1,212.4L524.6,211.7L523.8,212.9L525.2,215.2L526.3,216.9L528.4,218.2L526.9,219.7L527.3,221.6L525.7,224.2L524.8,226.9L523.0,229.6L520.3,229.4L518.3,232.1L520.0,233.3L520.5,235.3L521.9,236.6L522.7,238.9L517.7,238.9L516.5,240.6L514.0,242.4L501.2,238.5L501.0,237.0L501.0,237.0L501.5,234.0L504.5,232.6L504.2,231.4L503.1,231.0L502.7,228.7L500.3,227.5L499.2,226.0L497.9,224.6Z" fill="#fd8d3c"/>
<path d="M516.5,240.6L517.7,238.9L522.7,238.9L521.9,236.6L520.5,235.3L520.0,233.3L518.3,232.1L520.3,229.4L523.0,229.6L524.8,226.9L525.7,224.2L527.3,221.6L526.9,219.7L528.4,218.2L526.3,216.9L525.2,215.2L523.8,212.9L524.6,211.7L528.1,212.4L530.4,212.0L532.0,209.8L532.0,209.8L535.1,212.9L535.4,215.0L536.6,216.3L536.9,217.7L535.2,217.3L536.5,220.2L539.1,221.9L542.5,223.7L542.5,223.7L541.4,224.9L541.0,227.3L543.4,228.3L545.7,229.6L548.9,231.0L552.1,231.4L553.6,232.7L555.3,233.0L558.2,233.6L560.0,233.5L560.1,232.5L559.4,230.8L559.4,229.7L559.4,229.7L560.6,229.1L561.2,231.2L561.2,231.2L561.4,231.7L563.6,232.7L564.9,232.3L566.9,232.5L568.7,232.4L568.5,230.8L567.4,230.0L567.4,230.0L569.1,229.6L570.7,227.7L572.9,226.0L574.9,226.7L576.2,225.6L577.7,227.2L577.2,228.3L579.7,228.7L579.7,228.7L580.1,229.7L579.4,230.2L579.9,231.8L578.2,231.3L575.7,233.1L576.1,234.6L575.3,236.8L575.4,238.0L574.8,240.2L572.9,239.6L573.3,242.3L572.9,243.2L573.3,244.3L572.2,244.9L572.2,244.9L570.5,240.8L569.8,240.8L569.7,242.5L568.3,241.1L568.7,239.6L569.7,239.5L570.4,237.3L569.0,236.8L566.9,236.9L564.7,236.5L564.2,234.7L563.1,234.6L561.1,233.4L560.7,235.2L562.5,236.6L561.3,237.5L560.9,238.5L562.4,239.2L562.3,240.8L563.4,242.7L564.0,244.9L564.3,247.7L558.2,252.9L548.4,267.2L546.8,277.7L541.4,284.2L526.4,252.9L516.6,245.0Z" fill="#feb24c"/>
<path d="M542.5,223.7L543.3,223.1L545.3,223.8L547.9,225.6L549.2,225.9L550.2,227.2L552.1,227.7L554.1,228.9L556.7,229.5L559.4,229.7L559.4,229.7L559.4,230.8L560.1,232.5L560.0,233.5L558.2,233.6L555.3,233.0L553.6,232.7L552.1,231.4L548.9,231.0L545.7,229.6L543.4,228.3L541.0,227.3L541.4,224.9L542.5,223.7Z" fill="#feb24c"/>
<path d="M561.2,231.2L562.3,229.3L563.4,228.6L565.1,229.2L566.3,229.3L567.4,230.0L567.4,230.0L568.5,230.8L568.7,232.4L566.9,232.5L564.9,232.3L563.6,232.7L561.4,231.7L561.2,231.2Z" fill="#fd8d3c"/>
<path d="M564.0,244.9L563.4,242.7L562.3,240.8L562.4,239.2L560.9,238.5L561.3,237.5L562.5,236.6L560.7,235.2L561.1,233.4L563.1,234.6L564.2,234.7L564.7,236.5L566.9,236.9L569.0,236.8L570.4,237.3L569.7,239.5L568.7,239.6L568.3,241.1L569.7,242.5L569.8,240.8L570.5,240.8L572.2,244.9L572.2,244.9L572.5,246.8L571.6,246.4L572.1,248.5L571.3,249.0L567.7,247.7L564.2,246.9Z" fill="#fed976"/>
<path d="M572.1,248.5L571.6,246.4L572.5,246.8L572.2,244.9L572.2,244.9L573.3,244.3L572.9,243.2L573.3,242.3L572.9,239.6L574.8,240.2L575.4,238.0L575.3,236.8L576.1,234.6L575.7,233.1L578.2,231.3L579.9,231.8L579.4,230.2L580.1,229.7L579.7,228.7L579.7,228.7L580.9,228.5L582.0,230.0L583.1,230.7L583.7,232.7L584.0,234.8L582.3,237.0L582.6,240.1L584.9,239.7L585.9,242.1L587.4,242.6L587.1,244.7L588.9,245.7L589.9,246.2L591.5,245.4L591.7,246.5L591.7,246.5L590.0,248.2L589.7,249.2L589.7,249.2L588.5,249.8L587.3,250.9L585.7,251.0L585.1,253.8L584.2,254.3L585.7,256.6L587.4,258.5L588.5,260.2L588.0,262.5L587.2,263.0L587.9,264.3L589.7,266.4L590.1,267.8L590.2,269.1L591.3,271.4L590.2,273.9L589.3,276.6L587.7,277.7L585.1,268.5L584.4,262.0L580.0,263.3L576.3,260.7L575.4,254.2L571.4,249.5Z" fill="#fed976"/>
<path d="M589.3,276.6L590.2,273.9L591.3,271.4L590.2,269.1L590.1,267.8L589.7,266.4L587.9,264.3L587.2,263.0L588.0,262.5L588.5,260.2L587.4,258.5L585.7,256.6L584.2,254.3L585.1,253.8L585.7,251.0L587.3,250.9L588.5,249.8L589.7,249.2L589.7,249.2L590.8,250.0L591.2,251.5L592.7,251.7L592.6,254.4L593.0,256.8L595.1,255.2L595.9,255.7L597.2,255.6L597.5,254.7L599.3,254.9L601.3,257.0L601.8,259.6L604.0,261.8L604.1,264.1L603.5,265.2L603.5,265.2L601.4,264.8L598.5,265.3L597.2,267.5L598.1,270.7L596.8,271.7L594.7,273.8L595.3,281.6L599.0,285.5L598.2,286.3L597.5,287.3L596.0,287.6L595.7,286.3L593.8,285.2L593.4,285.6L592.1,286.3L587.9,281.6L587.7,277.7Z" fill="#fed976"/>
<path d="M589.7,249.2L590.0,248.2L591.7,246.5L591.7,246.5L592.0,247.1L593.2,247.2L592.4,244.2L593.5,243.8L593.5,243.8L595.2,245.9L596.5,248.3L599.4,248.3L600.6,250.6L599.2,251.3L598.7,252.2L601.7,253.7L604.1,256.8L605.8,259.1L607.8,260.9L608.6,262.8L608.5,265.4L608.5,265.4L606.4,264.4L605.5,266.2L603.5,265.2L603.5,265.2L604.1,264.1L604.0,261.8L601.8,259.6L601.3,257.0L599.3,254.9L597.5,254.7L597.2,255.6L595.9,255.7L595.1,255.2L593.0,256.8L592.6,254.4L592.7,251.7L591.2,251.5L590.8,250.0L589.7,249.2Z" fill="#fed976"/>
<path d="M598.1,270.7L597.2,267.5L598.5,265.3L601.4,264.8L603.5,265.2L603.5,265.2L605.5,266.2L606.4,264.4L608.5,265.4L608.5,265.4L609.2,267.1L609.3,270.3L605.6,272.3L606.8,273.9L604.4,274.1L602.5,275.1L601.4,276.4L598.3,275.1L597.3,271.4Z" fill="#ffeda0"/>
<path d="M602.5,275.1L604.4,274.1L606.8,273.9L605.6,272.3L609.3,270.3L609.2,267.1L608.5,265.4L608.5,265.4L608.6,262.8L607.8,260.9L605.8,259.1L604.1,256.8L601.7,253.7L598.7,252.2L599.2,251.3L600.6,250.6L599.4,248.3L596.5,248.3L595.2,245.9L593.5,243.8L593.5,243.8L594.6,243.2L596.4,243.2L598.6,242.9L600.3,241.5L601.5,242.5L603.7,243.0L603.6,244.5L604.8,245.5L607.2,246.2L608.0,249.0L607.0,252.9L610.1,258.1L614.2,263.3L615.4,273.8L609.1,281.6L602.9,281.6L601.9,276.9Z" fill="#feb24c"/>
<path d="M593.4,285.6L593.8,285.2L595.7,286.3L596.0,287.6L597.5,287.3L598.2,286.3L600.1,285.5L605.1,294.7L604.8,299.9L601.8,299.9L593.5,293.4L592.1,286.3Z" fill="#fc4e2a"/>
<path d="M538.9,174.4L539.6,174.2L539.6,174.2L540.9,176.0L543.2,177.3L546.6,178.3L548.9,180.3L549.5,183.3L550.7,184.4L553.4,184.9L556.3,185.2L559.5,186.8L561.0,187.1L563.0,189.5L564.9,191.0L567.2,191.0L571.8,191.5L574.4,191.2L576.6,191.6L580.5,193.1L583.0,193.1L584.3,193.9L586.1,192.6L589.1,191.7L592.2,191.5L594.1,190.6L594.9,189.3L595.9,188.4L595.2,187.6L594.0,186.5L594.2,184.9L595.5,185.1L597.9,185.7L599.2,184.3L601.8,183.3L602.3,181.6L603.3,180.9L606.1,180.5L607.9,180.8L607.5,179.9L604.6,178.1L602.5,177.3L601.5,178.3L599.3,177.9L598.3,178.2L597.2,177.1L597.1,174.6L596.8,172.7L596.8,172.7L599.8,173.7L601.6,172.1L600.8,171.0L600.8,168.3L601.3,167.5L600.3,166.1L598.8,165.5L599.4,164.3L601.5,163.8L604.1,163.7L607.6,164.5L610.0,165.4L613.1,167.9L614.7,169.0L616.5,170.6L619.0,173.0L623.1,173.8L626.7,175.6L629.2,178.0L632.3,178.0L633.4,177.0L636.2,176.3L636.7,178.6L636.6,179.5L637.7,182.3L638.0,184.8L635.2,184.3L634.0,185.2L635.9,187.4L637.5,190.5L636.4,190.6L637.2,191.9L637.2,191.9L635.0,190.3L635.0,191.8L632.4,192.9L633.5,194.3L631.6,194.2L630.2,193.4L629.7,195.2L628.2,196.6L627.3,198.3L627.6,199.9L627.1,203.3L631.6,211.1L634.5,221.5L637.0,229.4L633.8,238.5L627.0,243.7L620.7,246.9L615.3,248.2L614.0,249.7L611.5,249.7L610.5,247.7L607.9,247.1L607.2,246.2L604.8,245.5L603.6,244.5L603.7,243.0L601.5,242.5L600.3,241.5L598.6,242.9L596.4,243.2L594.6,243.2L593.5,243.8L593.5,243.8L592.4,244.2L593.2,247.2L592.0,247.1L591.7,246.5L591.7,246.5L591.5,245.4L589.9,246.2L588.9,245.7L587.1,244.7L587.4,242.6L585.9,242.1L584.9,239.7L582.6,240.1L582.3,237.0L584.0,234.8L583.7,232.7L583.1,230.7L582.0,230.0L580.9,228.5L579.7,228.7L579.7,228.7L577.2,228.3L577.7,227.2L576.2,225.6L574.9,226.7L572.9,226.0L570.7,227.7L569.1,229.6L567.4,230.0L567.4,230.0L566.3,229.3L565.1,229.2L563.4,228.6L562.3,229.3L561.2,231.2L561.2,231.2L560.6,229.1L559.4,229.7L559.4,229.7L556.7,229.5L554.1,228.9L552.1,227.7L550.2,227.2L549.2,225.9L547.9,225.6L545.3,223.8L543.3,223.1L542.5,223.7L542.5,223.7L539.1,221.9L536.5,220.2L535.2,217.3L536.9,217.7L536.6,216.3L535.4,215.0L535.1,212.9L532.0,209.8L532.0,209.8L528.1,208.7L526.9,206.7L523.8,205.8L523.8,205.8L525.0,205.5L524.4,204.8L524.4,204.8L523.7,203.3L523.4,202.3L522.0,201.7L521.3,201.9L520.1,199.6L520.1,199.6L520.5,199.0L520.0,198.4L521.7,197.1L523.0,196.6L525.4,197.0L525.6,195.3L528.2,195.0L528.6,194.0L531.4,192.6L531.5,192.0L531.5,192.0L530.8,190.5L532.0,189.8L528.4,185.4L532.1,184.3L532.9,183.8L532.5,179.2L536.9,180.0L537.6,178.9L536.5,176.3L538.1,176.1L538.9,174.4Z" fill="#fc4e2a"/>
<path d="M637.2,191.9L637.8,192.3L639.4,194.2L638.1,201.7L637.8,201.7L636.9,202.5L635.5,202.6L635.2,203.8L634.2,203.7L634.2,203.9L632.0,204.6L629.2,203.3L627.6,199.9L627.3,198.3L628.2,196.6L629.7,195.2L630.2,193.4L631.6,194.2L633.5,194.3L632.4,192.9L635.0,191.8L635.0,190.3L637.2,191.9Z" fill="url(#hatch)"/>
<path d="M637.8,201.7L641.4,202.0L646.9,213.7L638.3,214.2L632.0,204.6L634.2,203.9L634.2,203.7L635.2,203.8L635.5,202.6L636.9,202.5L637.8,201.7Z" fill="#e31a1c"/>
<path d="M344.3,193.2L345.6,192.5L346.1,193.4L347.4,193.4L347.7,193.1L349.0,193.2L349.5,194.5L348.5,195.2L348.4,197.2L348.1,197.6L347.9,198.8L347.0,199.0L347.8,200.6L347.2,202.3L347.9,203.1L347.6,203.8L346.8,204.8L346.9,205.6M359.2,189.3L359.9,190.2L361.6,190.6L363.7,191.4L364.5,190.8L366.8,192.0L369.3,191.7L369.5,191.8M368.0,169.5L368.3,170.4L369.2,170.5L370.2,171.5L371.6,172.6L372.6,172.4L374.4,173.6M374.4,173.6L374.9,173.8L375.4,173.8M375.4,173.8L376.4,174.4L379.3,174.9L378.4,176.7L378.2,178.5M378.2,178.5L377.6,178.9L376.7,178.7L376.8,179.3L375.4,180.7L375.4,181.9L376.3,181.5L377.1,182.6M377.1,182.6L377.0,183.3L377.7,184.3L377.0,185.1L377.6,187.1L378.7,187.4L378.5,188.5L378.6,188.4M369.7,169.0L371.0,169.2L372.8,168.7L374.1,169.8L375.3,170.4M375.3,170.4L375.1,172.1M375.1,172.1L374.6,172.2L374.4,173.6M375.1,172.1L375.5,172.7L375.4,173.8M375.3,170.4L374.9,167.8L376.0,167.8L376.5,166.8L376.9,164.5L376.5,163.7M379.6,160.2L382.1,160.4M390.7,162.5L390.5,163.0L391.0,164.3L390.6,164.9L391.4,165.8L392.0,167.2L391.9,168.0L392.8,169.6M392.8,169.6L392.0,169.9L391.4,169.6L391.0,170.1L389.6,170.6L388.9,171.2L387.5,171.7L387.9,172.5L388.1,173.6L389.2,174.2L390.4,175.3M390.4,175.3L389.8,176.4L389.1,176.8L389.5,178.4L389.3,178.8L388.7,178.3L387.7,178.3L386.3,178.7L384.5,178.6L384.2,179.3L383.1,178.6L382.5,178.7M382.5,178.7L380.3,177.9L379.9,178.5L378.2,178.5M382.5,178.7L382.6,179.1L382.4,179.8L383.3,180.2L384.3,180.3M384.3,180.3L384.2,181.4L383.3,181.8L381.8,181.5L381.4,182.5L380.4,182.6L380.1,182.2L379.0,183.1L378.0,183.2L377.1,182.6M384.3,180.3L385.6,180.7L385.8,180.2L387.8,179.7L388.3,180.6L391.3,181.3M391.3,181.3L393.0,181.5L394.0,180.9L395.8,180.9L396.1,180.4M396.1,180.4L396.7,178.8L396.2,178.2L397.4,178.2L397.4,177.2M397.4,177.2L397.2,176.3L397.3,176.0M397.3,176.0L396.3,175.5L395.4,175.6L393.7,174.8L393.0,175.1L392.0,176.1L390.4,175.3M391.3,181.3L391.2,182.5L391.7,183.7L391.3,183.6M392.8,169.6L393.8,170.5L395.4,170.7L395.3,171.4L396.4,171.9L396.7,171.2L398.1,171.5L398.3,172.3L399.8,172.4L400.9,173.7M400.9,173.7L400.3,173.7L400.0,174.1L399.6,174.3L399.5,174.8L399.1,175.0L399.1,175.2L398.4,175.5L397.5,175.4L397.3,176.0M400.9,173.7L401.0,173.8L401.8,173.5L402.9,174.4L404.0,173.9L405.0,174.1L406.4,173.8L408.5,174.7M408.5,174.7L408.9,174.9L408.3,173.7L409.8,171.6L410.8,171.4L410.9,170.6L409.6,168.4M409.6,168.4L409.4,167.3L408.6,166.2L409.7,165.7L409.6,164.7L408.9,163.7L408.6,162.6M408.6,162.6L408.1,161.9L407.0,161.6M407.0,161.6L403.5,161.6L401.1,161.3M397.4,177.2L398.5,177.8L399.3,178.1L401.0,177.8L401.1,177.3L401.9,177.2L402.8,176.8L403.1,177.0L404.0,176.7L404.4,176.1L405.0,175.9L407.3,176.7L407.7,176.4M407.7,176.4L408.0,175.4L408.5,174.7M407.7,176.4L408.9,177.1L409.1,177.8M409.1,177.8L407.9,178.3L407.2,180.1L406.1,181.8L404.5,182.3M404.5,182.3L403.2,182.2L401.7,182.8M401.7,182.8L401.0,183.2L399.2,182.7L397.6,181.6L396.9,181.3M396.9,181.3L396.5,180.5L396.1,180.4M396.9,181.3L395.4,182.0L395.2,183.0L394.5,183.3L394.6,184.0L393.8,184.0L393.1,183.5L392.7,184.0L391.3,184.0L391.0,183.9M401.7,182.8L402.3,183.8L403.0,184.5L402.3,185.5M402.3,185.5L401.3,185.0L399.9,185.0L398.1,184.6L397.1,184.6L396.7,185.2L396.0,184.6L395.6,185.6L396.7,186.8L397.2,187.6L398.3,188.6L399.1,189.1L400.0,190.2L401.9,191.2M401.9,191.2L401.7,191.7M402.3,185.5L403.1,185.5L402.7,186.7L403.8,187.6L403.6,188.8L403.1,189.0M403.1,189.0L402.1,189.8L401.9,191.2M403.1,189.0L403.7,189.4L404.0,189.8L404.7,190.0L405.6,190.6L405.4,190.8M405.4,190.8L405.1,191.4M405.1,191.4L404.5,191.6L404.4,191.1L403.6,192.4L403.8,193.2M405.4,190.8L405.9,190.6L406.1,189.7L406.5,189.6L406.8,190.0L407.2,190.1L407.5,190.5L407.9,190.7L408.3,191.1L408.6,191.1L408.5,191.8L408.2,192.1L408.3,192.2M408.3,192.2L407.9,192.4L406.7,192.8L406.6,193.3L406.4,193.3M406.4,193.3L406.1,192.3L405.6,192.1L405.1,191.4M406.4,193.3L406.2,194.1L406.6,195.2L407.5,195.9M407.5,195.9L407.5,196.6L406.9,197.0L406.8,197.8L405.9,199.1M408.3,192.2L409.0,192.1L410.0,192.1M410.0,192.1L411.1,192.9L411.5,194.6M411.5,194.6L411.1,194.7L410.8,195.1L409.6,195.1L408.9,195.7L407.5,195.9M404.5,182.3L405.7,183.3L406.0,184.1L407.4,184.7L407.6,185.8L408.9,186.5L409.5,185.9L410.1,186.2L409.6,186.7L410.1,187.1M410.1,187.1L409.6,187.7L409.9,188.7L411.0,189.8L410.3,190.6L410.1,191.4L410.3,191.7L410.0,192.1M411.5,194.6L413.0,194.7L414.6,194.0L416.2,194.9L418.1,194.6L418.0,193.3M418.0,193.3L419.1,194.0L418.6,195.6L418.2,195.9M421.9,192.9L420.1,192.5L418.0,193.3M410.1,187.1L410.8,188.2L411.6,188.0L413.2,188.4L416.3,188.5L417.2,187.9L419.6,187.3L421.2,188.2L422.5,188.5M409.1,177.8L409.9,177.2L411.2,177.5L412.5,177.5L413.6,178.2L414.2,177.8L415.7,177.5L416.1,176.9L416.9,176.9M416.9,176.9L417.6,177.2L418.3,177.9L419.1,179.0L420.5,180.5L420.7,181.7L420.7,182.8L421.2,183.9M421.2,183.9L422.2,184.4L423.1,184.0L424.1,184.4L424.2,185.1M416.9,176.9L417.4,176.5L418.7,176.3L420.3,177.1L421.1,177.2L422.2,177.9L422.1,178.7L423.0,179.1L423.4,180.2L424.2,180.9L424.1,181.2L424.5,181.5L424.0,181.7L422.8,181.6L422.6,181.3L422.2,181.5L422.4,181.9L421.9,182.8L421.7,183.6L421.2,183.9M409.6,168.4L410.5,168.3L411.5,167.7L413.0,167.6L415.0,167.8L417.3,168.4L418.9,168.5L419.7,168.8L420.4,168.4L421.0,169.0L422.8,168.8L423.6,169.1L423.5,167.8L424.0,167.3L425.7,167.1M425.7,167.1L426.4,167.2L426.8,166.7L427.4,166.8L429.4,166.5L431.0,168.0L430.6,168.5L430.9,169.2L432.5,169.4L433.5,170.5L433.5,171.0L436.2,171.8L437.7,171.5L439.2,172.6L440.3,172.6L443.5,173.4L443.6,174.2L443.1,175.5L443.9,176.9L443.7,177.7L441.8,177.9L440.9,178.6L441.0,179.8M408.6,162.6L410.5,162.6L412.5,161.7L412.7,160.3L414.2,159.5L413.8,158.4M413.8,158.4L414.9,158.0L416.8,157.1M416.8,157.1L418.9,157.7L419.3,158.3L420.2,158.0L422.2,158.6L422.6,159.7L422.3,160.4L423.9,162.0L424.8,162.5L424.7,162.9L426.1,163.3L426.8,164.0L426.2,164.6L424.6,164.5L424.3,164.7L424.9,165.5L425.7,167.1M403.2,157.4L405.3,156.6L408.5,156.8L410.3,156.6L410.7,157.1L411.7,157.2L413.8,158.4M407.0,161.6L406.8,161.0L406.9,160.3L406.0,159.9L403.9,159.5M408.7,153.1L410.2,152.7L411.1,153.0L412.9,153.9L414.5,153.9M414.5,153.9L415.5,154.4L415.9,155.6L416.8,157.1M414.5,153.9L415.1,153.1L414.1,150.9L415.2,149.5L414.8,149.0M410.9,126.9L411.1,128.4L414.0,129.9L412.9,131.6L415.5,134.2L414.8,136.2L416.8,137.9L416.4,139.4L419.5,141.0L419.1,142.2L417.7,143.5L414.5,146.6M410.9,126.9L411.2,125.3L408.9,124.5L406.5,125.2L406.1,126.8L404.7,127.8L402.7,127.3L400.6,127.4L398.5,126.2L397.6,126.8M397.6,126.8L400.0,127.9L403.0,129.4L403.7,132.9L404.4,133.7L404.9,134.2M397.6,126.8L396.6,126.9L396.6,128.3L393.3,128.0L393.1,129.2L391.5,129.2L390.5,130.8L389.2,133.3L386.8,136.5L387.5,137.3L387.0,138.2L385.3,138.2L384.3,140.4L384.7,143.5L386.0,144.7L385.6,147.5L384.2,149.1L383.5,150.5M410.9,126.9L412.2,126.7L414.8,125.8L414.2,125.3M450.6,194.1L452.9,194.0L455.1,195.2M455.1,195.2L455.7,196.2L455.7,197.4L457.4,198.0L458.4,198.8M458.4,198.8L457.1,199.6L458.2,202.5L458.0,203.3L459.5,205.4M459.5,205.4L458.5,205.9L457.6,205.2L455.1,204.9L454.2,205.3M454.2,205.3L451.8,205.7L450.7,205.6L448.3,206.6L446.6,206.6L445.4,206.1L443.1,206.9L442.3,206.3L442.4,207.8L441.9,208.4L441.4,209.0M446.6,188.9L448.4,189.3L451.6,189.7L454.7,191.0L455.1,191.5L456.3,191.1L458.4,191.6L459.3,192.7L460.7,193.3M460.7,193.3L460.2,193.6L461.6,195.0L461.3,195.3L460.2,195.2L458.4,194.4M458.4,194.4L458.0,194.8L455.1,195.2M458.4,194.4L458.6,195.5L459.5,196.0L459.2,196.6L460.5,197.5L460.0,198.3L461.0,199.0L462.1,199.5L462.5,201.3M461.7,201.3L460.6,199.8L460.5,199.4L459.6,199.4L458.8,198.7L458.4,198.8M458.4,198.8L458.9,199.8L460.2,201.0L461.7,201.3L462.5,201.3M460.7,193.3L461.3,193.3L463.1,194.9L464.1,195.1L464.3,194.4L465.3,193.4M462.5,201.3L464.6,199.3L465.4,199.2L466.2,199.9L465.7,201.2L467.3,202.6L467.8,202.4M441.4,215.6L441.8,214.2L442.9,213.2L442.4,212.2L441.4,212.0M441.4,215.6L440.8,215.6L440.7,216.1L440.0,216.1M454.2,205.3L453.4,206.9L452.3,207.5L452.8,209.4L452.4,212.6L447.9,215.3M447.9,215.3L443.9,218.1L441.4,217.1M441.4,217.1L441.3,217.0L441.6,216.7L441.4,215.6M441.4,217.1L441.1,217.9L441.3,219.5L441.0,220.3L441.2,221.3L440.5,225.5M440.5,225.5L438.6,221.0M440.6,225.8L443.1,226.2L444.0,225.4L444.4,224.5L446.1,224.1L446.3,223.3L447.0,222.8L444.5,220.2L448.8,218.9L449.2,218.5M449.2,218.5L447.9,215.3M449.2,218.5L451.9,219.2L455.4,221.0L462.3,226.3L466.4,226.5M466.4,226.5L467.7,224.0L469.2,224.2M466.4,226.5L468.4,226.8L469.1,228.0L470.7,227.9M459.5,205.4L461.4,208.5L462.9,209.3L463.3,210.9L462.4,211.7L462.2,213.8L464.1,216.3L466.9,217.7L468.4,219.7L468.3,221.6L469.0,221.6L469.2,223.0L470.6,224.3M477.1,237.9L477.8,238.4L478.5,238.2M479.0,239.2L479.1,239.8L480.2,242.4L487.1,243.7L487.5,243.2M487.5,243.2L487.5,242.1L488.0,241.1L487.9,240.0L488.9,239.5L488.5,239.1L488.5,237.4L489.6,237.4M488.6,234.4L489.1,235.4M487.5,243.2L488.7,245.0L487.6,250.3L481.0,252.9M481.0,252.9L474.6,253.9L472.5,255.0L471.1,257.8L470.0,258.2L469.4,257.4L468.6,257.5L466.3,257.2L465.9,257.0L463.3,257.0L462.7,257.3L461.7,256.6L461.2,257.9L461.5,259.0L460.5,259.8M481.0,252.9L484.0,259.0M479.2,205.4L481.0,204.9L482.2,203.4L483.6,203.4L484.5,203.0L486.1,203.2L488.7,204.5L490.5,204.8L493.5,207.1L495.1,207.2L495.8,209.4M495.8,209.4L495.6,212.7L495.3,214.5L496.4,214.9L495.7,216.4L496.8,218.5L497.3,220.1L499.0,220.5L499.5,222.2L497.9,224.6M497.9,224.6L499.2,226.0L500.3,227.5L502.7,228.7L503.1,231.0L504.2,231.4L504.5,232.6L501.5,234.0L501.0,237.0M463.7,181.6L462.5,181.2L462.4,179.8L460.7,178.2L459.2,178.2L457.1,176.5L457.7,174.6L457.0,174.0L457.9,171.3L460.4,172.7L460.1,170.9L463.4,168.2L466.5,168.1L471.4,169.8L474.1,170.9L475.8,169.8L479.0,169.8L481.9,171.0L482.3,170.3L485.1,170.4L485.2,169.2L481.4,167.5L482.8,166.3L482.2,165.6L483.8,164.9L481.8,163.2L482.3,162.4L489.2,161.5L489.9,160.9L494.4,160.0L495.6,159.0L499.3,159.5L501.1,162.1L502.8,161.5L505.7,162.3L506.2,163.7L508.0,163.5L511.7,161.2L511.4,162.0L514.8,163.9L522.3,170.3L522.7,168.9L526.1,170.4L528.7,169.7L530.0,170.2L531.7,171.6L533.3,172.1L534.6,173.2L537.1,172.8L538.9,174.4M538.9,174.4L538.1,176.1L536.5,176.3L537.6,178.9L536.9,180.0L532.5,179.2L532.9,183.8L532.1,184.3L528.4,185.4L532.0,189.8L530.8,190.5L531.5,192.0M531.5,192.0L530.1,191.6L528.7,190.7L525.5,190.4L522.0,190.3L521.3,190.6L518.0,189.5L517.0,190.1L517.2,191.6L513.4,190.7L512.2,191.1L512.1,192.2M512.1,192.2L511.0,192.7L508.8,194.5L508.4,196.3L507.6,196.4L506.7,195.1L504.0,195.0L502.9,192.9L501.9,192.9L501.3,190.3L498.2,188.4L494.7,188.6L492.4,189.0L489.7,186.7L487.7,185.7L484.0,183.9L483.5,183.7L478.6,185.2L481.2,194.7M481.2,194.7L480.1,194.8L478.2,192.8L476.6,192.1L474.3,192.6L473.6,193.5M481.2,194.7L483.6,194.7L482.9,193.3L484.5,192.5L485.8,191.0L489.0,192.3L489.8,194.4L490.8,194.9L493.0,194.8L493.8,195.3L495.6,197.9L498.5,199.7L500.2,201.0L502.8,202.2L505.9,203.3L506.2,204.9M506.2,204.9L507.4,204.9L509.2,205.5M509.2,205.5L509.7,202.9L508.8,200.9L507.0,200.3L507.2,199.2L509.1,199.3L509.7,197.8L509.9,196.2L512.5,195.6L512.4,196.8L512.9,197.5L513.8,197.5M513.8,197.5L515.5,197.7L517.6,195.8L514.7,194.5L513.4,195.1L511.5,194.1L512.8,192.5L512.1,192.2M513.8,197.5L513.3,198.2L510.8,197.8L511.0,199.3L513.3,199.1L516.2,199.9L520.1,199.6M531.5,192.0L531.4,192.6L528.6,194.0L528.2,195.0L525.6,195.3L525.4,197.0L523.0,196.6L521.7,197.1L520.0,198.4L520.5,199.0L520.1,199.6M520.1,199.6L521.3,201.9L522.0,201.7L523.4,202.3L523.7,203.3L524.4,204.8M524.4,204.8L522.2,204.8L520.6,204.6L519.6,205.7L518.7,206.0L518.1,206.6L517.0,205.7L516.6,203.5L516.0,203.4L516.0,202.6L514.7,202.0L514.0,202.9L514.0,203.9L513.8,204.3L512.5,204.3L512.1,205.5L511.3,205.0L509.9,205.8L509.2,205.5M506.2,204.9L505.6,204.9L504.4,204.2L504.3,205.1L502.6,205.6L502.6,207.7L501.6,208.5L499.9,208.8L499.7,210.0L498.2,210.4L495.8,209.4M524.4,204.8L525.0,205.5L523.8,205.8M523.8,205.8L522.8,206.3L520.4,206.6L518.3,207.2L517.3,208.3L518.1,209.4L518.6,210.7L517.8,211.8L518.2,212.8L517.8,213.7L515.7,213.6L516.9,215.4L515.7,216.0L515.1,217.6L515.6,219.2L514.8,219.9L514.0,219.7L512.4,220.0L512.3,220.8L510.6,220.8L509.7,222.2L510.0,224.4L507.3,225.5L505.7,225.3L505.4,225.9L504.0,225.5L501.8,225.9L497.9,224.6M523.8,205.8L526.9,206.7L528.1,208.7L532.0,209.8M532.0,209.8L530.4,212.0L528.1,212.4L524.6,211.7L523.8,212.9L525.2,215.2L526.3,216.9L528.4,218.2L526.9,219.7L527.3,221.6L525.7,224.2L524.8,226.9L523.0,229.6L520.3,229.4L518.3,232.1L520.0,233.3L520.5,235.3L521.9,236.6L522.7,238.9L517.7,238.9L516.5,240.6M532.0,209.8L535.1,212.9L535.4,215.0L536.6,216.3L536.9,217.7L535.2,217.3L536.5,220.2L539.1,221.9L542.5,223.7M542.5,223.7L541.4,224.9L541.0,227.3L543.4,228.3L545.7,229.6L548.9,231.0L552.1,231.4L553.6,232.7L555.3,233.0L558.2,233.6L560.0,233.5L560.1,232.5L559.4,230.8L559.4,229.7M542.5,223.7L543.3,223.1L545.3,223.8L547.9,225.6L549.2,225.9L550.2,227.2L552.1,227.7L554.1,228.9L556.7,229.5L559.4,229.7M559.4,229.7L560.6,229.1L561.2,231.2M561.2,231.2L561.4,231.7L563.6,232.7L564.9,232.3L566.9,232.5L568.7,232.4L568.5,230.8L567.4,230.0M561.2,231.2L562.3,229.3L563.4,228.6L565.1,229.2L566.3,229.3L567.4,230.0M567.4,230.0L569.1,229.6L570.7,227.7L572.9,226.0L574.9,226.7L576.2,225.6L577.7,227.2L577.2,228.3L579.7,228.7M579.7,228.7L580.1,229.7L579.4,230.2L579.9,231.8L578.2,231.3L575.7,233.1L576.1,234.6L575.3,236.8L575.4,238.0L574.8,240.2L572.9,239.6L573.3,242.3L572.9,243.2L573.3,244.3L572.2,244.9M572.2,244.9L570.5,240.8L569.8,240.8L569.7,242.5L568.3,241.1L568.7,239.6L569.7,239.5L570.4,237.3L569.0,236.8L566.9,236.9L564.7,236.5L564.2,234.7L563.1,234.6L561.1,233.4L560.7,235.2L562.5,236.6L561.3,237.5L560.9,238.5L562.4,239.2L562.3,240.8L563.4,242.7L564.0,244.9M572.2,244.9L572.5,246.8L571.6,246.4L572.1,248.5M579.7,228.7L580.9,228.5L582.0,230.0L583.1,230.7L583.7,232.7L584.0,234.8L582.3,237.0L582.6,240.1L584.9,239.7L585.9,242.1L587.4,242.6L587.1,244.7L588.9,245.7L589.9,246.2L591.5,245.4L591.7,246.5M591.7,246.5L590.0,248.2L589.7,249.2M589.7,249.2L588.5,249.8L587.3,250.9L585.7,251.0L585.1,253.8L584.2,254.3L585.7,256.6L587.4,258.5L588.5,260.2L588.0,262.5L587.2,263.0L587.9,264.3L589.7,266.4L590.1,267.8L590.2,269.1L591.3,271.4L590.2,273.9L589.3,276.6M589.7,249.2L590.8,250.0L591.2,251.5L592.7,251.7L592.6,254.4L593.0,256.8L595.1,255.2L595.9,255.7L597.2,255.6L597.5,254.7L599.3,254.9L601.3,257.0L601.8,259.6L604.0,261.8L604.1,264.1L603.5,265.2M603.5,265.2L601.4,264.8L598.5,265.3L597.2,267.5L598.1,270.7M593.4,285.6L593.8,285.2L595.7,286.3L596.0,287.6L597.5,287.3L598.2,286.3M591.7,246.5L592.0,247.1L593.2,247.2L592.4,244.2L593.5,243.8M593.5,243.8L595.2,245.9L596.5,248.3L599.4,248.3L600.6,250.6L599.2,251.3L598.7,252.2L601.7,253.7L604.1,256.8L605.8,259.1L607.8,260.9L608.6,262.8L608.5,265.4M608.5,265.4L606.4,264.4L605.5,266.2L603.5,265.2M608.5,265.4L609.2,267.1L609.3,270.3L605.6,272.3L606.8,273.9L604.4,274.1L602.5,275.1M593.5,243.8L594.6,243.2L596.4,243.2L598.6,242.9L600.3,241.5L601.5,242.5L603.7,243.0L603.6,244.5L604.8,245.5L607.2,246.2M539.6,174.2L541.5,173.8L544.2,171.6L546.6,170.4L548.8,171.2L550.9,171.2L552.8,172.4L554.9,172.5L558.1,173.1L559.1,171.4L557.5,169.9L558.0,167.3L560.8,168.3L562.8,168.6L565.5,169.2L567.0,171.1L570.5,172.2L572.1,171.7L574.4,171.4L576.6,171.7L579.3,173.0L581.3,174.2L583.1,174.2L585.9,174.6L587.4,174.0L589.8,173.6L591.6,171.8L593.0,172.1L594.6,172.9L596.8,172.7M596.8,172.7L597.1,174.6L597.2,177.1L598.3,178.2L599.3,177.9L601.5,178.3L602.5,177.3L604.6,178.1L607.5,179.9L607.9,180.8L606.1,180.5L603.3,180.9L602.3,181.6L601.8,183.3L599.2,184.3L597.9,185.7L595.5,185.1L594.2,184.9L594.0,186.5L595.2,187.6L595.9,188.4L594.9,189.3L594.1,190.6L592.2,191.5L589.1,191.7L586.1,192.6L584.3,193.9L583.0,193.1L580.5,193.1L576.6,191.6L574.4,191.2L571.8,191.5L567.2,191.0L564.9,191.0L563.0,189.5L561.0,187.1L559.5,186.8L556.3,185.2L553.4,184.9L550.7,184.4L549.5,183.3L548.9,180.3L546.6,178.3L543.2,177.3L540.9,176.0L539.6,174.2M538.9,174.4L539.6,174.2M596.8,172.7L599.8,173.7L601.6,172.1L600.8,171.0L600.8,168.3L601.3,167.5L600.3,166.1L598.8,165.5L599.4,164.3L601.5,163.8L604.1,163.7L607.6,164.5L610.0,165.4L613.1,167.9L614.7,169.0L616.5,170.6L619.0,173.0L623.1,173.8L626.7,175.6L629.2,178.0L632.3,178.0L633.4,177.0L636.2,176.3L636.7,178.6L636.6,179.5L637.7,182.3L638.0,184.8L635.2,184.3L634.0,185.2L635.9,187.4L637.5,190.5L636.4,190.6L637.2,191.9M637.2,191.9L635.0,190.3L635.0,191.8L632.4,192.9L633.5,194.3L631.6,194.2L630.2,193.4L629.7,195.2L628.2,196.6L627.3,198.3M637.2,191.9L637.8,192.3M637.8,201.7L636.9,202.5L635.5,202.6L635.2,203.8L634.2,203.7L634.2,203.9" fill="none" stroke="#6b6b6b" stroke-width="0.50" stroke-opacity="0.90" stroke-linejoin="round"/>
<path d="M424.5,195.0L422.2,193.9L421.9,192.9L420.7,191.6L421.3,189.8L422.6,188.5L422.4,187.2L423.2,185.7L424.2,185.2L424.1,184.4L424.7,183.1L425.9,181.3L428.0,181.8L427.5,180.8L429.8,182.3L431.4,182.3L432.1,183.0L430.1,184.4L431.3,185.4L432.5,186.4L433.5,186.7L435.8,185.4L438.0,184.9L438.2,184.1L436.2,184.1L435.1,183.4L434.7,182.3L435.4,181.6L436.3,181.1L438.3,180.8L439.4,180.0L441.0,179.8L442.7,179.3L442.9,180.0L441.4,180.8L441.4,182.1L440.7,182.9L440.7,183.6L440.1,184.1L438.9,184.1L438.8,184.8L440.7,185.9L443.3,187.0L444.4,188.0L445.9,189.3L446.5,189.3L447.3,190.1L448.8,190.6L449.9,191.2L450.7,193.0L450.6,194.1L448.5,195.5L447.0,195.5L444.0,195.6L440.9,194.7L437.1,192.9L433.5,192.9L431.1,193.7L428.7,195.2L426.4,195.0Z" fill="#fff" stroke="#6b6b6b" stroke-width="0.50" stroke-opacity="0.90"/>
<path d="M463.7,181.6L463.1,183.1L461.2,183.5L459.7,186.2L462.2,188.6L462.4,190.3L465.3,193.4L466.7,194.7L468.2,196.6L469.2,196.7L470.0,197.4L468.3,197.6L468.3,199.6L468.1,200.5L467.5,201.1L467.8,202.4L468.8,204.4L471.0,204.9L472.7,206.2L475.8,206.7L479.1,206.0L479.2,205.4L478.4,203.5L478.2,200.8L476.3,199.9L476.5,198.1L475.0,198.0L475.0,195.8L477.1,196.4L478.8,195.6L476.9,194.1L475.9,192.6L474.4,193.2L474.6,195.1L473.6,193.5L473.3,192.8L473.6,191.8L473.0,190.9L470.3,190.0L468.8,187.7L467.5,187.0L467.3,186.2L469.3,186.4L468.9,184.5L470.6,184.1L472.5,184.5L472.2,182.0L471.4,180.4L469.4,180.6L467.5,179.9L465.4,181.0Z" fill="#fff" stroke="#6b6b6b" stroke-width="0.50" stroke-opacity="0.90"/>
</g>
<path d="M438.4,220.8L439.0,220.0L439.5,218.7L439.8,216.8L439.9,216.0L440.5,214.0L441.2,212.1L440.9,210.0L441.0,208.7L441.2,206.9L439.9,206.9L437.9,206.4L436.5,207.7L434.0,208.5L432.2,207.2L429.2,206.1L428.8,207.7L427.3,208.2L425.0,206.7L422.6,206.7L421.9,205.9L421.7,204.3L419.4,202.8L420.3,200.9L418.8,199.4L418.7,198.1L419.7,197.0L418.1,196.5L418.1,196.0L416.8,195.7L414.6,195.7L413.7,197.3L414.9,197.8L412.5,198.1L411.6,196.8L411.1,198.1L412.7,200.2L412.0,200.9L414.5,202.8L414.6,204.1L413.3,203.5L412.7,204.6L413.1,207.2L411.6,207.4L409.8,206.4L408.3,203.8L408.7,202.5L411.9,203.0L412.1,202.5L408.6,202.1L407.3,200.9L406.1,199.6L405.6,198.9L404.2,197.3L403.9,194.4L403.8,193.2L402.7,192.1L401.8,191.6L399.8,190.6L396.4,189.0L394.6,187.2L393.8,185.2L392.5,184.4L391.8,185.7L391.0,183.9L390.0,183.4L388.4,184.1L388.7,185.4L388.8,187.2L391.1,188.8L392.3,191.1L393.9,192.6L397.1,193.2L396.5,194.2L399.0,195.5L401.2,196.5L402.3,197.8L401.9,198.6L399.1,196.8L398.3,197.8L398.4,199.1L399.5,200.7L398.3,201.4L397.6,203.5L396.7,203.3L396.8,201.4L397.6,200.2L396.2,198.1L394.9,197.6L394.4,196.5L393.1,196.0L391.7,195.0L389.6,194.2L388.7,193.4L386.3,191.9L385.0,190.6L384.5,189.0L383.8,187.7L381.5,186.7L379.9,188.0L378.6,188.2L376.8,189.8L374.3,189.5L372.6,189.3L371.1,189.0L369.5,190.1L369.5,191.9L369.7,193.2L367.6,194.4L364.9,195.5L364.5,196.5L362.4,199.4L363.4,201.2L361.9,202.5L361.5,204.3L358.9,206.1L358.2,206.7L355.4,206.7L353.5,206.7L351.5,208.2L350.9,208.5L349.4,206.9L349.2,206.1L347.9,205.4L347.1,205.4L345.7,205.9L343.8,205.9L344.1,203.5L344.1,202.2L342.7,201.2L343.2,199.6L344.1,197.6L344.6,195.0L344.3,193.2L344.3,191.6L343.5,190.3L345.7,189.0L346.5,188.2L348.4,188.8L351.1,188.8L353.6,189.3L355.1,189.0L356.7,189.3L359.2,189.3L359.9,189.0L360.5,185.9L360.7,183.6L360.5,182.1L358.9,180.6L358.5,179.5L357.3,178.8L354.7,178.0L353.5,177.5L353.3,176.5L355.7,175.5L357.5,176.0L359.2,175.7L359.8,175.7L359.8,173.4L360.6,173.9L363.2,173.7L365.0,172.7L366.2,171.7L366.2,170.2L368.0,169.6L369.7,168.9L370.9,167.6L371.8,166.1L372.4,164.9L373.7,164.1L376.5,163.9L377.0,163.1L378.8,163.4L379.7,162.7L380.3,162.2L379.8,160.2L379.0,159.7L378.5,158.5L378.4,156.0L379.3,154.8L381.6,153.6L382.9,153.3L382.7,154.5L382.6,156.0L383.7,156.5L382.5,157.7L381.6,158.7L381.5,159.9L382.1,160.4L382.3,161.2L384.1,161.4L384.0,162.4L386.5,161.9L387.2,161.2L388.9,160.9L389.8,162.2L390.8,162.7L394.4,161.7L395.8,160.7L398.3,160.4L399.2,161.4L400.9,161.4L401.4,160.2L403.6,159.4L403.2,158.0L402.8,155.5L403.7,153.8L405.5,153.3L406.9,155.0L408.6,154.8L408.8,152.8L408.6,151.6L406.8,150.9L406.6,149.7L408.9,149.0L412.8,149.0L414.8,149.0L414.9,148.3L416.6,147.8L418.7,148.0L416.3,147.3L415.3,146.1L414.0,146.6L411.3,146.8L409.0,147.3L405.4,148.0L403.9,146.8L401.9,145.4L401.8,143.7L400.9,141.6L401.4,140.2L402.8,138.8L406.3,136.3L407.5,135.8L407.1,134.9L404.9,134.2L401.6,134.4L400.2,136.3L400.7,137.4L399.6,138.8L397.4,139.7L394.9,141.4L394.5,143.3L394.1,144.7L394.7,146.1L397.2,147.5L397.8,148.7L396.3,150.4L394.4,151.1L394.1,155.0L393.3,157.2L391.0,157.0L390.1,158.9L387.8,158.9L387.0,156.7L385.3,154.1L383.5,150.4L382.3,149.0L382.3,150.2L379.8,151.6L378.7,151.9L376.1,152.4L373.6,151.1L372.8,148.5L372.1,145.4L373.6,141.6L378.3,139.5L381.5,137.2L384.5,134.0L388.2,129.7L390.6,127.9L394.9,125.3L398.3,124.2L401.0,124.4L403.1,122.7L406.2,122.7L409.1,122.2L414.6,123.9L412.6,124.4L414.8,125.7L416.3,125.1L419.5,126.4L424.2,126.8L431.5,129.5L433.1,130.4L433.7,131.9L432.1,133.1L429.6,133.8L421.3,131.9L420.2,132.4L423.4,134.0L424.6,137.4L427.0,138.1L428.6,138.7L428.5,137.7L427.1,136.5L428.1,135.8L432.8,137.2L434.0,136.5L432.4,134.9L435.6,132.6L437.3,132.9L439.0,133.5L439.5,131.9L437.6,130.6L438.0,129.3L436.3,127.9L441.3,128.7L442.7,129.9L440.6,130.1L441.2,131.5L442.7,132.2L445.3,131.7L445.1,130.4L448.2,129.3L453.2,127.3L454.6,127.5L453.6,128.8L455.7,129.0L456.6,128.4L459.7,128.1L461.8,127.3L464.3,128.6L465.6,127.3L463.1,125.9L463.6,125.2L468.9,125.9L471.6,126.6L479.1,129.0L479.6,127.9L477.3,126.8L476.7,126.2L474.6,125.9L474.7,125.1L472.6,123.3L472.2,122.7L473.9,120.7L473.8,118.8L474.6,118.4L479.2,118.8L480.4,120.1L480.0,121.8L481.6,122.5L483.1,124.0L484.8,127.0L487.5,128.4L487.6,129.9L486.3,133.1L488.3,133.3L488.6,132.6L490.1,131.9L489.9,130.8L490.6,129.7L489.0,128.6L488.6,127.0L486.7,126.8L485.6,125.7L485.5,123.5L482.1,121.8L484.0,120.3L482.6,118.8L483.2,118.6L485.0,119.9L485.9,122.0L487.8,122.2L485.9,120.7L488.0,119.9L491.4,119.9L495.2,121.1L492.4,119.3L490.5,117.2L492.8,116.6L496.8,116.7L499.9,116.5L497.5,115.3L498.2,114.1L499.9,114.1L502.0,113.1L505.6,112.7L505.5,112.2L509.5,112.1L511.2,112.5L513.4,111.5L516.3,111.5L515.4,110.5L515.9,109.7L518.4,108.9L521.7,109.5L520.4,110.1L524.2,110.3L525.7,111.3L526.7,110.9L531.1,110.9L535.8,111.9L538.0,112.6L539.1,113.7L538.2,114.3L535.4,115.3L534.8,115.9L537.2,116.3L540.1,116.7L541.0,116.4L543.5,117.8L543.5,117.2L545.7,116.8L551.2,117.2L552.7,118.2L559.8,118.5L558.0,117.0L561.7,117.2L564.2,117.2L568.3,118.4L570.7,119.7L570.8,120.5L574.9,122.2L578.6,123.1L577.4,121.0L581.2,121.8L583.3,121.3L587.2,121.9L587.7,121.4L590.7,121.6L586.8,119.7L587.8,118.7L604.2,120.1L607.5,121.4L614.1,123.1L620.1,122.7L623.7,122.9L626.5,123.9L628.7,125.5L631.7,126.2L633.4,125.7L635.9,125.5L639.7,125.9L642.5,125.7L648.5,127.7L649.5,127.0L646.0,125.6L645.2,124.6L651.5,125.3L654.6,125.1L661.2,126.2L665.1,127.1L678.5,136.1L677.8,137.2L675.2,137.0L678.5,138.1L682.3,140.1L684.1,140.7L685.6,141.7L685.9,142.3L682.0,141.9L679.2,143.5L678.0,143.9L677.3,145.5L676.6,147.1L677.1,148.0L672.4,146.3L670.0,148.3L667.9,147.3L667.7,148.5L664.5,148.0L665.9,149.7L666.5,152.1L667.7,153.1L670.4,153.6L673.9,157.0L672.4,157.2L673.7,159.2L675.7,160.3L673.8,161.7L675.8,164.4L673.3,164.9L675.4,167.6L674.7,169.9L672.3,168.1L668.0,164.5L661.4,158.9L658.7,155.5L658.8,154.1L657.8,153.1L660.1,152.4L660.0,149.5L660.4,147.1L661.5,145.2L658.7,141.7L656.7,141.9L658.1,144.0L656.6,146.6L651.5,143.6L647.9,144.4L647.7,148.4L651.1,149.9L647.4,150.4L644.9,150.7L643.1,149.0L639.9,148.6L638.8,149.8L632.8,149.5L627.4,150.1L625.9,154.8L623.9,160.7L627.2,160.9L629.5,162.5L631.9,163.0L632.0,161.8L634.3,161.9L639.5,164.7L641.4,166.8L642.0,169.3L644.2,172.3L646.4,176.3L646.0,180.0L646.5,181.8L645.7,184.8L644.8,187.8L644.5,189.3L642.6,190.8L641.3,190.8L639.3,189.6L637.6,191.5L637.8,192.3L636.9,192.2L636.5,193.0L636.4,193.9L637.5,195.8L636.8,196.4L636.6,196.8L636.2,197.6L635.1,198.1L634.4,198.7L635.0,199.9L636.0,200.5L637.8,201.7L641.1,204.8L642.5,206.4L643.8,209.4L643.7,210.9L641.9,211.4L640.7,212.4L638.8,212.7L637.9,211.3L637.5,209.3L635.3,206.6L636.7,206.2L634.2,203.9L632.9,203.4L632.4,204.1L631.4,203.4L630.6,203.0L630.6,201.8L631.0,201.5L630.6,201.1L630.4,199.7L630.1,199.2L628.7,199.0L627.3,198.3L624.7,199.0L623.7,200.2L621.8,200.9L622.3,199.7L621.4,198.7L622.2,197.0L620.4,195.6L619.0,196.5L617.5,198.3L617.0,200.0L615.0,200.2L614.4,201.3L616.4,203.1L618.3,203.5L618.9,204.7L621.0,205.5L622.5,203.6L624.9,204.6L626.3,204.7L627.3,206.1L624.6,206.8L624.2,208.2L622.6,209.5L622.2,211.3L625.2,212.8L627.0,215.3L629.3,217.7L631.5,219.7L632.1,221.7L631.0,222.4L632.0,223.8L633.5,224.6L633.9,226.7L633.9,228.8L632.8,229.0L631.9,231.9L631.0,235.3L629.6,238.4L627.0,240.8L624.3,243.0L621.8,243.3L620.7,244.5L619.7,243.6L618.7,244.9L615.8,246.2L613.4,246.6L613.1,249.4L611.9,249.5L611.0,247.6L611.3,246.6L608.2,245.8L607.2,246.2L604.5,248.4L603.0,250.9L602.8,252.7L605.0,255.5L607.6,258.9L609.9,260.5L611.6,262.6L613.2,267.4L613.4,272.0L611.6,273.7L609.1,275.4L607.5,277.6L604.8,280.0L603.8,278.4L604.3,276.6L602.5,275.1L600.5,274.7L599.5,273.4L598.1,270.7L595.9,269.5L594.0,269.5L594.1,267.5L592.1,267.5L592.2,270.4L591.3,274.2L590.7,276.5L591.0,278.4L592.5,278.4L593.6,280.8L594.1,283.1L595.5,284.6L596.9,284.9L598.2,286.3L598.7,286.5L600.1,288.1L601.2,289.8L601.4,291.6L601.2,292.8L601.4,293.7L601.7,295.2L602.5,295.9L603.5,298.2L603.4,299.1L601.8,299.3L599.6,297.4L596.8,295.3L596.5,294.0L595.1,292.2L594.7,290.0L593.8,288.6L594.0,286.7L593.4,285.6L592.4,284.6L592.0,283.3L590.7,281.8L589.5,280.6L589.2,282.2L588.7,280.7L588.8,279.1L589.3,276.6L589.0,274.6L589.5,272.6L588.6,271.1L588.5,268.2L587.4,266.9L586.4,263.7L585.6,260.5L584.3,258.3L583.0,259.6L580.6,261.5L579.3,261.2L577.8,260.6L578.2,257.4L577.4,254.9L575.2,251.9L575.3,251.0L574.0,250.6L572.1,248.5L571.2,247.2L570.9,245.8L570.3,244.6L569.2,243.0L567.1,243.0L567.4,244.0L566.9,245.5L565.9,244.9L565.6,245.4L564.9,245.1L564.0,244.9L563.8,245.9L562.3,245.8L559.6,246.3L560.0,248.3L559.0,249.9L555.9,251.6L553.8,254.7L552.3,256.4L550.2,258.0L550.3,259.3L549.2,259.9L547.3,260.8L546.2,261.0L545.8,263.0L546.5,266.4L546.8,268.5L546.0,271.0L546.3,275.4L545.2,275.6L544.2,277.6L545.0,278.4L542.9,279.2L542.2,281.0L541.3,281.7L539.0,279.3L537.8,275.6L536.7,273.0L535.9,271.7L534.5,269.2L533.7,266.0L533.1,264.3L530.7,260.7L529.3,255.7L528.2,252.3L527.9,249.2L527.2,246.7L524.1,248.3L522.4,248.0L519.1,244.8L520.1,243.9L519.4,242.8L516.5,240.6L514.7,240.0L513.9,238.1L511.8,236.1L507.8,236.6L504.1,236.6L501.0,237.0L496.7,236.2L494.2,235.6L491.6,235.3L490.3,232.1L489.1,231.6L487.5,232.1L485.4,233.3L482.5,232.5L480.1,230.5L477.8,229.7L476.0,227.3L474.0,223.8L472.8,224.2L471.3,223.3L470.6,224.3L469.2,224.2L469.9,225.4L469.7,226.0L470.7,227.9L471.8,230.2L473.0,230.8L473.5,231.7L475.1,232.8L475.4,233.9L475.2,234.8L475.6,235.6L476.3,236.3L476.7,237.2L477.1,237.9L476.8,236.0L477.2,234.6L477.8,234.3L478.6,235.1L478.8,236.6L478.5,238.2L479.0,239.2L479.4,239.1L481.2,239.3L483.1,239.4L484.5,239.5L485.8,237.7L487.3,236.1L488.6,234.4L489.2,233.6L489.1,235.4L489.6,237.4L490.8,239.2L492.2,240.1L493.9,240.5L495.2,240.9L496.4,242.5L497.1,243.3L497.9,243.7L498.0,244.2L497.3,245.8L497.0,246.5L496.1,247.4L495.4,249.1L494.4,249.0L494.0,249.6L493.7,250.9L494.2,252.7L494.0,253.0L492.9,253.0L491.6,254.0L491.5,255.3L491.0,255.8L489.6,255.8L488.7,256.5L488.8,257.5L487.8,258.2L486.5,258.0L485.1,258.9L484.0,259.0L482.4,259.7L482.0,260.9L482.1,261.8L479.8,262.9L476.3,264.1L474.3,265.9L473.3,266.1L472.6,265.9L471.3,267.0L469.9,267.5L468.0,267.6L467.4,267.8L467.0,268.5L466.4,268.7L466.0,269.3L464.9,269.3L464.2,269.6L462.6,269.5L461.9,268.0L461.9,266.5L461.5,265.8L461.0,263.8L460.3,262.8L460.7,262.6L460.4,261.4L460.7,260.9L460.5,259.8L460.2,258.7L459.4,257.9L459.2,256.9L458.0,255.9L456.6,253.7L455.9,251.6L454.2,249.8L453.1,249.4L451.5,246.9L451.1,245.1L451.1,243.5L449.6,240.6L448.5,239.6L447.3,239.1L446.4,237.6L446.5,237.0L445.8,235.6L445.1,235.0L444.1,233.1L442.5,231.0L441.3,229.2L440.1,229.2L440.4,227.8L440.4,226.9L440.6,225.8L440.5,225.5L438.6,221.0Z" fill="none" stroke="#6b6b6b" stroke-width="0.50" stroke-opacity="0.90"/>
<path d="M357.4,151.0L355.3,153.7L357.2,153.3L359.3,153.4L358.8,155.3L357.0,157.5L359.0,157.7L359.2,158.0L360.9,160.9L362.2,161.3L363.4,164.1L363.9,165.1L366.3,165.5L366.1,167.1L365.1,167.9L365.9,169.2L364.1,170.5L361.4,170.5L358.0,171.2L357.1,170.7L355.8,171.8L353.9,171.6L352.5,172.5L351.4,172.0L354.4,169.4L356.2,168.8L353.1,168.4L352.6,167.4L354.7,166.6L353.6,165.3L354.1,163.6L357.0,163.9L357.3,162.5L356.0,160.9L353.7,160.4L353.2,159.8L353.9,158.7L353.3,158.0L352.3,159.2L352.3,156.8L351.3,155.5L352.1,153.0L353.7,151.1L355.1,151.3Z" fill="#bd0026" stroke="#6b6b6b" stroke-width="0.50" stroke-opacity="0.90"/>
<g clip-path="url(#c_Ireland)">
<path d="M350.9,162.7L351.2,164.5L349.6,166.7L346.1,168.2L343.3,167.8L345.0,165.2L344.2,162.7L346.9,160.8L348.4,159.6L350.1,159.5L352.1,161.0Z" fill="#bd0026"/>
<path d="M352.5,161.9L350.8,162.2L349.5,162.2L348.7,162.1L348.3,162.3L347.2,161.3L347.7,160.8L348.4,160.7L348.9,159.7L349.6,158.7L353.4,158.7Z" fill="#bd0026" stroke="#6b6b6b" stroke-width="0.50" stroke-opacity="0.90"/>
</g>
<path d="M350.9,162.7L351.2,164.5L349.6,166.7L346.1,168.2L343.3,167.8L345.0,165.2L344.2,162.7L346.9,160.8L348.4,159.6L350.1,159.5L352.1,161.0Z" fill="none" stroke="#6b6b6b" stroke-width="0.50" stroke-opacity="0.90"/>
<path d="M384.8,105.2L385.2,104.6L387.3,104.6L389.3,105.2L394.4,106.5L390.9,107.3L390.4,108.6L389.2,109.0L388.9,110.7L387.0,110.7L383.6,109.5L384.8,108.8L382.5,108.3L379.4,106.7L378.1,105.3L381.9,104.6L382.8,105.2Z" fill="#e31a1c" stroke="#6b6b6b" stroke-width="0.50" stroke-opacity="0.90"/>
<path d="M389.5,104.9L387.8,104.1L392.0,103.6L395.5,103.5L399.2,103.9L402.3,104.5L400.4,105.5L396.3,105.7L392.0,105.4L391.6,104.9Z" fill="#e31a1c" stroke="#6b6b6b" stroke-width="0.50" stroke-opacity="0.90"/>
<path d="M394.9,108.5L397.5,108.4L399.7,108.6L396.6,109.4L393.8,108.9Z" fill="#e31a1c" stroke="#6b6b6b" stroke-width="0.50" stroke-opacity="0.90"/>
<path d="M446.2,120.5L447.6,120.0L447.0,118.9L449.2,117.1L447.6,116.8L450.3,115.0L449.3,114.1L452.1,113.1L456.2,111.8L461.0,111.4L463.0,110.7L465.7,110.4L467.5,111.2L466.9,111.8L462.3,112.8L458.3,113.8L454.7,115.7L453.6,117.7L452.2,119.7L453.5,121.5L457.6,123.3L456.7,123.5L451.2,123.2L450.2,122.2L447.0,121.7Z" fill="#e31a1c" stroke="#6b6b6b" stroke-width="0.50" stroke-opacity="0.90"/>
<path d="M508.9,106.7L506.0,106.9L501.3,106.4L498.0,105.7L495.4,104.4L493.0,104.1L495.2,102.9L497.7,102.5L501.6,103.4L507.1,105.0Z" fill="#e31a1c" stroke="#6b6b6b" stroke-width="0.50" stroke-opacity="0.90"/>
<path d="M517.9,107.7L510.5,108.5L510.0,106.0L510.9,105.8L512.2,105.9L517.3,107.0Z" fill="#e31a1c" stroke="#6b6b6b" stroke-width="0.50" stroke-opacity="0.90"/>
<path d="M426.6,103.6L429.2,103.3L431.4,103.3L433.6,103.1L436.0,103.4L433.9,104.0L432.9,104.3L431.2,104.6L429.4,104.2Z" fill="#e31a1c" stroke="#6b6b6b" stroke-width="0.50" stroke-opacity="0.90"/>
<path d="M575.0,112.0L579.2,112.1L586.5,113.2L587.7,114.7L581.9,114.6L580.0,115.1L574.9,113.8L573.6,112.4Z" fill="#e31a1c" stroke="#6b6b6b" stroke-width="0.50" stroke-opacity="0.90"/>
<path d="M588.6,113.3L592.0,113.6L596.8,114.1L596.4,114.9L593.6,114.7L589.4,113.9Z" fill="#e31a1c" stroke="#6b6b6b" stroke-width="0.50" stroke-opacity="0.90"/>
<path d="M585.2,117.6L585.5,116.8L587.2,116.6L590.6,117.4L591.6,118.0L589.2,118.0L585.6,117.7Z" fill="#e31a1c" stroke="#6b6b6b" stroke-width="0.50" stroke-opacity="0.90"/>
<path d="M658.4,123.0L656.8,123.1L655.4,122.5L655.9,121.6Z" fill="#e31a1c" stroke="#6b6b6b" stroke-width="0.50" stroke-opacity="0.90"/>
<path d="M70.1,121.6L70.5,121.5L73.1,122.1L72.5,122.4L69.9,122.9L67.6,123.0Z" fill="#e31a1c" stroke="#6b6b6b" stroke-width="0.50" stroke-opacity="0.90"/>
<path d="M60.9,127.1L62.4,128.8L63.6,131.0L61.4,132.4L61.8,133.0L63.7,131.4L67.9,131.7L68.3,133.8L65.2,134.8L62.0,135.0L58.8,137.3L57.5,137.8L55.9,137.7L55.7,136.9L54.3,136.2L55.3,135.2L54.1,134.9L51.7,135.2L51.9,134.4L53.5,133.5L50.6,134.1L49.8,135.1L47.5,136.1Z" fill="#e31a1c" stroke="#6b6b6b" stroke-width="0.50" stroke-opacity="0.90"/>
<path d="M649.1,170.5L654.7,175.0L651.0,174.2L652.6,177.8L656.4,180.5L657.7,182.2L655.0,180.7L655.1,182.7L653.2,180.5L651.6,178.1L649.4,175.3L648.4,173.4L645.7,170.0L642.5,167.5L639.7,164.1L640.5,163.0L638.7,161.8L639.2,161.5L641.2,163.1L644.1,165.5L646.1,168.0Z" fill="#e31a1c" stroke="#6b6b6b" stroke-width="0.50" stroke-opacity="0.90"/>
<path d="M666.8,205.5L667.1,207.6L668.1,208.9L667.9,210.7L665.7,212.0L661.9,212.1L660.1,215.1L658.2,214.1L657.3,212.1L653.7,212.7L651.7,214.0L649.1,214.0L652.2,215.9L652.5,220.4L651.5,221.5L650.0,220.4L649.7,218.1L647.9,217.3L646.3,215.5L648.1,214.7L648.5,213.1L650.1,211.7L650.9,210.0L654.9,209.2L657.4,209.7L657.4,205.1L659.5,206.3L661.3,203.7L662.0,202.7L661.6,199.5L659.6,196.6L659.5,195.0L661.4,194.5L664.7,198.1L665.9,200.2L665.4,202.8Z" fill="#fd8d3c" stroke="#6b6b6b" stroke-width="0.50" stroke-opacity="0.90"/>
<path d="M655.0,212.8L656.8,213.3L657.5,214.2L656.9,215.8L655.7,215.0L654.8,215.6L654.9,217.1L653.1,216.3L652.6,215.1L653.2,213.5L654.6,213.9Z" fill="#fd8d3c" stroke="#6b6b6b" stroke-width="0.50" stroke-opacity="0.90"/>
<path d="M662.0,187.3L663.8,187.8L664.6,186.8L667.0,189.6L664.4,190.3L664.2,192.9L659.8,191.1L660.5,194.0L658.1,194.0L656.2,191.4L656.0,189.5L658.1,189.3L656.3,185.8L655.6,183.8L659.8,186.4Z" fill="#fd8d3c" stroke="#6b6b6b" stroke-width="0.50" stroke-opacity="0.90"/>
<path d="M636.7,238.8L636.3,243.0L635.7,245.1L634.1,242.9L633.4,241.0L634.2,238.4L635.6,236.4L636.8,237.2Z" fill="#e31a1c" stroke="#6b6b6b" stroke-width="0.50" stroke-opacity="0.90"/>
<path d="M613.6,253.7L611.8,255.0L609.9,254.2L609.4,251.9L610.3,250.7L612.7,250.0L614.0,250.1L614.7,251.0L613.9,252.2Z" fill="#fc4e2a" stroke="#6b6b6b" stroke-width="0.50" stroke-opacity="0.90"/>
<path d="M551.2,282.9L550.9,285.6L550.0,286.3L548.0,286.9L546.8,284.8L546.3,281.1L547.1,276.9L548.8,278.3L549.9,280.1Z" fill="#fed976" stroke="#6b6b6b" stroke-width="0.50" stroke-opacity="0.90"/>
<path d="M638.6,254.2L640.2,254.9L640.7,254.2L641.1,254.9L640.9,256.0L642.0,257.9L641.7,260.0L640.5,260.9L640.5,263.0L641.3,265.1L642.5,265.4L643.5,265.0L646.5,266.5L646.5,267.9L647.3,268.5L647.2,269.7L645.3,268.5L644.3,267.1L643.8,268.1L642.1,266.5L640.1,266.9L638.9,266.3L638.9,265.2L639.5,264.6L638.7,264.0L638.6,264.9L637.3,263.4L636.7,262.3L636.3,259.8L637.3,260.6L636.9,256.5L637.2,254.2Z" fill="#fed976" stroke="#6b6b6b" stroke-width="0.50" stroke-opacity="0.90"/>
<path d="M653.6,280.5L653.9,282.3L654.2,283.7L653.6,286.1L652.5,283.5L651.5,284.8L652.4,286.7L651.8,287.9L649.0,286.4L648.3,284.5L648.9,283.3L647.3,282.1L646.7,283.1L645.6,283.0L644.0,284.5L643.6,283.7L644.3,281.5L645.7,280.8L646.9,279.8L647.8,281.0L649.5,280.3L649.7,279.1L651.4,279.0L651.1,277.0L653.0,278.2L653.3,279.6Z" fill="#fed976" stroke="#6b6b6b" stroke-width="0.50" stroke-opacity="0.90"/>
<path d="M637.1,272.8L637.7,274.9L636.3,276.4L635.3,278.2L632.4,280.6L633.4,278.8L635.0,277.2L636.2,275.4Z" fill="#fed976" stroke="#6b6b6b" stroke-width="0.50" stroke-opacity="0.90"/>
<path d="M650.6,270.7L651.6,273.6L649.7,273.0L649.9,273.8L650.6,275.4L649.6,276.0L649.3,274.2L648.6,274.1L648.1,272.5L649.4,272.7L649.3,271.7L647.7,269.7L649.9,269.7Z" fill="#fed976" stroke="#6b6b6b" stroke-width="0.50" stroke-opacity="0.90"/>
<path d="M642.4,271.4L643.9,272.3L645.3,272.3L645.4,273.3L644.5,274.5L643.1,275.2L642.9,274.0L642.9,272.7Z" fill="#fed976" stroke="#6b6b6b" stroke-width="0.50" stroke-opacity="0.90"/>
<path d="M647.6,275.7L646.9,276.5L646.3,278.2L645.7,278.9L644.1,277.1L644.5,276.4L645.0,275.7L645.1,274.1L646.4,273.9L646.2,275.7L647.6,273.2Z" fill="#fed976" stroke="#6b6b6b" stroke-width="0.50" stroke-opacity="0.90"/>
<path d="M641.2,268.4L640.9,270.6L639.7,269.3L638.3,267.3L640.3,267.4Z" fill="#fed976" stroke="#6b6b6b" stroke-width="0.50" stroke-opacity="0.90"/>
<path d="M606.7,317.8L604.1,317.8L602.3,315.7L599.4,313.5L598.5,311.9L596.8,309.8L595.7,307.9L594.0,304.2L592.0,302.0L591.3,299.8L590.4,297.7L588.3,296.1L587.0,293.9L585.2,292.4L582.7,289.5L582.5,288.2L584.0,288.3L587.6,288.8L589.7,291.3L591.5,293.1L592.8,294.2L595.1,297.0L597.5,297.1L599.4,298.8L600.8,301.0L602.6,302.2L601.6,304.4L602.9,305.3L603.8,305.3L604.1,307.1L604.9,308.6L606.6,308.8L607.7,310.5L607.0,313.8Z" fill="#fd8d3c" stroke="#6b6b6b" stroke-width="0.50" stroke-opacity="0.90"/>
<path d="M613.0,320.2L617.4,320.5L618.0,319.4L622.2,320.7L622.9,322.3L626.3,322.8L629.1,324.4L626.3,325.4L623.9,324.3L621.8,324.4L619.4,324.2L617.3,323.7L614.7,322.7L613.0,322.5L612.1,322.8L607.9,321.7L607.6,320.6L605.5,320.4L607.2,317.9L610.0,318.0L611.8,319.1L612.8,319.3Z" fill="#fd8d3c" stroke="#6b6b6b" stroke-width="0.50" stroke-opacity="0.90"/>
<g clip-path="url(#c_Borneo)">
<path d="M634.7,291.7L633.5,294.1L635.3,296.5L634.9,297.7L637.5,300.1L634.8,300.5L634.0,302.2L634.1,304.6L631.9,306.4L631.7,309.0L630.7,313.0L630.4,312.1L627.7,313.2L626.9,311.6L625.3,311.5L624.1,310.6L621.4,311.6L620.6,310.3L619.0,310.5L617.1,310.2L616.9,306.7L615.8,305.9L614.7,303.7L614.4,301.4L614.6,299.0L615.9,297.3L617.7,298.2L619.4,297.7L619.8,295.4L620.8,295.0L623.5,294.4L625.1,292.3L626.2,290.7L627.0,289.7L628.9,288.3L630.6,286.5L631.7,284.4L632.6,284.4L633.8,285.7L634.0,286.9L635.6,287.6L637.5,288.4L637.4,289.4L635.9,289.5L636.3,290.8Z" fill="#fd8d3c"/>
<path d="M615.9,297.3L616.4,299.0L617.9,300.5L619.4,299.9L620.9,300.1L622.2,298.8L623.3,298.6L625.5,299.3L627.4,298.8L628.5,295.1L629.3,294.2L630.0,291.2L632.7,291.2L634.7,291.7L639.6,292.1L639.0,281.6L627.5,281.6L614.3,294.7Z" fill="#fc4e2a" stroke="#6b6b6b" stroke-width="0.50" stroke-opacity="0.90"/>
<path d="M626.2,290.7L626.5,288.9L628.6,287.9L628.9,288.3L628.9,289.5L628.8,291.2L627.7,291.1L627.3,292.0Z" fill="#fc4e2a" stroke="#6b6b6b" stroke-width="0.50" stroke-opacity="0.90"/>
</g>
<path d="M634.7,291.7L633.5,294.1L635.3,296.5L634.9,297.7L637.5,300.1L634.8,300.5L634.0,302.2L634.1,304.6L631.9,306.4L631.7,309.0L630.7,313.0L630.4,312.1L627.7,313.2L626.9,311.6L625.3,311.5L624.1,310.6L621.4,311.6L620.6,310.3L619.0,310.5L617.1,310.2L616.9,306.7L615.8,305.9L614.7,303.7L614.4,301.4L614.6,299.0L615.9,297.3L617.7,298.2L619.4,297.7L619.8,295.4L620.8,295.0L623.5,294.4L625.1,292.3L626.2,290.7L627.0,289.7L628.9,288.3L630.6,286.5L631.7,284.4L632.6,284.4L633.8,285.7L634.0,286.9L635.6,287.6L637.5,288.4L637.4,289.4L635.9,289.5L636.3,290.8Z" fill="none" stroke="#6b6b6b" stroke-width="0.50" stroke-opacity="0.90"/>
<path d="M651.9,298.8L650.1,301.4L648.4,301.9L646.1,301.4L642.3,301.5L640.3,301.9L639.9,303.9L642.0,306.2L643.2,305.0L647.5,304.1L647.3,305.3L646.3,304.9L645.3,306.5L643.3,307.5L645.3,310.8L644.9,311.7L646.8,314.7L646.7,316.4L645.4,317.2L644.6,316.3L645.8,314.1L643.5,315.2L642.9,314.4L643.3,313.4L641.7,311.9L642.0,309.4L640.4,310.2L640.5,313.2L640.4,316.9L638.9,317.3L638.0,316.6L638.7,314.1L638.5,311.6L637.5,311.6L636.9,309.8L637.9,308.1L638.2,306.0L639.5,302.1L639.9,301.0L641.9,299.1L643.7,299.9L646.6,300.2L649.2,300.1L651.5,298.2Z" fill="#fd8d3c" stroke="#6b6b6b" stroke-width="0.50" stroke-opacity="0.90"/>
<g clip-path="url(#c_NewGuinea)">
<path d="M672.4,305.5L673.0,309.7L675.3,311.3L677.3,308.5L680.0,306.9L682.1,306.9L684.0,307.9L685.7,308.8L688.2,309.3L692.1,311.1L696.3,312.6L697.8,313.9L699.0,315.2L699.2,316.8L703.0,318.4L703.4,319.8L701.3,320.1L701.7,321.8L703.6,323.5L704.8,326.3L706.1,326.2L705.9,327.3L707.7,327.8L706.9,328.3L709.2,329.4L708.9,330.1L707.3,330.3L706.8,329.6L704.9,329.3L702.6,329.0L701.0,327.3L699.9,325.8L698.9,323.6L696.0,322.4L694.0,323.2L692.5,324.0L692.6,326.0L690.7,326.9L689.5,326.4L687.1,326.3L685.3,324.2L683.0,323.7L682.3,324.4L679.4,324.5L680.6,322.3L682.1,321.6L681.7,318.8L680.7,316.6L676.4,314.4L674.5,314.1L671.1,311.7L670.4,313.0L669.5,313.2L669.0,312.3L669.1,311.1L667.4,309.9L669.9,308.9L671.5,309.0L671.4,308.3L668.0,308.3L667.1,306.7L665.0,306.2L664.1,305.0L667.2,304.3L668.4,303.5L672.1,304.5Z" fill="#fd8d3c"/>
<path d="M688.2,307.7L687.6,319.0L687.2,320.3L687.5,321.3L686.8,328.6L711.6,332.5L713.6,307.7Z" fill="#feb24c" stroke="#6b6b6b" stroke-width="0.50" stroke-opacity="0.90"/>
</g>
<path d="M672.4,305.5L673.0,309.7L675.3,311.3L677.3,308.5L680.0,306.9L682.1,306.9L684.0,307.9L685.7,308.8L688.2,309.3L692.1,311.1L696.3,312.6L697.8,313.9L699.0,315.2L699.2,316.8L703.0,318.4L703.4,319.8L701.3,320.1L701.7,321.8L703.6,323.5L704.8,326.3L706.1,326.2L705.9,327.3L707.7,327.8L706.9,328.3L709.2,329.4L708.9,330.1L707.3,330.3L706.8,329.6L704.9,329.3L702.6,329.0L701.0,327.3L699.9,325.8L698.9,323.6L696.0,322.4L694.0,323.2L692.5,324.0L692.6,326.0L690.7,326.9L689.5,326.4L687.1,326.3L685.3,324.2L683.0,323.7L682.3,324.4L679.4,324.5L680.6,322.3L682.1,321.6L681.7,318.8L680.7,316.6L676.4,314.4L674.5,314.1L671.1,311.7L670.4,313.0L669.5,313.2L669.0,312.3L669.1,311.1L667.4,309.9L669.9,308.9L671.5,309.0L671.4,308.3L668.0,308.3L667.1,306.7L665.0,306.2L664.1,305.0L667.2,304.3L668.4,303.5L672.1,304.5Z" fill="none" stroke="#6b6b6b" stroke-width="0.50" stroke-opacity="0.90"/>
<g clip-path="url(#c_Timor)">
<path d="M650.2,325.7L650.6,325.1L652.6,324.5L654.2,324.4L655.0,324.1L655.8,324.4L654.9,325.1L652.4,326.3L650.4,327.0L648.7,329.0L646.7,329.6L646.5,329.2L646.8,328.4L647.9,326.8Z" fill="#fd8d3c"/>
<path d="M650.3,324.7L650.4,327.3L657.1,327.3L657.4,323.4L650.5,323.4Z" fill="#feb24c" stroke="#6b6b6b" stroke-width="0.50" stroke-opacity="0.90"/>
</g>
<path d="M650.2,325.7L650.6,325.1L652.6,324.5L654.2,324.4L655.0,324.1L655.8,324.4L654.9,325.1L652.4,326.3L650.4,327.0L648.7,329.0L646.7,329.6L646.5,329.2L646.8,328.4L647.9,326.8Z" fill="none" stroke="#6b6b6b" stroke-width="0.50" stroke-opacity="0.90"/>
<path d="M634.9,324.3L636.4,324.1L636.9,325.2L634.2,325.8L632.5,326.1L631.3,326.1L632.2,324.6L633.5,324.6L634.1,323.7Z" fill="#fd8d3c" stroke="#6b6b6b" stroke-width="0.50" stroke-opacity="0.90"/>
<path d="M629.5,324.2L630.7,323.9L631.3,324.7L630.5,325.9L629.3,325.4Z" fill="#fd8d3c" stroke="#6b6b6b" stroke-width="0.50" stroke-opacity="0.90"/>
<path d="M642.0,324.8L643.5,324.6L645.6,323.6L645.2,325.1L641.7,325.8L638.7,325.5L638.7,324.5L640.6,324.0Z" fill="#fd8d3c" stroke="#6b6b6b" stroke-width="0.50" stroke-opacity="0.90"/>
<path d="M639.6,327.8L640.4,328.5L639.2,329.3L636.3,327.5L638.5,326.9Z" fill="#fd8d3c" stroke="#6b6b6b" stroke-width="0.50" stroke-opacity="0.90"/>
<path d="M659.9,299.5L659.8,301.8L658.6,301.6L658.2,303.2L659.2,304.5L658.5,304.9L657.6,303.2L656.9,299.9L657.3,297.8L658.0,296.8L658.2,298.2L659.6,298.5Z" fill="#fd8d3c" stroke="#6b6b6b" stroke-width="0.50" stroke-opacity="0.90"/>
<path d="M663.8,310.6L664.6,312.6L662.7,311.5L660.8,311.3L659.4,311.5L657.9,311.4L658.5,309.9L661.3,309.8Z" fill="#fd8d3c" stroke="#6b6b6b" stroke-width="0.50" stroke-opacity="0.90"/>
<path d="M655.8,310.7L656.4,311.5L655.4,312.4L653.9,311.9L653.5,310.8Z" fill="#fd8d3c" stroke="#6b6b6b" stroke-width="0.50" stroke-opacity="0.90"/>
<path d="M605.9,306.9L607.7,306.7L609.1,309.0L608.8,310.3L607.2,310.1Z" fill="#fd8d3c" stroke="#6b6b6b" stroke-width="0.50" stroke-opacity="0.90"/>
<path d="M434.1,210.7L434.3,210.7L434.5,210.1L436.1,210.1L438.0,209.3L436.7,210.4L437.0,211.1L434.9,212.2L433.7,211.9L433.1,210.8Z" fill="#fc4e2a" stroke="#6b6b6b" stroke-width="0.50" stroke-opacity="0.90"/>
<path d="M414.4,209.2L415.7,210.1L417.3,210.0L419.0,210.2L419.0,210.6L420.1,210.3L419.9,211.1L416.8,211.3L416.8,210.9L414.1,210.4Z" fill="#bd0026" stroke="#6b6b6b" stroke-width="0.50" stroke-opacity="0.90"/>
<path d="M396.3,202.7L395.6,204.7L396.0,205.5L395.6,206.9L393.9,205.9L392.8,205.6L389.7,204.3L390.0,202.9L392.5,203.2L394.7,202.9Z" fill="#800026" stroke="#6b6b6b" stroke-width="0.50" stroke-opacity="0.90"/>
<path d="M382.5,194.9L383.8,196.8L383.6,200.2L382.7,200.0L381.8,200.9L381.0,200.2L380.8,197.1L380.3,195.6L381.4,195.7Z" fill="#800026" stroke="#6b6b6b" stroke-width="0.50" stroke-opacity="0.90"/>
<path d="M383.1,192.5L382.5,194.5L381.5,194.0L380.9,192.2L381.3,191.3L382.6,190.3Z" fill="#bd0026" stroke="#6b6b6b" stroke-width="0.50" stroke-opacity="0.90"/>
<path d="M386.6,157.2L387.3,158.4L386.3,160.4L384.2,159.0L383.9,158.0Z" fill="#bd0026" stroke="#6b6b6b" stroke-width="0.50" stroke-opacity="0.90"/>
<path d="M691.4,338.4L691.9,340.5L693.5,339.5L695.0,341.6L694.6,342.8L694.7,345.0L695.5,348.9L694.9,350.2L697.5,353.4L700.1,355.8L699.6,356.4L700.6,358.0L700.8,360.8L703.1,361.0L702.8,363.8L704.8,366.4L705.9,368.5L705.9,370.6L705.5,372.1L704.8,373.7L705.0,375.9L704.0,378.2L701.6,381.8L699.8,385.1L697.7,387.5L695.5,388.8L691.6,392.8L687.4,397.6L686.2,399.4L684.1,401.1L681.6,401.2L679.1,402.3L675.6,404.4L674.5,403.3L673.4,402.8L674.5,401.5L673.1,402.0L670.1,403.8L668.7,403.1L667.7,402.7L666.6,402.5L664.9,401.8L664.4,400.2L665.0,398.2L665.6,395.8L664.6,395.8L662.6,395.5L664.0,394.2L664.3,392.3L662.4,394.1L660.3,394.6L662.1,393.2L663.1,391.6L664.5,390.4L665.2,388.4L662.4,390.6L660.7,391.5L658.9,393.6L657.7,392.6L658.4,391.2L657.8,389.3L657.1,388.3L657.7,387.7L655.6,386.1L654.1,386.0L652.4,384.8L648.4,385.0L644.9,386.7L642.3,386.8L640.3,386.7L637.5,388.0L635.3,388.6L634.4,389.9L633.1,391.0L631.3,391.1L629.8,391.3L628.1,390.8L626.4,391.1L624.8,391.2L623.0,392.6L622.4,392.5L621.0,393.3L619.6,394.1L618.1,394.0L616.6,394.0L614.9,392.3L614.0,391.8L614.6,390.3L615.8,390.0L616.4,389.4L616.7,388.4L617.6,386.6L617.9,385.1L617.6,382.4L617.7,380.9L618.2,379.4L617.8,377.7L618.0,377.0L617.3,375.9L617.6,373.9L616.8,371.8L616.8,370.7L617.5,371.8L617.3,369.4L618.2,370.2L618.6,371.2L618.9,369.9L618.3,367.8L618.3,367.0L617.9,366.2L618.4,364.7L619.0,364.0L619.6,362.7L619.6,361.2L620.9,359.3L620.7,361.3L622.0,359.5L624.0,358.7L625.3,357.5L627.1,356.6L628.2,356.4L628.8,356.7L630.7,355.7L632.2,355.4L632.6,354.8L633.2,354.6L634.5,354.7L637.0,353.9L638.5,352.7L639.3,351.4L640.8,350.0L641.1,349.0L641.4,347.6L643.4,345.4L644.0,347.6L645.0,347.1L644.4,345.9L645.4,344.6L646.3,345.1L646.9,343.2L648.3,341.9L649.0,340.8L650.2,340.4L650.4,339.7L651.3,340.0L651.4,339.3L652.5,338.9L653.7,338.6L655.2,339.8L656.2,341.3L657.7,341.4L659.1,341.6L658.8,340.2L660.2,338.1L661.3,337.4L661.0,336.7L662.2,335.3L663.7,334.3L664.9,334.6L666.9,334.1L667.0,332.8L665.4,331.9L666.6,331.6L668.1,332.2L669.2,333.3L671.0,333.9L671.7,333.7L673.0,334.5L674.5,333.7L675.3,334.0L675.9,333.5L676.8,334.8L676.0,336.2L675.0,337.2L674.2,337.3L674.3,338.3L673.4,339.6L672.4,340.9L672.5,341.7L674.1,343.1L675.7,343.9L676.7,344.9L678.1,346.4L678.7,346.4L679.8,347.1L680.0,347.9L682.0,348.8L683.6,347.9L684.4,346.5L685.0,345.3L685.6,343.9L686.6,341.8L686.5,340.5L686.8,339.8L686.8,338.3L687.3,336.3L687.9,335.8L687.6,334.9L688.4,333.5L689.0,332.1L689.1,331.3L690.1,330.4L690.6,331.6L690.5,333.3L691.1,333.6L691.0,334.7L691.7,336.0L691.6,337.5Z" fill="#bd0026" stroke="#6b6b6b" stroke-width="0.50" stroke-opacity="0.90"/>
<path d="M670.9,409.0L672.4,409.9L673.7,409.5L675.7,409.0L676.9,409.2L675.0,412.3L673.7,413.2L672.1,415.2L671.8,414.5L669.1,416.3L668.8,416.2L667.6,416.1L667.8,413.9L668.6,412.2L668.9,409.9L669.6,408.7Z" fill="#bd0026" stroke="#6b6b6b" stroke-width="0.50" stroke-opacity="0.90"/>
<path d="M739.0,407.1L737.1,408.5L734.7,410.3L732.3,411.3L732.5,410.6L731.9,410.2L734.7,408.1L735.0,406.7L733.5,405.7L734.2,404.7L736.4,403.8L738.1,401.8L739.1,400.1L739.3,398.4L739.7,397.9L739.3,396.8L739.0,394.5L739.2,392.7L740.1,392.5L740.4,393.9L741.7,394.6L740.9,396.9L740.8,399.7L741.9,397.9L742.5,398.6L741.5,400.6L742.7,401.4L744.0,401.6L745.9,400.6L746.8,400.9L744.7,403.2L743.0,404.8L741.4,404.7L740.2,405.5L739.6,406.6Z" fill="#fc4e2a" stroke="#6b6b6b" stroke-width="0.50" stroke-opacity="0.90"/>
<path d="M716.8,416.1L719.7,414.8L722.0,413.4L724.4,411.5L725.7,410.8L727.1,409.4L729.5,408.2L729.1,409.3L728.8,410.4L731.1,409.3L730.9,410.4L730.0,411.5L728.3,412.7L725.4,414.6L723.5,415.6L723.3,416.9L721.7,416.9L719.1,417.9L717.2,419.6L713.8,422.2L711.3,423.3L709.6,424.0L707.8,424.0L707.2,423.1L705.1,423.0L705.5,422.0L708.2,420.1L712.8,417.6L714.5,417.1Z" fill="#fc4e2a" stroke="#6b6b6b" stroke-width="0.50" stroke-opacity="0.90"/>
<path d="M738.0,357.6L739.4,359.2L740.3,360.4L739.3,361.0L738.2,360.3L736.9,359.1L735.8,357.7L734.7,355.9L734.6,355.0L735.6,355.0L736.6,355.9L737.4,356.8Z" fill="#e31a1c" stroke="#6b6b6b" stroke-width="0.50" stroke-opacity="0.90"/>
<path d="M769.0,347.8L769.6,348.5L768.9,349.9L767.4,350.3L766.2,349.9L766.3,348.8L767.4,347.9L768.3,348.2Z" fill="#fd8d3c" stroke="#6b6b6b" stroke-width="0.50" stroke-opacity="0.90"/>
<path d="M771.6,346.4L770.0,346.9L770.0,346.0L771.2,345.4L772.0,345.3L773.5,344.5L773.2,345.7Z" fill="#fd8d3c" stroke="#6b6b6b" stroke-width="0.50" stroke-opacity="0.90"/>
<path d="M735.1,329.9L735.7,330.8L734.1,330.8L733.4,329.1L734.7,329.8Z" fill="#fed976" stroke="#6b6b6b" stroke-width="0.50" stroke-opacity="0.90"/>
<path d="M732.4,328.3L730.2,328.1L729.7,327.7L730.0,326.6L731.4,327.0L732.1,327.6Z" fill="#fed976" stroke="#6b6b6b" stroke-width="0.50" stroke-opacity="0.90"/>
<path d="M734.4,327.6L734.0,328.0L732.6,325.8L732.2,324.2L733.0,324.2L733.6,326.3Z" fill="#fed976" stroke="#6b6b6b" stroke-width="0.50" stroke-opacity="0.90"/>
<path d="M730.6,324.3L730.7,324.8L727.8,322.7L727.0,321.9L727.4,321.6L728.4,322.2L730.2,323.4Z" fill="#fed976" stroke="#6b6b6b" stroke-width="0.50" stroke-opacity="0.90"/>
<path d="M725.5,321.7L725.0,321.8L724.1,321.3L723.2,320.2L723.3,319.7L724.6,320.8Z" fill="#fed976" stroke="#6b6b6b" stroke-width="0.50" stroke-opacity="0.90"/>
<path d="M745.5,345.5L744.7,345.9L744.2,344.7L744.5,344.0Z" fill="#fc4e2a" stroke="#6b6b6b" stroke-width="0.50" stroke-opacity="0.90"/>
<path d="M744.7,341.5L744.7,343.6L744.1,343.3L743.6,343.4L743.4,342.7L743.8,340.7Z" fill="#fc4e2a" stroke="#6b6b6b" stroke-width="0.50" stroke-opacity="0.90"/>
<path d="M713.1,316.8L711.8,317.0L711.4,317.8L710.1,318.4L708.9,319.0L707.7,319.0L705.8,318.2L704.6,317.5L704.8,316.7L706.9,317.1L708.1,316.9L708.6,315.6L708.9,315.6L709.0,316.9L710.4,316.8L711.1,315.8L712.4,314.9L712.3,313.4L713.6,313.3L714.1,313.8L713.9,315.2Z" fill="#feb24c" stroke="#6b6b6b" stroke-width="0.50" stroke-opacity="0.90"/>
<path d="M715.9,314.3L715.1,315.0L714.8,313.4L714.3,312.4L713.3,311.5L712.0,310.4L710.4,309.7L711.1,309.0L712.3,309.8L713.1,310.3L714.0,311.0L714.9,312.1L715.7,312.9Z" fill="#feb24c" stroke="#6b6b6b" stroke-width="0.50" stroke-opacity="0.90"/>
<path d="M719.5,316.4L720.1,317.0L721.1,318.7L722.2,319.6L721.8,320.3L721.1,320.6L720.2,319.6L719.3,317.9L718.9,315.9L719.3,315.7Z" fill="#feb24c" stroke="#6b6b6b" stroke-width="0.50" stroke-opacity="0.90"/>
<circle cx="222.5" cy="257.0" r="0.45" fill="#bd0026" stroke="#5a4a42" stroke-width="0.3" stroke-opacity="0.7"/><circle cx="220.6" cy="257.6" r="0.35" fill="#bd0026" stroke="#5a4a42" stroke-width="0.3" stroke-opacity="0.7"/><circle cx="222.6" cy="261.7" r="0.45" fill="#bd0026" stroke="#5a4a42" stroke-width="0.3" stroke-opacity="0.7"/><circle cx="223.4" cy="265.8" r="0.45" fill="#bd0026" stroke="#5a4a42" stroke-width="0.3" stroke-opacity="0.7"/><circle cx="226.6" cy="267.9" r="0.45" fill="#bd0026" stroke="#5a4a42" stroke-width="0.3" stroke-opacity="0.7"/><circle cx="221.6" cy="270.4" r="0.40" fill="#bd0026" stroke="#5a4a42" stroke-width="0.3" stroke-opacity="0.7"/><circle cx="0.3" cy="297.2" r="0.50" fill="#800026" stroke="#5a4a42" stroke-width="0.3" stroke-opacity="0.7"/><circle cx="493.3" cy="355.0" r="0.45" fill="#e31a1c" stroke="#5a4a42" stroke-width="0.3" stroke-opacity="0.7"/><circle cx="394.4" cy="208.2" r="0.40" fill="#bd0026" stroke="#5a4a42" stroke-width="0.3" stroke-opacity="0.7"/><circle cx="378.4" cy="301.2" r="0.50" fill="#fd8d3c" stroke="#5a4a42" stroke-width="0.3" stroke-opacity="0.7"/><circle cx="490.5" cy="314.3" r="0.50" fill="#fc4e2a" stroke="#5a4a42" stroke-width="0.3" stroke-opacity="0.7"/><circle cx="462.5" cy="332.5" r="0.60" fill="#feb24c" stroke="#5a4a42" stroke-width="0.3" stroke-opacity="0.7"/><circle cx="464.0" cy="334.0" r="0.50" fill="#feb24c" stroke="#5a4a42" stroke-width="0.3" stroke-opacity="0.7"/>
</g>
<g id="legend">
<rect x="127.5" y="501.3" width="48.2" height="11.2" fill="url(#hatch)" stroke="#bbb" stroke-width="0.6"/>
<line x1="151.6" x2="151.6" y1="498.6" y2="502.3" stroke="#999" stroke-width="0.6"/>
<text class="lg" x="151.6" y="494.6" text-anchor="middle">No data</text>
<rect x="195.50" y="501.3" width="58.83" height="11.2" fill="#ffffcc"/>
<rect x="254.03" y="501.3" width="58.83" height="11.2" fill="#ffeda0"/>
<rect x="312.56" y="501.3" width="58.83" height="11.2" fill="#fed976"/>
<rect x="371.09" y="501.3" width="58.83" height="11.2" fill="#feb24c"/>
<rect x="429.62" y="501.3" width="58.83" height="11.2" fill="#fd8d3c"/>
<rect x="488.15" y="501.3" width="58.83" height="11.2" fill="#fc4e2a"/>
<rect x="546.68" y="501.3" width="58.83" height="11.2" fill="#e31a1c"/>
<rect x="605.21" y="501.3" width="58.83" height="11.2" fill="#bd0026"/>
<path d="M663.74,501.3L718.8,501.3L723.2,506.9L718.8,512.5L663.74,512.5Z" fill="#800026"/>
<path d="M195.50,501.3L718.8,501.3L723.2,506.9L718.8,512.5L195.50,512.5Z" fill="none" stroke="#bbb" stroke-width="0.5"/>
<line x1="195.50" x2="195.50" y1="498.6" y2="512.5" stroke="#999" stroke-width="0.6"/>
<text class="lg" x="195.50" y="494.6" text-anchor="middle">0 g</text>
<line x1="254.03" x2="254.03" y1="498.6" y2="512.5" stroke="#999" stroke-width="0.6"/>
<text class="lg" x="254.03" y="494.6" text-anchor="middle">20 g</text>
<line x1="312.56" x2="312.56" y1="498.6" y2="512.5" stroke="#999" stroke-width="0.6"/>
<text class="lg" x="312.56" y="494.6" text-anchor="middle">40 g</text>
<line x1="371.09" x2="371.09" y1="498.6" y2="512.5" stroke="#999" stroke-width="0.6"/>
<text class="lg" x="371.09" y="494.6" text-anchor="middle">60 g</text>
<line x1="429.62" x2="429.62" y1="498.6" y2="512.5" stroke="#999" stroke-width="0.6"/>
<text class="lg" x="429.62" y="494.6" text-anchor="middle">80 g</text>
<line x1="488.15" x2="488.15" y1="498.6" y2="512.5" stroke="#999" stroke-width="0.6"/>
<text class="lg" x="488.15" y="494.6" text-anchor="middle">100 g</text>
<line x1="546.68" x2="546.68" y1="498.6" y2="512.5" stroke="#999" stroke-width="0.6"/>
<text class="lg" x="546.68" y="494.6" text-anchor="middle">120 g</text>
<line x1="605.21" x2="605.21" y1="498.6" y2="512.5" stroke="#999" stroke-width="0.6"/>
<text class="lg" x="605.21" y="494.6" text-anchor="middle">140 g</text>
<line x1="663.74" x2="663.74" y1="498.6" y2="512.5" stroke="#999" stroke-width="0.6"/>
<text class="lg" x="663.74" y="494.6" text-anchor="middle">160 g</text>
</g>
</svg>
<div id="src" class="abs foot"><b style="letter-spacing:-0.42px">Data source:</b><span style="letter-spacing:0.08px"> Food and Agriculture Organization of the United Nations (2025)</span></div>
<div id="url" class="abs foot">OurWorldinData.org/food-supply | CC BY</div>
<div id="note1" class="abs foot"><b>Note:</b> Data measures the fat availability delivered to households but does not necessarily indicate the quantity of fat actually consumed (food</div>
<div id="note2" class="abs foot">may be wasted at the consumer level).</div>
</body>
</html>
